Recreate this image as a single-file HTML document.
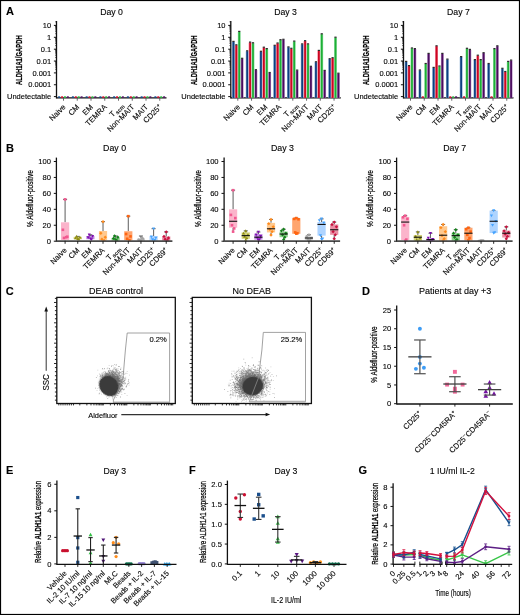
<!DOCTYPE html>
<html><head><meta charset="utf-8"><title>Figure</title>
<style>html,body{margin:0;padding:0;background:#fff;}svg{display:block;filter:blur(0.3px);}text{font-family:"Liberation Sans",sans-serif;}</style>
</head><body>
<svg width="520" height="615" viewBox="0 0 520 615" font-family='"Liberation Sans", sans-serif'>
<defs><filter id="bl1" x="-50%" y="-50%" width="200%" height="200%"><feGaussianBlur stdDeviation="0.7"/></filter><filter id="bl2" x="-50%" y="-50%" width="200%" height="200%"><feGaussianBlur stdDeviation="1.3"/></filter></defs>
<rect x="0" y="0" width="520" height="615" fill="#fff"/>
<text x="6.1" y="14.7" font-size="11" font-weight="bold" fill="#000" stroke="#000" stroke-width="0.12">A</text>
<text x="111.5" y="14.5" font-size="8.7" text-anchor="middle" stroke="#111" stroke-width="0.12">Day 0</text>
<line x1="56.5" y1="21" x2="56.5" y2="98.5" stroke="#111" stroke-width="1.3"/>
<line x1="53.9" y1="25.4" x2="56.5" y2="25.4" stroke="#111" stroke-width="1"/>
<text x="51.2" y="28" font-size="7.5" text-anchor="end" stroke="#111" stroke-width="0.12">10</text>
<line x1="53.9" y1="37.3" x2="56.5" y2="37.3" stroke="#111" stroke-width="1"/>
<text x="51.2" y="39.9" font-size="7.5" text-anchor="end" stroke="#111" stroke-width="0.12">1</text>
<line x1="53.9" y1="49.2" x2="56.5" y2="49.2" stroke="#111" stroke-width="1"/>
<text x="51.2" y="51.8" font-size="7.5" text-anchor="end" stroke="#111" stroke-width="0.12">0.1</text>
<line x1="53.9" y1="61.05" x2="56.5" y2="61.05" stroke="#111" stroke-width="1"/>
<text x="51.2" y="63.65" font-size="7.5" text-anchor="end" stroke="#111" stroke-width="0.12">0.01</text>
<line x1="53.9" y1="72.9" x2="56.5" y2="72.9" stroke="#111" stroke-width="1"/>
<text x="51.2" y="75.5" font-size="7.5" text-anchor="end" stroke="#111" stroke-width="0.12">0.001</text>
<line x1="53.9" y1="84.75" x2="56.5" y2="84.75" stroke="#111" stroke-width="1"/>
<text x="51.2" y="87.35" font-size="7.5" text-anchor="end" stroke="#111" stroke-width="0.12">0.0001</text>
<line x1="53.9" y1="96.6" x2="56.5" y2="96.6" stroke="#111" stroke-width="1"/>
<text x="51.2" y="99.2" font-size="7.5" text-anchor="end" textLength="44.2" lengthAdjust="spacingAndGlyphs" stroke="#111" stroke-width="0.12">Undetectable</text>
<line x1="55.1" y1="21.83" x2="56.5" y2="21.83" stroke="#111" stroke-width="0.6"/>
<line x1="55.1" y1="33.7" x2="56.5" y2="33.7" stroke="#111" stroke-width="0.6"/>
<line x1="55.1" y1="31.61" x2="56.5" y2="31.61" stroke="#111" stroke-width="0.6"/>
<line x1="55.1" y1="30.12" x2="56.5" y2="30.12" stroke="#111" stroke-width="0.6"/>
<line x1="55.1" y1="28.97" x2="56.5" y2="28.97" stroke="#111" stroke-width="0.6"/>
<line x1="55.1" y1="28.03" x2="56.5" y2="28.03" stroke="#111" stroke-width="0.6"/>
<line x1="55.1" y1="27.24" x2="56.5" y2="27.24" stroke="#111" stroke-width="0.6"/>
<line x1="55.1" y1="26.55" x2="56.5" y2="26.55" stroke="#111" stroke-width="0.6"/>
<line x1="55.1" y1="25.94" x2="56.5" y2="25.94" stroke="#111" stroke-width="0.6"/>
<line x1="55.1" y1="45.57" x2="56.5" y2="45.57" stroke="#111" stroke-width="0.6"/>
<line x1="55.1" y1="43.48" x2="56.5" y2="43.48" stroke="#111" stroke-width="0.6"/>
<line x1="55.1" y1="41.99" x2="56.5" y2="41.99" stroke="#111" stroke-width="0.6"/>
<line x1="55.1" y1="40.84" x2="56.5" y2="40.84" stroke="#111" stroke-width="0.6"/>
<line x1="55.1" y1="39.9" x2="56.5" y2="39.9" stroke="#111" stroke-width="0.6"/>
<line x1="55.1" y1="39.11" x2="56.5" y2="39.11" stroke="#111" stroke-width="0.6"/>
<line x1="55.1" y1="38.42" x2="56.5" y2="38.42" stroke="#111" stroke-width="0.6"/>
<line x1="55.1" y1="37.81" x2="56.5" y2="37.81" stroke="#111" stroke-width="0.6"/>
<line x1="55.1" y1="57.44" x2="56.5" y2="57.44" stroke="#111" stroke-width="0.6"/>
<line x1="55.1" y1="55.35" x2="56.5" y2="55.35" stroke="#111" stroke-width="0.6"/>
<line x1="55.1" y1="53.86" x2="56.5" y2="53.86" stroke="#111" stroke-width="0.6"/>
<line x1="55.1" y1="52.71" x2="56.5" y2="52.71" stroke="#111" stroke-width="0.6"/>
<line x1="55.1" y1="51.77" x2="56.5" y2="51.77" stroke="#111" stroke-width="0.6"/>
<line x1="55.1" y1="50.98" x2="56.5" y2="50.98" stroke="#111" stroke-width="0.6"/>
<line x1="55.1" y1="50.29" x2="56.5" y2="50.29" stroke="#111" stroke-width="0.6"/>
<line x1="55.1" y1="49.68" x2="56.5" y2="49.68" stroke="#111" stroke-width="0.6"/>
<line x1="55.1" y1="69.31" x2="56.5" y2="69.31" stroke="#111" stroke-width="0.6"/>
<line x1="55.1" y1="67.22" x2="56.5" y2="67.22" stroke="#111" stroke-width="0.6"/>
<line x1="55.1" y1="65.73" x2="56.5" y2="65.73" stroke="#111" stroke-width="0.6"/>
<line x1="55.1" y1="64.58" x2="56.5" y2="64.58" stroke="#111" stroke-width="0.6"/>
<line x1="55.1" y1="63.64" x2="56.5" y2="63.64" stroke="#111" stroke-width="0.6"/>
<line x1="55.1" y1="62.85" x2="56.5" y2="62.85" stroke="#111" stroke-width="0.6"/>
<line x1="55.1" y1="62.16" x2="56.5" y2="62.16" stroke="#111" stroke-width="0.6"/>
<line x1="55.1" y1="61.55" x2="56.5" y2="61.55" stroke="#111" stroke-width="0.6"/>
<text x="22.2" y="60.25" font-size="8.8" text-anchor="middle" font-weight="bold" textLength="49.7" lengthAdjust="spacingAndGlyphs" transform="rotate(-90 22.2 60.25)" stroke="#111" stroke-width="0.2">ALDH1A1/GAPDH</text>
<line x1="56.5" y1="97.9" x2="166.5" y2="97.9" stroke="#111" stroke-width="1.3"/>
<line x1="63.5" y1="97.9" x2="63.5" y2="100.7" stroke="#555" stroke-width="0.9"/>
<rect x="58.15" y="96.3" width="2" height="1.6" fill="#174a8b"/>
<rect x="61.05" y="96.3" width="2" height="1.6" fill="#d5112e"/>
<rect x="63.95" y="96.3" width="2" height="1.6" fill="#2db541"/>
<rect x="66.85" y="96.3" width="2" height="1.6" fill="#531565"/>
<text x="66.1" y="107.5" font-size="7.67" text-anchor="end" transform="rotate(-45 66.1 107.5)" stroke="#111" stroke-width="0.12">Naive</text>
<line x1="77.25" y1="97.9" x2="77.25" y2="100.7" stroke="#555" stroke-width="0.9"/>
<rect x="71.9" y="96.3" width="2" height="1.6" fill="#174a8b"/>
<rect x="74.8" y="96.3" width="2" height="1.6" fill="#d5112e"/>
<rect x="77.7" y="96.3" width="2" height="1.6" fill="#2db541"/>
<rect x="80.6" y="96.3" width="2" height="1.6" fill="#531565"/>
<text x="79.85" y="107.5" font-size="7.67" text-anchor="end" transform="rotate(-45 79.85 107.5)" stroke="#111" stroke-width="0.12">CM</text>
<line x1="91" y1="97.9" x2="91" y2="100.7" stroke="#555" stroke-width="0.9"/>
<rect x="85.65" y="96.3" width="2" height="1.6" fill="#174a8b"/>
<rect x="88.55" y="96.3" width="2" height="1.6" fill="#d5112e"/>
<rect x="91.45" y="96.3" width="2" height="1.6" fill="#2db541"/>
<rect x="94.35" y="96.3" width="2" height="1.6" fill="#531565"/>
<text x="93.6" y="107.5" font-size="7.67" text-anchor="end" transform="rotate(-45 93.6 107.5)" stroke="#111" stroke-width="0.12">EM</text>
<line x1="104.75" y1="97.9" x2="104.75" y2="100.7" stroke="#555" stroke-width="0.9"/>
<rect x="99.4" y="96.3" width="2" height="1.6" fill="#174a8b"/>
<rect x="102.3" y="96.3" width="2" height="1.6" fill="#d5112e"/>
<rect x="105.2" y="96.3" width="2" height="1.6" fill="#2db541"/>
<rect x="108.1" y="96.3" width="2" height="1.6" fill="#531565"/>
<text x="107.35" y="107.5" font-size="7.67" text-anchor="end" transform="rotate(-45 107.35 107.5)" stroke="#111" stroke-width="0.12">TEMRA</text>
<line x1="118.5" y1="97.9" x2="118.5" y2="100.7" stroke="#555" stroke-width="0.9"/>
<rect x="113.15" y="96.3" width="2" height="1.6" fill="#174a8b"/>
<rect x="116.05" y="96.3" width="2" height="1.6" fill="#d5112e"/>
<rect x="118.95" y="96.3" width="2" height="1.6" fill="#2db541"/>
<rect x="121.85" y="96.3" width="2" height="1.6" fill="#531565"/>
<text x="124.1" y="105.9" font-size="7.67" text-anchor="end" transform="rotate(-45 124.1 105.9)" stroke="#111" stroke-width="0.12">T<tspan font-size="5.8" dx="1.0" dy="1.7">scm</tspan></text>
<line x1="132.25" y1="97.9" x2="132.25" y2="100.7" stroke="#555" stroke-width="0.9"/>
<rect x="126.9" y="96.3" width="2" height="1.6" fill="#174a8b"/>
<rect x="129.8" y="96.3" width="2" height="1.6" fill="#d5112e"/>
<rect x="132.7" y="96.3" width="2" height="1.6" fill="#2db541"/>
<rect x="135.6" y="96.3" width="2" height="1.6" fill="#531565"/>
<text x="134.85" y="107.5" font-size="7.67" text-anchor="end" transform="rotate(-45 134.85 107.5)" stroke="#111" stroke-width="0.12">Non-MAIT</text>
<line x1="146" y1="97.9" x2="146" y2="100.7" stroke="#555" stroke-width="0.9"/>
<rect x="140.65" y="96.3" width="2" height="1.6" fill="#174a8b"/>
<rect x="143.55" y="96.3" width="2" height="1.6" fill="#d5112e"/>
<rect x="146.45" y="96.3" width="2" height="1.6" fill="#2db541"/>
<rect x="149.35" y="96.3" width="2" height="1.6" fill="#531565"/>
<text x="148.6" y="107.5" font-size="7.67" text-anchor="end" transform="rotate(-45 148.6 107.5)" stroke="#111" stroke-width="0.12">MAIT</text>
<line x1="159.75" y1="97.9" x2="159.75" y2="100.7" stroke="#555" stroke-width="0.9"/>
<rect x="154.4" y="96.3" width="2" height="1.6" fill="#174a8b"/>
<rect x="157.3" y="96.3" width="2" height="1.6" fill="#d5112e"/>
<rect x="160.2" y="96.3" width="2" height="1.6" fill="#2db541"/>
<rect x="163.1" y="96.3" width="2" height="1.6" fill="#531565"/>
<text x="162.35" y="107.5" font-size="7.67" text-anchor="end" transform="rotate(-45 162.35 107.5)" stroke="#111" stroke-width="0.12">CD25<tspan font-size="5.4" dy="-2.8">+</tspan></text>
<text x="285.6" y="14.5" font-size="8.7" text-anchor="middle" stroke="#111" stroke-width="0.12">Day 3</text>
<line x1="230.8" y1="21" x2="230.8" y2="98.5" stroke="#111" stroke-width="1.3"/>
<line x1="228.2" y1="25.4" x2="230.8" y2="25.4" stroke="#111" stroke-width="1"/>
<text x="225.5" y="28" font-size="7.5" text-anchor="end" stroke="#111" stroke-width="0.12">10</text>
<line x1="228.2" y1="37.3" x2="230.8" y2="37.3" stroke="#111" stroke-width="1"/>
<text x="225.5" y="39.9" font-size="7.5" text-anchor="end" stroke="#111" stroke-width="0.12">1</text>
<line x1="228.2" y1="49.2" x2="230.8" y2="49.2" stroke="#111" stroke-width="1"/>
<text x="225.5" y="51.8" font-size="7.5" text-anchor="end" stroke="#111" stroke-width="0.12">0.1</text>
<line x1="228.2" y1="61.05" x2="230.8" y2="61.05" stroke="#111" stroke-width="1"/>
<text x="225.5" y="63.65" font-size="7.5" text-anchor="end" stroke="#111" stroke-width="0.12">0.01</text>
<line x1="228.2" y1="72.9" x2="230.8" y2="72.9" stroke="#111" stroke-width="1"/>
<text x="225.5" y="75.5" font-size="7.5" text-anchor="end" stroke="#111" stroke-width="0.12">0.001</text>
<line x1="228.2" y1="84.75" x2="230.8" y2="84.75" stroke="#111" stroke-width="1"/>
<text x="225.5" y="87.35" font-size="7.5" text-anchor="end" stroke="#111" stroke-width="0.12">0.0001</text>
<line x1="228.2" y1="96.6" x2="230.8" y2="96.6" stroke="#111" stroke-width="1"/>
<text x="225.5" y="99.2" font-size="7.5" text-anchor="end" textLength="44.2" lengthAdjust="spacingAndGlyphs" stroke="#111" stroke-width="0.12">Undetectable</text>
<line x1="229.4" y1="21.83" x2="230.8" y2="21.83" stroke="#111" stroke-width="0.6"/>
<line x1="229.4" y1="33.7" x2="230.8" y2="33.7" stroke="#111" stroke-width="0.6"/>
<line x1="229.4" y1="31.61" x2="230.8" y2="31.61" stroke="#111" stroke-width="0.6"/>
<line x1="229.4" y1="30.12" x2="230.8" y2="30.12" stroke="#111" stroke-width="0.6"/>
<line x1="229.4" y1="28.97" x2="230.8" y2="28.97" stroke="#111" stroke-width="0.6"/>
<line x1="229.4" y1="28.03" x2="230.8" y2="28.03" stroke="#111" stroke-width="0.6"/>
<line x1="229.4" y1="27.24" x2="230.8" y2="27.24" stroke="#111" stroke-width="0.6"/>
<line x1="229.4" y1="26.55" x2="230.8" y2="26.55" stroke="#111" stroke-width="0.6"/>
<line x1="229.4" y1="25.94" x2="230.8" y2="25.94" stroke="#111" stroke-width="0.6"/>
<line x1="229.4" y1="45.57" x2="230.8" y2="45.57" stroke="#111" stroke-width="0.6"/>
<line x1="229.4" y1="43.48" x2="230.8" y2="43.48" stroke="#111" stroke-width="0.6"/>
<line x1="229.4" y1="41.99" x2="230.8" y2="41.99" stroke="#111" stroke-width="0.6"/>
<line x1="229.4" y1="40.84" x2="230.8" y2="40.84" stroke="#111" stroke-width="0.6"/>
<line x1="229.4" y1="39.9" x2="230.8" y2="39.9" stroke="#111" stroke-width="0.6"/>
<line x1="229.4" y1="39.11" x2="230.8" y2="39.11" stroke="#111" stroke-width="0.6"/>
<line x1="229.4" y1="38.42" x2="230.8" y2="38.42" stroke="#111" stroke-width="0.6"/>
<line x1="229.4" y1="37.81" x2="230.8" y2="37.81" stroke="#111" stroke-width="0.6"/>
<line x1="229.4" y1="57.44" x2="230.8" y2="57.44" stroke="#111" stroke-width="0.6"/>
<line x1="229.4" y1="55.35" x2="230.8" y2="55.35" stroke="#111" stroke-width="0.6"/>
<line x1="229.4" y1="53.86" x2="230.8" y2="53.86" stroke="#111" stroke-width="0.6"/>
<line x1="229.4" y1="52.71" x2="230.8" y2="52.71" stroke="#111" stroke-width="0.6"/>
<line x1="229.4" y1="51.77" x2="230.8" y2="51.77" stroke="#111" stroke-width="0.6"/>
<line x1="229.4" y1="50.98" x2="230.8" y2="50.98" stroke="#111" stroke-width="0.6"/>
<line x1="229.4" y1="50.29" x2="230.8" y2="50.29" stroke="#111" stroke-width="0.6"/>
<line x1="229.4" y1="49.68" x2="230.8" y2="49.68" stroke="#111" stroke-width="0.6"/>
<line x1="229.4" y1="69.31" x2="230.8" y2="69.31" stroke="#111" stroke-width="0.6"/>
<line x1="229.4" y1="67.22" x2="230.8" y2="67.22" stroke="#111" stroke-width="0.6"/>
<line x1="229.4" y1="65.73" x2="230.8" y2="65.73" stroke="#111" stroke-width="0.6"/>
<line x1="229.4" y1="64.58" x2="230.8" y2="64.58" stroke="#111" stroke-width="0.6"/>
<line x1="229.4" y1="63.64" x2="230.8" y2="63.64" stroke="#111" stroke-width="0.6"/>
<line x1="229.4" y1="62.85" x2="230.8" y2="62.85" stroke="#111" stroke-width="0.6"/>
<line x1="229.4" y1="62.16" x2="230.8" y2="62.16" stroke="#111" stroke-width="0.6"/>
<line x1="229.4" y1="61.55" x2="230.8" y2="61.55" stroke="#111" stroke-width="0.6"/>
<text x="196.5" y="60.25" font-size="8.8" text-anchor="middle" font-weight="bold" textLength="49.7" lengthAdjust="spacingAndGlyphs" transform="rotate(-90 196.5 60.25)" stroke="#111" stroke-width="0.2">ALDH1A1/GAPDH</text>
<line x1="230.8" y1="97.9" x2="340.8" y2="97.9" stroke="#111" stroke-width="1.3"/>
<line x1="237.8" y1="97.9" x2="237.8" y2="100.7" stroke="#555" stroke-width="0.9"/>
<rect x="232.03" y="41.8" width="2.84" height="56.1" fill="#88acd2"/>
<rect x="232.6" y="41.8" width="1.7" height="56.1" fill="#0d3f7f"/>
<rect x="232.35" y="40.8" width="2.2" height="1.2" fill="#2a2a2a"/>
<rect x="234.93" y="45.2" width="2.84" height="52.7" fill="#ee7890"/>
<rect x="235.5" y="45.2" width="1.7" height="52.7" fill="#cc0620"/>
<rect x="235.25" y="44.2" width="2.2" height="1.2" fill="#2a2a2a"/>
<rect x="237.83" y="31.8" width="2.84" height="66.1" fill="#92dea0"/>
<rect x="238.4" y="31.8" width="1.7" height="66.1" fill="#1daf36"/>
<rect x="238.15" y="30.8" width="2.2" height="1.2" fill="#2a2a2a"/>
<rect x="240.73" y="58.7" width="2.84" height="39.2" fill="#b088c0"/>
<rect x="241.3" y="58.7" width="1.7" height="39.2" fill="#4a0c5c"/>
<rect x="241.05" y="57.7" width="2.2" height="1.2" fill="#2a2a2a"/>
<text x="240.4" y="107.5" font-size="7.67" text-anchor="end" transform="rotate(-45 240.4 107.5)" stroke="#111" stroke-width="0.12">Naive</text>
<line x1="251.55" y1="97.9" x2="251.55" y2="100.7" stroke="#555" stroke-width="0.9"/>
<rect x="245.78" y="51.2" width="2.84" height="46.7" fill="#88acd2"/>
<rect x="246.35" y="51.2" width="1.7" height="46.7" fill="#0d3f7f"/>
<rect x="246.1" y="50.2" width="2.2" height="1.2" fill="#2a2a2a"/>
<rect x="248.68" y="42.5" width="2.84" height="55.4" fill="#ee7890"/>
<rect x="249.25" y="42.5" width="1.7" height="55.4" fill="#cc0620"/>
<rect x="249" y="41.5" width="2.2" height="1.2" fill="#2a2a2a"/>
<rect x="251.58" y="43.2" width="2.84" height="54.7" fill="#92dea0"/>
<rect x="252.15" y="43.2" width="1.7" height="54.7" fill="#1daf36"/>
<rect x="251.9" y="42.2" width="2.2" height="1.2" fill="#2a2a2a"/>
<rect x="254.48" y="70.1" width="2.84" height="27.8" fill="#b088c0"/>
<rect x="255.05" y="70.1" width="1.7" height="27.8" fill="#4a0c5c"/>
<rect x="254.8" y="69.1" width="2.2" height="1.2" fill="#2a2a2a"/>
<text x="254.15" y="107.5" font-size="7.67" text-anchor="end" transform="rotate(-45 254.15 107.5)" stroke="#111" stroke-width="0.12">CM</text>
<line x1="265.3" y1="97.9" x2="265.3" y2="100.7" stroke="#555" stroke-width="0.9"/>
<rect x="259.53" y="51.7" width="2.84" height="46.2" fill="#88acd2"/>
<rect x="260.1" y="51.7" width="1.7" height="46.2" fill="#0d3f7f"/>
<rect x="259.85" y="50.7" width="2.2" height="1.2" fill="#2a2a2a"/>
<rect x="262.43" y="47.6" width="2.84" height="50.3" fill="#ee7890"/>
<rect x="263" y="47.6" width="1.7" height="50.3" fill="#cc0620"/>
<rect x="262.75" y="46.6" width="2.2" height="1.2" fill="#2a2a2a"/>
<rect x="265.33" y="49" width="2.84" height="48.9" fill="#92dea0"/>
<rect x="265.9" y="49" width="1.7" height="48.9" fill="#1daf36"/>
<rect x="265.65" y="48" width="2.2" height="1.2" fill="#2a2a2a"/>
<rect x="268.23" y="72.9" width="2.84" height="25" fill="#b088c0"/>
<rect x="268.8" y="72.9" width="1.7" height="25" fill="#4a0c5c"/>
<rect x="268.55" y="71.9" width="2.2" height="1.2" fill="#2a2a2a"/>
<text x="267.9" y="107.5" font-size="7.67" text-anchor="end" transform="rotate(-45 267.9 107.5)" stroke="#111" stroke-width="0.12">EM</text>
<line x1="279.05" y1="97.9" x2="279.05" y2="100.7" stroke="#555" stroke-width="0.9"/>
<rect x="273.28" y="45.7" width="2.84" height="52.2" fill="#88acd2"/>
<rect x="273.85" y="45.7" width="1.7" height="52.2" fill="#0d3f7f"/>
<rect x="273.6" y="44.7" width="2.2" height="1.2" fill="#2a2a2a"/>
<rect x="276.18" y="43.4" width="2.84" height="54.5" fill="#ee7890"/>
<rect x="276.75" y="43.4" width="1.7" height="54.5" fill="#cc0620"/>
<rect x="276.5" y="42.4" width="2.2" height="1.2" fill="#2a2a2a"/>
<rect x="279.08" y="40.1" width="2.84" height="57.8" fill="#92dea0"/>
<rect x="279.65" y="40.1" width="1.7" height="57.8" fill="#1daf36"/>
<rect x="279.4" y="39.1" width="2.2" height="1.2" fill="#2a2a2a"/>
<rect x="281.98" y="39.7" width="2.84" height="58.2" fill="#b088c0"/>
<rect x="282.55" y="39.7" width="1.7" height="58.2" fill="#4a0c5c"/>
<rect x="282.3" y="38.7" width="2.2" height="1.2" fill="#2a2a2a"/>
<text x="281.65" y="107.5" font-size="7.67" text-anchor="end" transform="rotate(-45 281.65 107.5)" stroke="#111" stroke-width="0.12">TEMRA</text>
<line x1="292.8" y1="97.9" x2="292.8" y2="100.7" stroke="#555" stroke-width="0.9"/>
<rect x="287.03" y="47.3" width="2.84" height="50.6" fill="#88acd2"/>
<rect x="287.6" y="47.3" width="1.7" height="50.6" fill="#0d3f7f"/>
<rect x="287.35" y="46.3" width="2.2" height="1.2" fill="#2a2a2a"/>
<rect x="289.93" y="48.7" width="2.84" height="49.2" fill="#ee7890"/>
<rect x="290.5" y="48.7" width="1.7" height="49.2" fill="#cc0620"/>
<rect x="290.25" y="47.7" width="2.2" height="1.2" fill="#2a2a2a"/>
<rect x="292.83" y="41.5" width="2.84" height="56.4" fill="#92dea0"/>
<rect x="293.4" y="41.5" width="1.7" height="56.4" fill="#1daf36"/>
<rect x="293.15" y="40.5" width="2.2" height="1.2" fill="#2a2a2a"/>
<rect x="295.73" y="70.5" width="2.84" height="27.4" fill="#b088c0"/>
<rect x="296.3" y="70.5" width="1.7" height="27.4" fill="#4a0c5c"/>
<rect x="296.05" y="69.5" width="2.2" height="1.2" fill="#2a2a2a"/>
<text x="298.4" y="105.9" font-size="7.67" text-anchor="end" transform="rotate(-45 298.4 105.9)" stroke="#111" stroke-width="0.12">T<tspan font-size="5.8" dx="1.0" dy="1.7">scm</tspan></text>
<line x1="306.55" y1="97.9" x2="306.55" y2="100.7" stroke="#555" stroke-width="0.9"/>
<rect x="300.78" y="44.3" width="2.84" height="53.6" fill="#88acd2"/>
<rect x="301.35" y="44.3" width="1.7" height="53.6" fill="#0d3f7f"/>
<rect x="301.1" y="43.3" width="2.2" height="1.2" fill="#2a2a2a"/>
<rect x="303.68" y="41.1" width="2.84" height="56.8" fill="#ee7890"/>
<rect x="304.25" y="41.1" width="1.7" height="56.8" fill="#cc0620"/>
<rect x="304" y="40.1" width="2.2" height="1.2" fill="#2a2a2a"/>
<rect x="306.58" y="44.3" width="2.84" height="53.6" fill="#92dea0"/>
<rect x="307.15" y="44.3" width="1.7" height="53.6" fill="#1daf36"/>
<rect x="306.9" y="43.3" width="2.2" height="1.2" fill="#2a2a2a"/>
<rect x="309.48" y="66.7" width="2.84" height="31.2" fill="#b088c0"/>
<rect x="310.05" y="66.7" width="1.7" height="31.2" fill="#4a0c5c"/>
<rect x="309.8" y="65.7" width="2.2" height="1.2" fill="#2a2a2a"/>
<text x="309.15" y="107.5" font-size="7.67" text-anchor="end" transform="rotate(-45 309.15 107.5)" stroke="#111" stroke-width="0.12">Non-MAIT</text>
<line x1="320.3" y1="97.9" x2="320.3" y2="100.7" stroke="#555" stroke-width="0.9"/>
<rect x="314.53" y="62.2" width="2.84" height="35.7" fill="#88acd2"/>
<rect x="315.1" y="62.2" width="1.7" height="35.7" fill="#0d3f7f"/>
<rect x="314.85" y="61.2" width="2.2" height="1.2" fill="#2a2a2a"/>
<rect x="317.43" y="50.8" width="2.84" height="47.1" fill="#ee7890"/>
<rect x="318" y="50.8" width="1.7" height="47.1" fill="#cc0620"/>
<rect x="317.75" y="49.8" width="2.2" height="1.2" fill="#2a2a2a"/>
<rect x="320.33" y="34.2" width="2.84" height="63.7" fill="#92dea0"/>
<rect x="320.9" y="34.2" width="1.7" height="63.7" fill="#1daf36"/>
<rect x="320.65" y="33.2" width="2.2" height="1.2" fill="#2a2a2a"/>
<rect x="323.23" y="70.8" width="2.84" height="27.1" fill="#b088c0"/>
<rect x="323.8" y="70.8" width="1.7" height="27.1" fill="#4a0c5c"/>
<rect x="323.55" y="69.8" width="2.2" height="1.2" fill="#2a2a2a"/>
<text x="322.9" y="107.5" font-size="7.67" text-anchor="end" transform="rotate(-45 322.9 107.5)" stroke="#111" stroke-width="0.12">MAIT</text>
<line x1="334.05" y1="97.9" x2="334.05" y2="100.7" stroke="#555" stroke-width="0.9"/>
<rect x="328.28" y="59.1" width="2.84" height="38.8" fill="#88acd2"/>
<rect x="328.85" y="59.1" width="1.7" height="38.8" fill="#0d3f7f"/>
<rect x="328.6" y="58.1" width="2.2" height="1.2" fill="#2a2a2a"/>
<rect x="331.18" y="58.1" width="2.84" height="39.8" fill="#ee7890"/>
<rect x="331.75" y="58.1" width="1.7" height="39.8" fill="#cc0620"/>
<rect x="331.5" y="57.1" width="2.2" height="1.2" fill="#2a2a2a"/>
<rect x="334.08" y="37.6" width="2.84" height="60.3" fill="#92dea0"/>
<rect x="334.65" y="37.6" width="1.7" height="60.3" fill="#1daf36"/>
<rect x="334.4" y="36.6" width="2.2" height="1.2" fill="#2a2a2a"/>
<rect x="336.98" y="73.6" width="2.84" height="24.3" fill="#b088c0"/>
<rect x="337.55" y="73.6" width="1.7" height="24.3" fill="#4a0c5c"/>
<rect x="337.3" y="72.6" width="2.2" height="1.2" fill="#2a2a2a"/>
<text x="336.65" y="107.5" font-size="7.67" text-anchor="end" transform="rotate(-45 336.65 107.5)" stroke="#111" stroke-width="0.12">CD25<tspan font-size="5.4" dy="-2.8">+</tspan></text>
<text x="458.4" y="14.5" font-size="8.7" text-anchor="middle" stroke="#111" stroke-width="0.12">Day 7</text>
<line x1="403.5" y1="21" x2="403.5" y2="98.5" stroke="#111" stroke-width="1.3"/>
<line x1="400.9" y1="25.4" x2="403.5" y2="25.4" stroke="#111" stroke-width="1"/>
<text x="398.2" y="28" font-size="7.5" text-anchor="end" stroke="#111" stroke-width="0.12">10</text>
<line x1="400.9" y1="37.3" x2="403.5" y2="37.3" stroke="#111" stroke-width="1"/>
<text x="398.2" y="39.9" font-size="7.5" text-anchor="end" stroke="#111" stroke-width="0.12">1</text>
<line x1="400.9" y1="49.2" x2="403.5" y2="49.2" stroke="#111" stroke-width="1"/>
<text x="398.2" y="51.8" font-size="7.5" text-anchor="end" stroke="#111" stroke-width="0.12">0.1</text>
<line x1="400.9" y1="61.05" x2="403.5" y2="61.05" stroke="#111" stroke-width="1"/>
<text x="398.2" y="63.65" font-size="7.5" text-anchor="end" stroke="#111" stroke-width="0.12">0.01</text>
<line x1="400.9" y1="72.9" x2="403.5" y2="72.9" stroke="#111" stroke-width="1"/>
<text x="398.2" y="75.5" font-size="7.5" text-anchor="end" stroke="#111" stroke-width="0.12">0.001</text>
<line x1="400.9" y1="84.75" x2="403.5" y2="84.75" stroke="#111" stroke-width="1"/>
<text x="398.2" y="87.35" font-size="7.5" text-anchor="end" stroke="#111" stroke-width="0.12">0.0001</text>
<line x1="400.9" y1="96.6" x2="403.5" y2="96.6" stroke="#111" stroke-width="1"/>
<text x="398.2" y="99.2" font-size="7.5" text-anchor="end" textLength="44.2" lengthAdjust="spacingAndGlyphs" stroke="#111" stroke-width="0.12">Undetectable</text>
<line x1="402.1" y1="21.83" x2="403.5" y2="21.83" stroke="#111" stroke-width="0.6"/>
<line x1="402.1" y1="33.7" x2="403.5" y2="33.7" stroke="#111" stroke-width="0.6"/>
<line x1="402.1" y1="31.61" x2="403.5" y2="31.61" stroke="#111" stroke-width="0.6"/>
<line x1="402.1" y1="30.12" x2="403.5" y2="30.12" stroke="#111" stroke-width="0.6"/>
<line x1="402.1" y1="28.97" x2="403.5" y2="28.97" stroke="#111" stroke-width="0.6"/>
<line x1="402.1" y1="28.03" x2="403.5" y2="28.03" stroke="#111" stroke-width="0.6"/>
<line x1="402.1" y1="27.24" x2="403.5" y2="27.24" stroke="#111" stroke-width="0.6"/>
<line x1="402.1" y1="26.55" x2="403.5" y2="26.55" stroke="#111" stroke-width="0.6"/>
<line x1="402.1" y1="25.94" x2="403.5" y2="25.94" stroke="#111" stroke-width="0.6"/>
<line x1="402.1" y1="45.57" x2="403.5" y2="45.57" stroke="#111" stroke-width="0.6"/>
<line x1="402.1" y1="43.48" x2="403.5" y2="43.48" stroke="#111" stroke-width="0.6"/>
<line x1="402.1" y1="41.99" x2="403.5" y2="41.99" stroke="#111" stroke-width="0.6"/>
<line x1="402.1" y1="40.84" x2="403.5" y2="40.84" stroke="#111" stroke-width="0.6"/>
<line x1="402.1" y1="39.9" x2="403.5" y2="39.9" stroke="#111" stroke-width="0.6"/>
<line x1="402.1" y1="39.11" x2="403.5" y2="39.11" stroke="#111" stroke-width="0.6"/>
<line x1="402.1" y1="38.42" x2="403.5" y2="38.42" stroke="#111" stroke-width="0.6"/>
<line x1="402.1" y1="37.81" x2="403.5" y2="37.81" stroke="#111" stroke-width="0.6"/>
<line x1="402.1" y1="57.44" x2="403.5" y2="57.44" stroke="#111" stroke-width="0.6"/>
<line x1="402.1" y1="55.35" x2="403.5" y2="55.35" stroke="#111" stroke-width="0.6"/>
<line x1="402.1" y1="53.86" x2="403.5" y2="53.86" stroke="#111" stroke-width="0.6"/>
<line x1="402.1" y1="52.71" x2="403.5" y2="52.71" stroke="#111" stroke-width="0.6"/>
<line x1="402.1" y1="51.77" x2="403.5" y2="51.77" stroke="#111" stroke-width="0.6"/>
<line x1="402.1" y1="50.98" x2="403.5" y2="50.98" stroke="#111" stroke-width="0.6"/>
<line x1="402.1" y1="50.29" x2="403.5" y2="50.29" stroke="#111" stroke-width="0.6"/>
<line x1="402.1" y1="49.68" x2="403.5" y2="49.68" stroke="#111" stroke-width="0.6"/>
<line x1="402.1" y1="69.31" x2="403.5" y2="69.31" stroke="#111" stroke-width="0.6"/>
<line x1="402.1" y1="67.22" x2="403.5" y2="67.22" stroke="#111" stroke-width="0.6"/>
<line x1="402.1" y1="65.73" x2="403.5" y2="65.73" stroke="#111" stroke-width="0.6"/>
<line x1="402.1" y1="64.58" x2="403.5" y2="64.58" stroke="#111" stroke-width="0.6"/>
<line x1="402.1" y1="63.64" x2="403.5" y2="63.64" stroke="#111" stroke-width="0.6"/>
<line x1="402.1" y1="62.85" x2="403.5" y2="62.85" stroke="#111" stroke-width="0.6"/>
<line x1="402.1" y1="62.16" x2="403.5" y2="62.16" stroke="#111" stroke-width="0.6"/>
<line x1="402.1" y1="61.55" x2="403.5" y2="61.55" stroke="#111" stroke-width="0.6"/>
<text x="369.2" y="60.25" font-size="8.8" text-anchor="middle" font-weight="bold" textLength="49.7" lengthAdjust="spacingAndGlyphs" transform="rotate(-90 369.2 60.25)" stroke="#111" stroke-width="0.2">ALDH1A1/GAPDH</text>
<line x1="403.5" y1="97.9" x2="513.5" y2="97.9" stroke="#111" stroke-width="1.3"/>
<line x1="410.5" y1="97.9" x2="410.5" y2="100.7" stroke="#555" stroke-width="0.9"/>
<rect x="404.73" y="61.8" width="2.84" height="36.1" fill="#88acd2"/>
<rect x="405.3" y="61.8" width="1.7" height="36.1" fill="#0d3f7f"/>
<rect x="405.05" y="60.8" width="2.2" height="1.2" fill="#2a2a2a"/>
<rect x="407.63" y="66" width="2.84" height="31.9" fill="#ee7890"/>
<rect x="408.2" y="66" width="1.7" height="31.9" fill="#cc0620"/>
<rect x="407.95" y="65" width="2.2" height="1.2" fill="#2a2a2a"/>
<rect x="410.53" y="48.4" width="2.84" height="49.5" fill="#92dea0"/>
<rect x="411.1" y="48.4" width="1.7" height="49.5" fill="#1daf36"/>
<rect x="410.85" y="47.4" width="2.2" height="1.2" fill="#2a2a2a"/>
<rect x="413.43" y="49" width="2.84" height="48.9" fill="#b088c0"/>
<rect x="414" y="49" width="1.7" height="48.9" fill="#4a0c5c"/>
<rect x="413.75" y="48" width="2.2" height="1.2" fill="#2a2a2a"/>
<text x="413.1" y="107.5" font-size="7.67" text-anchor="end" transform="rotate(-45 413.1 107.5)" stroke="#111" stroke-width="0.12">Naive</text>
<line x1="424.25" y1="97.9" x2="424.25" y2="100.7" stroke="#555" stroke-width="0.9"/>
<rect x="418.48" y="70.4" width="2.84" height="27.5" fill="#88acd2"/>
<rect x="419.05" y="70.4" width="1.7" height="27.5" fill="#0d3f7f"/>
<rect x="418.8" y="69.4" width="2.2" height="1.2" fill="#2a2a2a"/>
<rect x="421.8" y="96.3" width="2" height="1.6" fill="#d5112e"/>
<rect x="424.28" y="63.9" width="2.84" height="34" fill="#92dea0"/>
<rect x="424.85" y="63.9" width="1.7" height="34" fill="#1daf36"/>
<rect x="424.6" y="62.9" width="2.2" height="1.2" fill="#2a2a2a"/>
<rect x="427.18" y="53.8" width="2.84" height="44.1" fill="#b088c0"/>
<rect x="427.75" y="53.8" width="1.7" height="44.1" fill="#4a0c5c"/>
<rect x="427.5" y="52.8" width="2.2" height="1.2" fill="#2a2a2a"/>
<text x="426.85" y="107.5" font-size="7.67" text-anchor="end" transform="rotate(-45 426.85 107.5)" stroke="#111" stroke-width="0.12">CM</text>
<line x1="438" y1="97.9" x2="438" y2="100.7" stroke="#555" stroke-width="0.9"/>
<rect x="432.23" y="67.8" width="2.84" height="30.1" fill="#88acd2"/>
<rect x="432.8" y="67.8" width="1.7" height="30.1" fill="#0d3f7f"/>
<rect x="432.55" y="66.8" width="2.2" height="1.2" fill="#2a2a2a"/>
<rect x="435.13" y="46.2" width="2.84" height="51.7" fill="#ee7890"/>
<rect x="435.7" y="46.2" width="1.7" height="51.7" fill="#cc0620"/>
<rect x="435.45" y="45.2" width="2.2" height="1.2" fill="#2a2a2a"/>
<rect x="438.03" y="66.4" width="2.84" height="31.5" fill="#92dea0"/>
<rect x="438.6" y="66.4" width="1.7" height="31.5" fill="#1daf36"/>
<rect x="438.35" y="65.4" width="2.2" height="1.2" fill="#2a2a2a"/>
<rect x="440.93" y="53.8" width="2.84" height="44.1" fill="#b088c0"/>
<rect x="441.5" y="53.8" width="1.7" height="44.1" fill="#4a0c5c"/>
<rect x="441.25" y="52.8" width="2.2" height="1.2" fill="#2a2a2a"/>
<text x="440.6" y="107.5" font-size="7.67" text-anchor="end" transform="rotate(-45 440.6 107.5)" stroke="#111" stroke-width="0.12">EM</text>
<line x1="451.75" y1="97.9" x2="451.75" y2="100.7" stroke="#555" stroke-width="0.9"/>
<rect x="445.98" y="59.5" width="2.84" height="38.4" fill="#88acd2"/>
<rect x="446.55" y="59.5" width="1.7" height="38.4" fill="#0d3f7f"/>
<rect x="446.3" y="58.5" width="2.2" height="1.2" fill="#2a2a2a"/>
<rect x="449.3" y="96.3" width="2" height="1.6" fill="#d5112e"/>
<rect x="452.2" y="96.3" width="2" height="1.6" fill="#2db541"/>
<rect x="455.1" y="96.3" width="2" height="1.6" fill="#531565"/>
<text x="454.35" y="107.5" font-size="7.67" text-anchor="end" transform="rotate(-45 454.35 107.5)" stroke="#111" stroke-width="0.12">TEMRA</text>
<line x1="465.5" y1="97.9" x2="465.5" y2="100.7" stroke="#555" stroke-width="0.9"/>
<rect x="459.73" y="57" width="2.84" height="40.9" fill="#88acd2"/>
<rect x="460.3" y="57" width="1.7" height="40.9" fill="#0d3f7f"/>
<rect x="460.05" y="56" width="2.2" height="1.2" fill="#2a2a2a"/>
<rect x="463.05" y="96.3" width="2" height="1.6" fill="#d5112e"/>
<rect x="465.53" y="48.7" width="2.84" height="49.2" fill="#92dea0"/>
<rect x="466.1" y="48.7" width="1.7" height="49.2" fill="#1daf36"/>
<rect x="465.85" y="47.7" width="2.2" height="1.2" fill="#2a2a2a"/>
<rect x="468.43" y="49.8" width="2.84" height="48.1" fill="#b088c0"/>
<rect x="469" y="49.8" width="1.7" height="48.1" fill="#4a0c5c"/>
<rect x="468.75" y="48.8" width="2.2" height="1.2" fill="#2a2a2a"/>
<text x="471.1" y="105.9" font-size="7.67" text-anchor="end" transform="rotate(-45 471.1 105.9)" stroke="#111" stroke-width="0.12">T<tspan font-size="5.8" dx="1.0" dy="1.7">scm</tspan></text>
<line x1="479.25" y1="97.9" x2="479.25" y2="100.7" stroke="#555" stroke-width="0.9"/>
<rect x="473.48" y="60" width="2.84" height="37.9" fill="#88acd2"/>
<rect x="474.05" y="60" width="1.7" height="37.9" fill="#0d3f7f"/>
<rect x="473.8" y="59" width="2.2" height="1.2" fill="#2a2a2a"/>
<rect x="476.38" y="55.6" width="2.84" height="42.3" fill="#ee7890"/>
<rect x="476.95" y="55.6" width="1.7" height="42.3" fill="#cc0620"/>
<rect x="476.7" y="54.6" width="2.2" height="1.2" fill="#2a2a2a"/>
<rect x="479.28" y="60" width="2.84" height="37.9" fill="#92dea0"/>
<rect x="479.85" y="60" width="1.7" height="37.9" fill="#1daf36"/>
<rect x="479.6" y="59" width="2.2" height="1.2" fill="#2a2a2a"/>
<rect x="482.18" y="53.1" width="2.84" height="44.8" fill="#b088c0"/>
<rect x="482.75" y="53.1" width="1.7" height="44.8" fill="#4a0c5c"/>
<rect x="482.5" y="52.1" width="2.2" height="1.2" fill="#2a2a2a"/>
<text x="481.85" y="107.5" font-size="7.67" text-anchor="end" transform="rotate(-45 481.85 107.5)" stroke="#111" stroke-width="0.12">Non-MAIT</text>
<line x1="493" y1="97.9" x2="493" y2="100.7" stroke="#555" stroke-width="0.9"/>
<rect x="487.23" y="63.9" width="2.84" height="34" fill="#88acd2"/>
<rect x="487.8" y="63.9" width="1.7" height="34" fill="#0d3f7f"/>
<rect x="487.55" y="62.9" width="2.2" height="1.2" fill="#2a2a2a"/>
<rect x="490.55" y="96.3" width="2" height="1.6" fill="#d5112e"/>
<rect x="493.03" y="49" width="2.84" height="48.9" fill="#92dea0"/>
<rect x="493.6" y="49" width="1.7" height="48.9" fill="#1daf36"/>
<rect x="493.35" y="48" width="2.2" height="1.2" fill="#2a2a2a"/>
<rect x="495.93" y="46.2" width="2.84" height="51.7" fill="#b088c0"/>
<rect x="496.5" y="46.2" width="1.7" height="51.7" fill="#4a0c5c"/>
<rect x="496.25" y="45.2" width="2.2" height="1.2" fill="#2a2a2a"/>
<text x="495.6" y="107.5" font-size="7.67" text-anchor="end" transform="rotate(-45 495.6 107.5)" stroke="#111" stroke-width="0.12">MAIT</text>
<line x1="506.75" y1="97.9" x2="506.75" y2="100.7" stroke="#555" stroke-width="0.9"/>
<rect x="500.98" y="68.7" width="2.84" height="29.2" fill="#88acd2"/>
<rect x="501.55" y="68.7" width="1.7" height="29.2" fill="#0d3f7f"/>
<rect x="501.3" y="67.7" width="2.2" height="1.2" fill="#2a2a2a"/>
<rect x="503.88" y="71.9" width="2.84" height="26" fill="#ee7890"/>
<rect x="504.45" y="71.9" width="1.7" height="26" fill="#cc0620"/>
<rect x="504.2" y="70.9" width="2.2" height="1.2" fill="#2a2a2a"/>
<rect x="506.78" y="61.8" width="2.84" height="36.1" fill="#92dea0"/>
<rect x="507.35" y="61.8" width="1.7" height="36.1" fill="#1daf36"/>
<rect x="507.1" y="60.8" width="2.2" height="1.2" fill="#2a2a2a"/>
<rect x="509.68" y="60.5" width="2.84" height="37.4" fill="#b088c0"/>
<rect x="510.25" y="60.5" width="1.7" height="37.4" fill="#4a0c5c"/>
<rect x="510" y="59.5" width="2.2" height="1.2" fill="#2a2a2a"/>
<text x="509.35" y="107.5" font-size="7.67" text-anchor="end" transform="rotate(-45 509.35 107.5)" stroke="#111" stroke-width="0.12">CD25<tspan font-size="5.4" dy="-2.8">+</tspan></text>
<text x="5.9" y="151.5" font-size="11" font-weight="bold" fill="#000" stroke="#000" stroke-width="0.12">B</text>
<text x="114.6" y="150.8" font-size="8.8" text-anchor="middle" stroke="#111" stroke-width="0.12">Day 0</text>
<line x1="56.4" y1="157.6" x2="56.4" y2="241.8" stroke="#111" stroke-width="1.3"/>
<line x1="53.8" y1="241.2" x2="56.4" y2="241.2" stroke="#111" stroke-width="1"/>
<text x="50.9" y="243.8" font-size="7.6" text-anchor="end" stroke="#111" stroke-width="0.12">0</text>
<line x1="53.8" y1="225.26" x2="56.4" y2="225.26" stroke="#111" stroke-width="1"/>
<text x="50.9" y="227.86" font-size="7.6" text-anchor="end" stroke="#111" stroke-width="0.12">20</text>
<line x1="53.8" y1="209.32" x2="56.4" y2="209.32" stroke="#111" stroke-width="1"/>
<text x="50.9" y="211.92" font-size="7.6" text-anchor="end" stroke="#111" stroke-width="0.12">40</text>
<line x1="53.8" y1="193.38" x2="56.4" y2="193.38" stroke="#111" stroke-width="1"/>
<text x="50.9" y="195.98" font-size="7.6" text-anchor="end" stroke="#111" stroke-width="0.12">60</text>
<line x1="53.8" y1="177.44" x2="56.4" y2="177.44" stroke="#111" stroke-width="1"/>
<text x="50.9" y="180.04" font-size="7.6" text-anchor="end" stroke="#111" stroke-width="0.12">80</text>
<line x1="53.8" y1="161.5" x2="56.4" y2="161.5" stroke="#111" stroke-width="1"/>
<text x="50.9" y="164.1" font-size="7.6" text-anchor="end" stroke="#111" stroke-width="0.12">100</text>
<text x="32.8" y="198.5" font-size="9" text-anchor="middle" textLength="56.8" lengthAdjust="spacingAndGlyphs" transform="rotate(-90 32.8 198.5)" stroke="#111" stroke-width="0.25">% Aldefluor-positive</text>
<line x1="65.1" y1="199.36" x2="65.1" y2="222.31" stroke="#6b6b6b" stroke-width="1.1"/>
<line x1="65.1" y1="240" x2="65.1" y2="240.4" stroke="#6b6b6b" stroke-width="1.1"/>
<line x1="63.1" y1="199.36" x2="67.1" y2="199.36" stroke="#555" stroke-width="1"/>
<rect x="61" y="222.31" width="8.2" height="17.69" fill="#fbb4cb"/>
<rect x="63.8" y="198.06" width="2.6" height="2.6" fill="#f2588f"/>
<rect x="61.6" y="228.5" width="2.6" height="2.6" fill="#f2588f"/>
<rect x="66" y="235.44" width="2.6" height="2.6" fill="#f2588f"/>
<rect x="62.7" y="236.63" width="2.6" height="2.6" fill="#f2588f"/>
<rect x="64.9" y="235.91" width="2.6" height="2.6" fill="#f2588f"/>
<line x1="77.74" y1="236.42" x2="77.74" y2="236.82" stroke="#6b6b6b" stroke-width="1.1"/>
<line x1="77.74" y1="239.21" x2="77.74" y2="240" stroke="#6b6b6b" stroke-width="1.1"/>
<line x1="75.74" y1="236.42" x2="79.74" y2="236.42" stroke="#555" stroke-width="1"/>
<rect x="73.64" y="236.82" width="8.2" height="2.39" fill="#d3d27a"/>
<path d="M77.74 237.25L79.3 240.11L76.18 240.11Z" fill="#8f8d12"/>
<path d="M75.54 236.45L77.1 239.31L73.98 239.31Z" fill="#8f8d12"/>
<path d="M79.94 235.65L81.5 238.51L78.38 238.51Z" fill="#8f8d12"/>
<path d="M76.64 234.86L78.2 237.72L75.08 237.72Z" fill="#8f8d12"/>
<path d="M78.84 237.65L80.4 240.51L77.28 240.51Z" fill="#8f8d12"/>
<line x1="90.38" y1="234.82" x2="90.38" y2="236.02" stroke="#6b6b6b" stroke-width="1.1"/>
<line x1="90.38" y1="239.21" x2="90.38" y2="239.61" stroke="#6b6b6b" stroke-width="1.1"/>
<line x1="88.38" y1="234.82" x2="92.38" y2="234.82" stroke="#555" stroke-width="1"/>
<rect x="86.28" y="236.02" width="8.2" height="3.19" fill="#c08ae0"/>
<path d="M90.38 240.37L91.94 237.51L88.82 237.51Z" fill="#7d0eb0"/>
<path d="M88.18 239.17L89.74 236.31L86.62 236.31Z" fill="#7d0eb0"/>
<path d="M92.58 237.98L94.14 235.12L91.02 235.12Z" fill="#7d0eb0"/>
<path d="M89.28 236.38L90.84 233.52L87.72 233.52Z" fill="#7d0eb0"/>
<path d="M91.48 241.17L93.04 238.31L89.92 238.31Z" fill="#7d0eb0"/>
<line x1="103.02" y1="221.67" x2="103.02" y2="231" stroke="#6b6b6b" stroke-width="1.1"/>
<line x1="103.02" y1="240.4" x2="103.02" y2="240.8" stroke="#6b6b6b" stroke-width="1.1"/>
<line x1="101.02" y1="221.67" x2="105.02" y2="221.67" stroke="#555" stroke-width="1"/>
<rect x="98.92" y="231" width="8.2" height="9.4" fill="#ffc98f"/>
<path d="M103.02 219.98L104.71 221.67L103.02 223.36L101.33 221.67Z" fill="#ff8a1c"/>
<path d="M100.82 231.54L102.51 233.23L100.82 234.92L99.13 233.23Z" fill="#ff8a1c"/>
<path d="M105.22 235.52L106.91 237.21L105.22 238.9L103.53 237.21Z" fill="#ff8a1c"/>
<path d="M101.92 237.52L103.61 239.21L101.92 240.9L100.23 239.21Z" fill="#ff8a1c"/>
<path d="M104.12 238.71L105.81 240.4L104.12 242.09L102.43 240.4Z" fill="#ff8a1c"/>
<line x1="115.66" y1="236.02" x2="115.66" y2="238.01" stroke="#6b6b6b" stroke-width="1.1"/>
<line x1="115.66" y1="240.8" x2="115.66" y2="241.04" stroke="#6b6b6b" stroke-width="1.1"/>
<line x1="113.66" y1="236.02" x2="117.66" y2="236.02" stroke="#555" stroke-width="1"/>
<rect x="111.56" y="238.01" width="8.2" height="2.79" fill="#8fd08f"/>
<path d="M115.66 237.92L117.35 239.61L115.66 241.3L113.97 239.61Z" fill="#14821b"/>
<path d="M113.46 236.72L115.15 238.41L113.46 240.1L111.77 238.41Z" fill="#14821b"/>
<path d="M117.86 235.52L119.55 237.21L117.86 238.9L116.17 237.21Z" fill="#14821b"/>
<path d="M114.56 234.33L116.25 236.02L114.56 237.71L112.87 236.02Z" fill="#14821b"/>
<path d="M116.76 238.71L118.45 240.4L116.76 242.09L115.07 240.4Z" fill="#14821b"/>
<line x1="128.3" y1="216.17" x2="128.3" y2="231.24" stroke="#6b6b6b" stroke-width="1.1"/>
<line x1="128.3" y1="240.4" x2="128.3" y2="240.8" stroke="#6b6b6b" stroke-width="1.1"/>
<line x1="126.3" y1="216.17" x2="130.3" y2="216.17" stroke="#555" stroke-width="1"/>
<rect x="124.2" y="231.24" width="8.2" height="9.17" fill="#ffa56f"/>
<rect x="127" y="214.87" width="2.6" height="2.6" fill="#ff6512"/>
<rect x="124.8" y="232.73" width="2.6" height="2.6" fill="#ff6512"/>
<rect x="129.2" y="235.12" width="2.6" height="2.6" fill="#ff6512"/>
<rect x="125.9" y="237.51" width="2.6" height="2.6" fill="#ff6512"/>
<rect x="128.1" y="239.1" width="2.6" height="2.6" fill="#ff6512"/>
<line x1="140.94" y1="236.02" x2="140.94" y2="238.81" stroke="#6b6b6b" stroke-width="1.1"/>
<line x1="140.94" y1="240.96" x2="140.94" y2="241.04" stroke="#6b6b6b" stroke-width="1.1"/>
<line x1="138.94" y1="236.02" x2="142.94" y2="236.02" stroke="#555" stroke-width="1"/>
<rect x="136.84" y="238.81" width="8.2" height="2.15" fill="#d6d6d6"/>
<circle cx="140.94" cy="240.4" r="1.3" fill="#a4a4a4"/>
<circle cx="138.74" cy="239.61" r="1.3" fill="#a4a4a4"/>
<circle cx="143.14" cy="238.81" r="1.3" fill="#a4a4a4"/>
<circle cx="139.84" cy="240.8" r="1.3" fill="#a4a4a4"/>
<circle cx="142.04" cy="238.01" r="1.3" fill="#a4a4a4"/>
<line x1="153.58" y1="228.69" x2="153.58" y2="236.02" stroke="#6b6b6b" stroke-width="1.1"/>
<line x1="153.58" y1="240.8" x2="153.58" y2="240.96" stroke="#6b6b6b" stroke-width="1.1"/>
<line x1="151.58" y1="228.69" x2="155.58" y2="228.69" stroke="#555" stroke-width="1"/>
<rect x="149.48" y="236.02" width="8.2" height="4.78" fill="#aed4ff"/>
<path d="M153.58 230.25L155.14 227.39L152.02 227.39Z" fill="#44a3ff"/>
<path d="M151.38 238.38L152.94 235.52L149.82 235.52Z" fill="#44a3ff"/>
<path d="M155.78 239.57L157.34 236.71L154.22 236.71Z" fill="#44a3ff"/>
<path d="M152.48 241.17L154.04 238.31L150.92 238.31Z" fill="#44a3ff"/>
<path d="M154.68 241.96L156.24 239.1L153.12 239.1Z" fill="#44a3ff"/>
<line x1="166.22" y1="231.88" x2="166.22" y2="236.42" stroke="#6b6b6b" stroke-width="1.1"/>
<line x1="166.22" y1="240.8" x2="166.22" y2="240.96" stroke="#6b6b6b" stroke-width="1.1"/>
<line x1="164.22" y1="231.88" x2="168.22" y2="231.88" stroke="#555" stroke-width="1"/>
<rect x="162.12" y="236.42" width="8.2" height="4.38" fill="#e88ea4"/>
<path d="M166.22 230.19L167.91 231.88L166.22 233.57L164.53 231.88Z" fill="#c9123e"/>
<path d="M164.02 234.73L165.71 236.42L164.02 238.11L162.33 236.42Z" fill="#c9123e"/>
<path d="M168.42 236.32L170.11 238.01L168.42 239.7L166.73 238.01Z" fill="#c9123e"/>
<path d="M165.12 237.52L166.81 239.21L165.12 240.9L163.43 239.21Z" fill="#c9123e"/>
<path d="M167.32 238.71L169.01 240.4L167.32 242.09L165.63 240.4Z" fill="#c9123e"/>
<line x1="56.4" y1="241.2" x2="172.4" y2="241.2" stroke="#4a4a4a" stroke-width="1.7"/>
<line x1="65.1" y1="241.2" x2="65.1" y2="243.8" stroke="#111" stroke-width="0.9"/>
<text x="67.3" y="250.8" font-size="7.67" text-anchor="end" transform="rotate(-45 67.3 250.8)" stroke="#111" stroke-width="0.12">Naive</text>
<line x1="77.74" y1="241.2" x2="77.74" y2="243.8" stroke="#111" stroke-width="0.9"/>
<text x="79.94" y="250.8" font-size="7.67" text-anchor="end" transform="rotate(-45 79.94 250.8)" stroke="#111" stroke-width="0.12">CM</text>
<line x1="90.38" y1="241.2" x2="90.38" y2="243.8" stroke="#111" stroke-width="0.9"/>
<text x="92.58" y="250.8" font-size="7.67" text-anchor="end" transform="rotate(-45 92.58 250.8)" stroke="#111" stroke-width="0.12">EM</text>
<line x1="103.02" y1="241.2" x2="103.02" y2="243.8" stroke="#111" stroke-width="0.9"/>
<text x="105.22" y="250.8" font-size="7.67" text-anchor="end" transform="rotate(-45 105.22 250.8)" stroke="#111" stroke-width="0.12">TEMRA</text>
<line x1="115.66" y1="241.2" x2="115.66" y2="243.8" stroke="#111" stroke-width="0.9"/>
<text x="120.86" y="249.2" font-size="7.67" text-anchor="end" transform="rotate(-45 120.86 249.2)" stroke="#111" stroke-width="0.12">T<tspan font-size="5.8" dx="1.0" dy="1.7">scm</tspan></text>
<line x1="128.3" y1="241.2" x2="128.3" y2="243.8" stroke="#111" stroke-width="0.9"/>
<text x="130.5" y="250.8" font-size="7.67" text-anchor="end" transform="rotate(-45 130.5 250.8)" stroke="#111" stroke-width="0.12">Non-MAIT</text>
<line x1="140.94" y1="241.2" x2="140.94" y2="243.8" stroke="#111" stroke-width="0.9"/>
<text x="143.14" y="250.8" font-size="7.67" text-anchor="end" transform="rotate(-45 143.14 250.8)" stroke="#111" stroke-width="0.12">MAIT</text>
<line x1="153.58" y1="241.2" x2="153.58" y2="243.8" stroke="#111" stroke-width="0.9"/>
<text x="155.78" y="250.8" font-size="7.67" text-anchor="end" transform="rotate(-45 155.78 250.8)" stroke="#111" stroke-width="0.12">CD25<tspan font-size="5.4" dy="-2.8">+</tspan></text>
<line x1="166.22" y1="241.2" x2="166.22" y2="243.8" stroke="#111" stroke-width="0.9"/>
<text x="168.42" y="250.8" font-size="7.67" text-anchor="end" transform="rotate(-45 168.42 250.8)" stroke="#111" stroke-width="0.12">CD69<tspan font-size="5.4" dy="-2.8">+</tspan></text>
<text x="282.4" y="150.8" font-size="8.8" text-anchor="middle" stroke="#111" stroke-width="0.12">Day 3</text>
<line x1="224.1" y1="157.6" x2="224.1" y2="241.8" stroke="#111" stroke-width="1.3"/>
<line x1="221.5" y1="241.2" x2="224.1" y2="241.2" stroke="#111" stroke-width="1"/>
<text x="218.6" y="243.8" font-size="7.6" text-anchor="end" stroke="#111" stroke-width="0.12">0</text>
<line x1="221.5" y1="225.26" x2="224.1" y2="225.26" stroke="#111" stroke-width="1"/>
<text x="218.6" y="227.86" font-size="7.6" text-anchor="end" stroke="#111" stroke-width="0.12">20</text>
<line x1="221.5" y1="209.32" x2="224.1" y2="209.32" stroke="#111" stroke-width="1"/>
<text x="218.6" y="211.92" font-size="7.6" text-anchor="end" stroke="#111" stroke-width="0.12">40</text>
<line x1="221.5" y1="193.38" x2="224.1" y2="193.38" stroke="#111" stroke-width="1"/>
<text x="218.6" y="195.98" font-size="7.6" text-anchor="end" stroke="#111" stroke-width="0.12">60</text>
<line x1="221.5" y1="177.44" x2="224.1" y2="177.44" stroke="#111" stroke-width="1"/>
<text x="218.6" y="180.04" font-size="7.6" text-anchor="end" stroke="#111" stroke-width="0.12">80</text>
<line x1="221.5" y1="161.5" x2="224.1" y2="161.5" stroke="#111" stroke-width="1"/>
<text x="218.6" y="164.1" font-size="7.6" text-anchor="end" stroke="#111" stroke-width="0.12">100</text>
<text x="200.5" y="198.5" font-size="9" text-anchor="middle" textLength="56.8" lengthAdjust="spacingAndGlyphs" transform="rotate(-90 200.5 198.5)" stroke="#111" stroke-width="0.25">% Aldefluor-positive</text>
<line x1="233.1" y1="190.19" x2="233.1" y2="209.32" stroke="#6b6b6b" stroke-width="1.1"/>
<line x1="233.1" y1="227.65" x2="233.1" y2="231.64" stroke="#6b6b6b" stroke-width="1.1"/>
<line x1="231.1" y1="190.19" x2="235.1" y2="190.19" stroke="#555" stroke-width="1"/>
<rect x="229" y="209.32" width="8.2" height="18.33" fill="#fbb4cb"/>
<rect x="231.8" y="188.89" width="2.6" height="2.6" fill="#f2588f"/>
<rect x="229.6" y="213.6" width="2.6" height="2.6" fill="#f2588f"/>
<rect x="234" y="216.79" width="2.6" height="2.6" fill="#f2588f"/>
<rect x="230.7" y="223.96" width="2.6" height="2.6" fill="#f2588f"/>
<rect x="232.9" y="227.15" width="2.6" height="2.6" fill="#f2588f"/>
<rect x="231.8" y="230.34" width="2.6" height="2.6" fill="#f2588f"/>
<line x1="229" y1="221.27" x2="237.2" y2="221.27" stroke="#111" stroke-width="1.1"/>
<line x1="245.74" y1="230.84" x2="245.74" y2="232.43" stroke="#6b6b6b" stroke-width="1.1"/>
<line x1="245.74" y1="238.81" x2="245.74" y2="239.61" stroke="#6b6b6b" stroke-width="1.1"/>
<line x1="243.74" y1="230.84" x2="247.74" y2="230.84" stroke="#555" stroke-width="1"/>
<rect x="241.64" y="232.43" width="8.2" height="6.38" fill="#d3d27a"/>
<path d="M245.74 229.28L247.3 232.14L244.18 232.14Z" fill="#8f8d12"/>
<path d="M243.54 231.67L245.1 234.53L241.98 234.53Z" fill="#8f8d12"/>
<path d="M247.94 233.26L249.5 236.12L246.38 236.12Z" fill="#8f8d12"/>
<path d="M244.64 234.86L246.2 237.72L243.08 237.72Z" fill="#8f8d12"/>
<path d="M246.84 236.45L248.4 239.31L245.28 239.31Z" fill="#8f8d12"/>
<path d="M245.74 238.05L247.3 240.91L244.18 240.91Z" fill="#8f8d12"/>
<line x1="241.64" y1="235.62" x2="249.84" y2="235.62" stroke="#111" stroke-width="1.1"/>
<line x1="258.38" y1="232.03" x2="258.38" y2="234.03" stroke="#6b6b6b" stroke-width="1.1"/>
<line x1="258.38" y1="239.61" x2="258.38" y2="240.4" stroke="#6b6b6b" stroke-width="1.1"/>
<line x1="256.38" y1="232.03" x2="260.38" y2="232.03" stroke="#555" stroke-width="1"/>
<rect x="254.28" y="234.03" width="8.2" height="5.58" fill="#c08ae0"/>
<path d="M258.38 233.59L259.94 230.73L256.82 230.73Z" fill="#7d0eb0"/>
<path d="M256.18 236.38L257.74 233.52L254.62 233.52Z" fill="#7d0eb0"/>
<path d="M260.58 237.98L262.14 235.12L259.02 235.12Z" fill="#7d0eb0"/>
<path d="M257.28 239.57L258.84 236.71L255.72 236.71Z" fill="#7d0eb0"/>
<path d="M259.48 241.17L261.04 238.31L257.92 238.31Z" fill="#7d0eb0"/>
<path d="M258.38 241.96L259.94 239.1L256.82 239.1Z" fill="#7d0eb0"/>
<line x1="254.28" y1="237.21" x2="262.48" y2="237.21" stroke="#111" stroke-width="1.1"/>
<line x1="271.02" y1="219.44" x2="271.02" y2="222.87" stroke="#6b6b6b" stroke-width="1.1"/>
<line x1="271.02" y1="232.43" x2="271.02" y2="234.98" stroke="#6b6b6b" stroke-width="1.1"/>
<line x1="269.02" y1="219.44" x2="273.02" y2="219.44" stroke="#555" stroke-width="1"/>
<rect x="266.92" y="222.87" width="8.2" height="9.56" fill="#ffc98f"/>
<path d="M271.02 217.75L272.71 219.44L271.02 221.13L269.33 219.44Z" fill="#ff8a1c"/>
<path d="M268.82 221.98L270.51 223.67L268.82 225.36L267.13 223.67Z" fill="#ff8a1c"/>
<path d="M273.22 225.16L274.91 226.85L273.22 228.54L271.53 226.85Z" fill="#ff8a1c"/>
<path d="M269.92 227.55L271.61 229.24L269.92 230.93L268.23 229.24Z" fill="#ff8a1c"/>
<path d="M272.12 229.95L273.81 231.64L272.12 233.33L270.43 231.64Z" fill="#ff8a1c"/>
<path d="M271.02 233.29L272.71 234.98L271.02 236.67L269.33 234.98Z" fill="#ff8a1c"/>
<line x1="266.92" y1="228.77" x2="275.12" y2="228.77" stroke="#111" stroke-width="1.1"/>
<line x1="283.66" y1="229.24" x2="283.66" y2="231.64" stroke="#6b6b6b" stroke-width="1.1"/>
<line x1="283.66" y1="237.21" x2="283.66" y2="239.61" stroke="#6b6b6b" stroke-width="1.1"/>
<line x1="281.66" y1="229.24" x2="285.66" y2="229.24" stroke="#555" stroke-width="1"/>
<rect x="279.56" y="231.64" width="8.2" height="5.58" fill="#8fd08f"/>
<path d="M283.66 227.55L285.35 229.24L283.66 230.93L281.97 229.24Z" fill="#14821b"/>
<path d="M281.46 229.15L283.15 230.84L281.46 232.53L279.77 230.84Z" fill="#14821b"/>
<path d="M285.86 231.54L287.55 233.23L285.86 234.92L284.17 233.23Z" fill="#14821b"/>
<path d="M282.56 233.13L284.25 234.82L282.56 236.51L280.87 234.82Z" fill="#14821b"/>
<path d="M284.76 235.52L286.45 237.21L284.76 238.9L283.07 237.21Z" fill="#14821b"/>
<path d="M283.66 237.92L285.35 239.61L283.66 241.3L281.97 239.61Z" fill="#14821b"/>
<line x1="279.56" y1="234.03" x2="287.76" y2="234.03" stroke="#111" stroke-width="1.1"/>
<line x1="296.3" y1="218.09" x2="296.3" y2="218.09" stroke="#6b6b6b" stroke-width="1.1"/>
<line x1="296.3" y1="233.79" x2="296.3" y2="233.79" stroke="#6b6b6b" stroke-width="1.1"/>
<line x1="294.3" y1="218.09" x2="298.3" y2="218.09" stroke="#555" stroke-width="1"/>
<rect x="292.2" y="218.09" width="8.2" height="15.7" fill="#ffa56f"/>
<rect x="295" y="216.79" width="2.6" height="2.6" fill="#ff6512"/>
<rect x="292.8" y="217.58" width="2.6" height="2.6" fill="#ff6512"/>
<rect x="297.2" y="217.98" width="2.6" height="2.6" fill="#ff6512"/>
<rect x="293.9" y="231.13" width="2.6" height="2.6" fill="#ff6512"/>
<rect x="296.1" y="231.93" width="2.6" height="2.6" fill="#ff6512"/>
<rect x="295" y="232.33" width="2.6" height="2.6" fill="#ff6512"/>
<line x1="308.94" y1="234.82" x2="308.94" y2="236.42" stroke="#6b6b6b" stroke-width="1.1"/>
<line x1="308.94" y1="240" x2="308.94" y2="240.6" stroke="#6b6b6b" stroke-width="1.1"/>
<line x1="306.94" y1="234.82" x2="310.94" y2="234.82" stroke="#555" stroke-width="1"/>
<rect x="304.84" y="236.42" width="8.2" height="3.59" fill="#d6d6d6"/>
<circle cx="308.94" cy="234.82" r="1.3" fill="#a4a4a4"/>
<circle cx="306.74" cy="236.42" r="1.3" fill="#a4a4a4"/>
<circle cx="311.14" cy="238.01" r="1.3" fill="#a4a4a4"/>
<circle cx="307.84" cy="239.61" r="1.3" fill="#a4a4a4"/>
<circle cx="310.04" cy="240.4" r="1.3" fill="#a4a4a4"/>
<line x1="304.84" y1="238.01" x2="313.04" y2="238.01" stroke="#111" stroke-width="1.1"/>
<line x1="321.58" y1="218.88" x2="321.58" y2="222.07" stroke="#6b6b6b" stroke-width="1.1"/>
<line x1="321.58" y1="235.62" x2="321.58" y2="239.37" stroke="#6b6b6b" stroke-width="1.1"/>
<line x1="319.58" y1="218.88" x2="323.58" y2="218.88" stroke="#555" stroke-width="1"/>
<rect x="317.48" y="222.07" width="8.2" height="13.55" fill="#aed4ff"/>
<path d="M321.58 220.44L323.14 217.58L320.02 217.58Z" fill="#44a3ff"/>
<path d="M319.38 222.04L320.94 219.18L317.82 219.18Z" fill="#44a3ff"/>
<path d="M323.78 224.43L325.34 221.57L322.22 221.57Z" fill="#44a3ff"/>
<path d="M320.48 237.18L322.04 234.32L318.92 234.32Z" fill="#44a3ff"/>
<path d="M322.68 240.37L324.24 237.51L321.12 237.51Z" fill="#44a3ff"/>
<path d="M321.58 240.93L323.14 238.07L320.02 238.07Z" fill="#44a3ff"/>
<line x1="317.48" y1="224.46" x2="325.68" y2="224.46" stroke="#111" stroke-width="1.1"/>
<line x1="334.22" y1="222.07" x2="334.22" y2="224.46" stroke="#6b6b6b" stroke-width="1.1"/>
<line x1="334.22" y1="234.82" x2="334.22" y2="238.81" stroke="#6b6b6b" stroke-width="1.1"/>
<line x1="332.22" y1="222.07" x2="336.22" y2="222.07" stroke="#555" stroke-width="1"/>
<rect x="330.12" y="224.46" width="8.2" height="10.36" fill="#e88ea4"/>
<path d="M334.22 220.38L335.91 222.07L334.22 223.76L332.53 222.07Z" fill="#c9123e"/>
<path d="M332.02 222.77L333.71 224.46L332.02 226.15L330.33 224.46Z" fill="#c9123e"/>
<path d="M336.42 225.16L338.11 226.85L336.42 228.54L334.73 226.85Z" fill="#c9123e"/>
<path d="M333.12 229.95L334.81 231.64L333.12 233.33L331.43 231.64Z" fill="#c9123e"/>
<path d="M335.32 233.13L337.01 234.82L335.32 236.51L333.63 234.82Z" fill="#c9123e"/>
<path d="M334.22 237.12L335.91 238.81L334.22 240.5L332.53 238.81Z" fill="#c9123e"/>
<line x1="330.12" y1="229.72" x2="338.32" y2="229.72" stroke="#111" stroke-width="1.1"/>
<line x1="224.1" y1="241.2" x2="340.1" y2="241.2" stroke="#4a4a4a" stroke-width="1.7"/>
<line x1="233.1" y1="241.2" x2="233.1" y2="243.8" stroke="#111" stroke-width="0.9"/>
<text x="235.3" y="250.8" font-size="7.67" text-anchor="end" transform="rotate(-45 235.3 250.8)" stroke="#111" stroke-width="0.12">Naive</text>
<line x1="245.74" y1="241.2" x2="245.74" y2="243.8" stroke="#111" stroke-width="0.9"/>
<text x="247.94" y="250.8" font-size="7.67" text-anchor="end" transform="rotate(-45 247.94 250.8)" stroke="#111" stroke-width="0.12">CM</text>
<line x1="258.38" y1="241.2" x2="258.38" y2="243.8" stroke="#111" stroke-width="0.9"/>
<text x="260.58" y="250.8" font-size="7.67" text-anchor="end" transform="rotate(-45 260.58 250.8)" stroke="#111" stroke-width="0.12">EM</text>
<line x1="271.02" y1="241.2" x2="271.02" y2="243.8" stroke="#111" stroke-width="0.9"/>
<text x="273.22" y="250.8" font-size="7.67" text-anchor="end" transform="rotate(-45 273.22 250.8)" stroke="#111" stroke-width="0.12">TEMRA</text>
<line x1="283.66" y1="241.2" x2="283.66" y2="243.8" stroke="#111" stroke-width="0.9"/>
<text x="288.86" y="249.2" font-size="7.67" text-anchor="end" transform="rotate(-45 288.86 249.2)" stroke="#111" stroke-width="0.12">T<tspan font-size="5.8" dx="1.0" dy="1.7">scm</tspan></text>
<line x1="296.3" y1="241.2" x2="296.3" y2="243.8" stroke="#111" stroke-width="0.9"/>
<text x="298.5" y="250.8" font-size="7.67" text-anchor="end" transform="rotate(-45 298.5 250.8)" stroke="#111" stroke-width="0.12">Non-MAIT</text>
<line x1="308.94" y1="241.2" x2="308.94" y2="243.8" stroke="#111" stroke-width="0.9"/>
<text x="311.14" y="250.8" font-size="7.67" text-anchor="end" transform="rotate(-45 311.14 250.8)" stroke="#111" stroke-width="0.12">MAIT</text>
<line x1="321.58" y1="241.2" x2="321.58" y2="243.8" stroke="#111" stroke-width="0.9"/>
<text x="323.78" y="250.8" font-size="7.67" text-anchor="end" transform="rotate(-45 323.78 250.8)" stroke="#111" stroke-width="0.12">CD25<tspan font-size="5.4" dy="-2.8">+</tspan></text>
<line x1="334.22" y1="241.2" x2="334.22" y2="243.8" stroke="#111" stroke-width="0.9"/>
<text x="336.42" y="250.8" font-size="7.67" text-anchor="end" transform="rotate(-45 336.42 250.8)" stroke="#111" stroke-width="0.12">CD69<tspan font-size="5.4" dy="-2.8">+</tspan></text>
<text x="454.7" y="150.8" font-size="8.8" text-anchor="middle" stroke="#111" stroke-width="0.12">Day 7</text>
<line x1="396.6" y1="157.6" x2="396.6" y2="241.8" stroke="#111" stroke-width="1.3"/>
<line x1="394" y1="241.2" x2="396.6" y2="241.2" stroke="#111" stroke-width="1"/>
<text x="391.1" y="243.8" font-size="7.6" text-anchor="end" stroke="#111" stroke-width="0.12">0</text>
<line x1="394" y1="225.26" x2="396.6" y2="225.26" stroke="#111" stroke-width="1"/>
<text x="391.1" y="227.86" font-size="7.6" text-anchor="end" stroke="#111" stroke-width="0.12">20</text>
<line x1="394" y1="209.32" x2="396.6" y2="209.32" stroke="#111" stroke-width="1"/>
<text x="391.1" y="211.92" font-size="7.6" text-anchor="end" stroke="#111" stroke-width="0.12">40</text>
<line x1="394" y1="193.38" x2="396.6" y2="193.38" stroke="#111" stroke-width="1"/>
<text x="391.1" y="195.98" font-size="7.6" text-anchor="end" stroke="#111" stroke-width="0.12">60</text>
<line x1="394" y1="177.44" x2="396.6" y2="177.44" stroke="#111" stroke-width="1"/>
<text x="391.1" y="180.04" font-size="7.6" text-anchor="end" stroke="#111" stroke-width="0.12">80</text>
<line x1="394" y1="161.5" x2="396.6" y2="161.5" stroke="#111" stroke-width="1"/>
<text x="391.1" y="164.1" font-size="7.6" text-anchor="end" stroke="#111" stroke-width="0.12">100</text>
<text x="373" y="198.5" font-size="9" text-anchor="middle" textLength="56.8" lengthAdjust="spacingAndGlyphs" transform="rotate(-90 373 198.5)" stroke="#111" stroke-width="0.25">% Aldefluor-positive</text>
<line x1="405.2" y1="215.7" x2="405.2" y2="216.89" stroke="#6b6b6b" stroke-width="1.1"/>
<line x1="405.2" y1="240" x2="405.2" y2="240.8" stroke="#6b6b6b" stroke-width="1.1"/>
<line x1="403.2" y1="215.7" x2="407.2" y2="215.7" stroke="#555" stroke-width="1"/>
<rect x="401.1" y="216.89" width="8.2" height="23.11" fill="#fbb4cb"/>
<rect x="403.9" y="214.4" width="2.6" height="2.6" fill="#f2588f"/>
<rect x="401.7" y="215.99" width="2.6" height="2.6" fill="#f2588f"/>
<rect x="406.1" y="217.58" width="2.6" height="2.6" fill="#f2588f"/>
<rect x="402.8" y="223.96" width="2.6" height="2.6" fill="#f2588f"/>
<rect x="405" y="238.31" width="2.6" height="2.6" fill="#f2588f"/>
<rect x="403.9" y="239.5" width="2.6" height="2.6" fill="#f2588f"/>
<line x1="401.1" y1="222.07" x2="409.3" y2="222.07" stroke="#111" stroke-width="1.1"/>
<line x1="417.84" y1="231.88" x2="417.84" y2="234.98" stroke="#6b6b6b" stroke-width="1.1"/>
<line x1="417.84" y1="241.2" x2="417.84" y2="241.2" stroke="#6b6b6b" stroke-width="1.1"/>
<line x1="415.84" y1="231.88" x2="419.84" y2="231.88" stroke="#555" stroke-width="1"/>
<rect x="413.74" y="234.98" width="8.2" height="6.22" fill="#d3d27a"/>
<path d="M417.84 230.32L419.4 233.18L416.28 233.18Z" fill="#8f8d12"/>
<path d="M415.64 234.86L417.2 237.72L414.08 237.72Z" fill="#8f8d12"/>
<path d="M420.04 236.45L421.6 239.31L418.48 239.31Z" fill="#8f8d12"/>
<path d="M416.74 238.05L418.3 240.91L415.18 240.91Z" fill="#8f8d12"/>
<path d="M418.94 239.24L420.5 242.1L417.38 242.1Z" fill="#8f8d12"/>
<line x1="413.74" y1="237.21" x2="421.94" y2="237.21" stroke="#111" stroke-width="1.1"/>
<line x1="430.48" y1="233.23" x2="430.48" y2="238.41" stroke="#6b6b6b" stroke-width="1.1"/>
<line x1="430.48" y1="241.2" x2="430.48" y2="241.2" stroke="#6b6b6b" stroke-width="1.1"/>
<line x1="428.48" y1="233.23" x2="432.48" y2="233.23" stroke="#555" stroke-width="1"/>
<rect x="426.38" y="238.41" width="8.2" height="2.79" fill="#c08ae0"/>
<path d="M430.48 234.79L432.04 231.93L428.92 231.93Z" fill="#7d0eb0"/>
<path d="M428.28 239.57L429.84 236.71L426.72 236.71Z" fill="#7d0eb0"/>
<path d="M432.68 240.77L434.24 237.91L431.12 237.91Z" fill="#7d0eb0"/>
<path d="M429.38 241.96L430.94 239.1L427.82 239.1Z" fill="#7d0eb0"/>
<path d="M431.58 242.52L433.14 239.66L430.02 239.66Z" fill="#7d0eb0"/>
<line x1="426.38" y1="239.61" x2="434.58" y2="239.61" stroke="#111" stroke-width="1.1"/>
<line x1="443.12" y1="224.46" x2="443.12" y2="226.22" stroke="#6b6b6b" stroke-width="1.1"/>
<line x1="443.12" y1="241.2" x2="443.12" y2="241.2" stroke="#6b6b6b" stroke-width="1.1"/>
<line x1="441.12" y1="224.46" x2="445.12" y2="224.46" stroke="#555" stroke-width="1"/>
<rect x="439.02" y="226.22" width="8.2" height="14.98" fill="#ffc98f"/>
<path d="M443.12 222.77L444.81 224.46L443.12 226.15L441.43 224.46Z" fill="#ff8a1c"/>
<path d="M440.92 225.96L442.61 227.65L440.92 229.34L439.23 227.65Z" fill="#ff8a1c"/>
<path d="M445.32 229.95L447.01 231.64L445.32 233.33L443.63 231.64Z" fill="#ff8a1c"/>
<path d="M442.02 233.93L443.71 235.62L442.02 237.31L440.33 235.62Z" fill="#ff8a1c"/>
<path d="M444.22 237.12L445.91 238.81L444.22 240.5L442.53 238.81Z" fill="#ff8a1c"/>
<path d="M443.12 239.11L444.81 240.8L443.12 242.49L441.43 240.8Z" fill="#ff8a1c"/>
<line x1="439.02" y1="235.22" x2="447.22" y2="235.22" stroke="#111" stroke-width="1.1"/>
<line x1="455.76" y1="229.72" x2="455.76" y2="233.23" stroke="#6b6b6b" stroke-width="1.1"/>
<line x1="455.76" y1="241.2" x2="455.76" y2="241.2" stroke="#6b6b6b" stroke-width="1.1"/>
<line x1="453.76" y1="229.72" x2="457.76" y2="229.72" stroke="#555" stroke-width="1"/>
<rect x="451.66" y="233.23" width="8.2" height="7.97" fill="#8fd08f"/>
<path d="M455.76 228.03L457.45 229.72L455.76 231.41L454.07 229.72Z" fill="#14821b"/>
<path d="M453.56 231.54L455.25 233.23L453.56 234.92L451.87 233.23Z" fill="#14821b"/>
<path d="M457.96 233.13L459.65 234.82L457.96 236.51L456.27 234.82Z" fill="#14821b"/>
<path d="M454.66 235.52L456.35 237.21L454.66 238.9L452.97 237.21Z" fill="#14821b"/>
<path d="M456.86 237.92L458.55 239.61L456.86 241.3L455.17 239.61Z" fill="#14821b"/>
<path d="M455.76 239.11L457.45 240.8L455.76 242.49L454.07 240.8Z" fill="#14821b"/>
<line x1="451.66" y1="235.62" x2="459.86" y2="235.62" stroke="#111" stroke-width="1.1"/>
<line x1="468.4" y1="227.73" x2="468.4" y2="227.73" stroke="#6b6b6b" stroke-width="1.1"/>
<line x1="468.4" y1="240.6" x2="468.4" y2="240.6" stroke="#6b6b6b" stroke-width="1.1"/>
<line x1="466.4" y1="227.73" x2="470.4" y2="227.73" stroke="#555" stroke-width="1"/>
<rect x="464.3" y="227.73" width="8.2" height="12.87" fill="#ffa56f"/>
<rect x="467.1" y="226.43" width="2.6" height="2.6" fill="#ff6512"/>
<rect x="464.9" y="227.94" width="2.6" height="2.6" fill="#ff6512"/>
<rect x="469.3" y="230.34" width="2.6" height="2.6" fill="#ff6512"/>
<rect x="466" y="233.52" width="2.6" height="2.6" fill="#ff6512"/>
<rect x="468.2" y="236.71" width="2.6" height="2.6" fill="#ff6512"/>
<rect x="467.1" y="239.1" width="2.6" height="2.6" fill="#ff6512"/>
<line x1="464.3" y1="233.23" x2="472.5" y2="233.23" stroke="#111" stroke-width="1.1"/>
<line x1="481.04" y1="240.4" x2="481.04" y2="240.8" stroke="#6b6b6b" stroke-width="1.1"/>
<line x1="481.04" y1="241.2" x2="481.04" y2="241.2" stroke="#6b6b6b" stroke-width="1.1"/>
<line x1="479.04" y1="240.4" x2="483.04" y2="240.4" stroke="#555" stroke-width="1"/>
<rect x="476.94" y="240.8" width="8.2" height="0.4" fill="#d6d6d6"/>
<circle cx="481.04" cy="240.8" r="1.3" fill="#a4a4a4"/>
<circle cx="478.84" cy="240.96" r="1.3" fill="#a4a4a4"/>
<circle cx="483.24" cy="240.64" r="1.3" fill="#a4a4a4"/>
<circle cx="479.94" cy="241.04" r="1.3" fill="#a4a4a4"/>
<circle cx="482.14" cy="240.88" r="1.3" fill="#a4a4a4"/>
<circle cx="481.04" cy="240.72" r="1.3" fill="#a4a4a4"/>
<line x1="493.68" y1="210.6" x2="493.68" y2="210.6" stroke="#6b6b6b" stroke-width="1.1"/>
<line x1="493.68" y1="233.07" x2="493.68" y2="233.07" stroke="#6b6b6b" stroke-width="1.1"/>
<line x1="491.68" y1="210.6" x2="495.68" y2="210.6" stroke="#555" stroke-width="1"/>
<rect x="489.58" y="210.6" width="8.2" height="22.48" fill="#aed4ff"/>
<path d="M493.68 212.16L495.24 209.3L492.12 209.3Z" fill="#44a3ff"/>
<path d="M491.48 217.26L493.04 214.4L489.92 214.4Z" fill="#44a3ff"/>
<path d="M495.88 222.83L497.44 219.97L494.32 219.97Z" fill="#44a3ff"/>
<path d="M492.58 226.82L494.14 223.96L491.02 223.96Z" fill="#44a3ff"/>
<path d="M494.78 233.99L496.34 231.13L493.22 231.13Z" fill="#44a3ff"/>
<path d="M493.68 234.63L495.24 231.77L492.12 231.77Z" fill="#44a3ff"/>
<line x1="489.58" y1="221.27" x2="497.78" y2="221.27" stroke="#111" stroke-width="1.1"/>
<line x1="506.32" y1="226.85" x2="506.32" y2="230.6" stroke="#6b6b6b" stroke-width="1.1"/>
<line x1="506.32" y1="237.53" x2="506.32" y2="238.81" stroke="#6b6b6b" stroke-width="1.1"/>
<line x1="504.32" y1="226.85" x2="508.32" y2="226.85" stroke="#555" stroke-width="1"/>
<rect x="502.22" y="230.6" width="8.2" height="6.93" fill="#e88ea4"/>
<path d="M506.32 225.16L508.01 226.85L506.32 228.54L504.63 226.85Z" fill="#c9123e"/>
<path d="M504.12 229.15L505.81 230.84L504.12 232.53L502.43 230.84Z" fill="#c9123e"/>
<path d="M508.52 230.74L510.21 232.43L508.52 234.12L506.83 232.43Z" fill="#c9123e"/>
<path d="M505.22 232.34L506.91 234.03L505.22 235.72L503.53 234.03Z" fill="#c9123e"/>
<path d="M507.42 234.73L509.11 236.42L507.42 238.11L505.73 236.42Z" fill="#c9123e"/>
<path d="M506.32 237.12L508.01 238.81L506.32 240.5L504.63 238.81Z" fill="#c9123e"/>
<line x1="502.22" y1="233.23" x2="510.42" y2="233.23" stroke="#111" stroke-width="1.1"/>
<line x1="396.6" y1="241.2" x2="512.6" y2="241.2" stroke="#4a4a4a" stroke-width="1.7"/>
<line x1="405.2" y1="241.2" x2="405.2" y2="243.8" stroke="#111" stroke-width="0.9"/>
<text x="407.4" y="250.8" font-size="7.67" text-anchor="end" transform="rotate(-45 407.4 250.8)" stroke="#111" stroke-width="0.12">Naive</text>
<line x1="417.84" y1="241.2" x2="417.84" y2="243.8" stroke="#111" stroke-width="0.9"/>
<text x="420.04" y="250.8" font-size="7.67" text-anchor="end" transform="rotate(-45 420.04 250.8)" stroke="#111" stroke-width="0.12">CM</text>
<line x1="430.48" y1="241.2" x2="430.48" y2="243.8" stroke="#111" stroke-width="0.9"/>
<text x="432.68" y="250.8" font-size="7.67" text-anchor="end" transform="rotate(-45 432.68 250.8)" stroke="#111" stroke-width="0.12">EM</text>
<line x1="443.12" y1="241.2" x2="443.12" y2="243.8" stroke="#111" stroke-width="0.9"/>
<text x="445.32" y="250.8" font-size="7.67" text-anchor="end" transform="rotate(-45 445.32 250.8)" stroke="#111" stroke-width="0.12">TEMRA</text>
<line x1="455.76" y1="241.2" x2="455.76" y2="243.8" stroke="#111" stroke-width="0.9"/>
<text x="460.96" y="249.2" font-size="7.67" text-anchor="end" transform="rotate(-45 460.96 249.2)" stroke="#111" stroke-width="0.12">T<tspan font-size="5.8" dx="1.0" dy="1.7">scm</tspan></text>
<line x1="468.4" y1="241.2" x2="468.4" y2="243.8" stroke="#111" stroke-width="0.9"/>
<text x="470.6" y="250.8" font-size="7.67" text-anchor="end" transform="rotate(-45 470.6 250.8)" stroke="#111" stroke-width="0.12">Non-MAIT</text>
<line x1="481.04" y1="241.2" x2="481.04" y2="243.8" stroke="#111" stroke-width="0.9"/>
<text x="483.24" y="250.8" font-size="7.67" text-anchor="end" transform="rotate(-45 483.24 250.8)" stroke="#111" stroke-width="0.12">MAIT</text>
<line x1="493.68" y1="241.2" x2="493.68" y2="243.8" stroke="#111" stroke-width="0.9"/>
<text x="495.88" y="250.8" font-size="7.67" text-anchor="end" transform="rotate(-45 495.88 250.8)" stroke="#111" stroke-width="0.12">CD25<tspan font-size="5.4" dy="-2.8">+</tspan></text>
<line x1="506.32" y1="241.2" x2="506.32" y2="243.8" stroke="#111" stroke-width="0.9"/>
<text x="508.52" y="250.8" font-size="7.67" text-anchor="end" transform="rotate(-45 508.52 250.8)" stroke="#111" stroke-width="0.12">CD69<tspan font-size="5.4" dy="-2.8">+</tspan></text>
<text x="5.7" y="294.5" font-size="11" font-weight="bold" fill="#000" stroke="#000" stroke-width="0.12">C</text>
<text x="116.05" y="293.8" font-size="9" text-anchor="middle" stroke="#111" stroke-width="0.12">DEAB control</text>
<path d="M115.23 376.14h.8v.8h-.8zM118.06 385h.8v.8h-.8zM117.08 381.48h.8v.8h-.8zM117.96 379.09h.8v.8h-.8zM112 372.95h.8v.8h-.8zM112.4 376.11h.8v.8h-.8zM115.51 379.41h.8v.8h-.8zM116.47 377.88h.8v.8h-.8zM110.65 377.54h.8v.8h-.8zM118.48 374.77h.8v.8h-.8zM120.1 383.27h.8v.8h-.8zM115.66 392.47h.8v.8h-.8zM112.73 373.7h.8v.8h-.8zM116.44 376.78h.8v.8h-.8zM123.34 389.47h.8v.8h-.8zM117.92 388.18h.8v.8h-.8zM116.31 380.86h.8v.8h-.8zM116.2 379.46h.8v.8h-.8zM117.09 384.06h.8v.8h-.8zM106.5 377.38h.8v.8h-.8zM122.82 375.93h.8v.8h-.8zM119.26 378.04h.8v.8h-.8zM116.47 402.14h.8v.8h-.8zM104.97 372.37h.8v.8h-.8zM108.34 370.02h.8v.8h-.8zM115.95 371.14h.8v.8h-.8zM113.11 374.43h.8v.8h-.8zM121.22 374.82h.8v.8h-.8zM107.81 375.95h.8v.8h-.8zM121.44 380.87h.8v.8h-.8zM100.41 379.99h.8v.8h-.8zM115.23 374.07h.8v.8h-.8zM109.26 369.77h.8v.8h-.8zM111.67 370.91h.8v.8h-.8zM107.07 376.85h.8v.8h-.8zM115.05 380.15h.8v.8h-.8zM112 377.5h.8v.8h-.8zM108.93 368.12h.8v.8h-.8zM116.8 374.06h.8v.8h-.8zM100.82 379.2h.8v.8h-.8zM114.28 371.99h.8v.8h-.8zM123.38 371.62h.8v.8h-.8zM114.66 393.33h.8v.8h-.8zM118.28 381.06h.8v.8h-.8zM112 373.16h.8v.8h-.8zM113.84 379.67h.8v.8h-.8zM112.24 374.51h.8v.8h-.8zM112.18 369.78h.8v.8h-.8zM116.96 376.76h.8v.8h-.8zM116.94 376.84h.8v.8h-.8zM110.05 369.98h.8v.8h-.8zM118.77 385.82h.8v.8h-.8zM121.24 382.06h.8v.8h-.8zM118.53 386.39h.8v.8h-.8zM112.57 374h.8v.8h-.8zM106.28 373.6h.8v.8h-.8zM115.14 393.63h.8v.8h-.8zM113.18 378.68h.8v.8h-.8zM115.65 379.8h.8v.8h-.8zM114.31 379.57h.8v.8h-.8zM111.53 364.9h.8v.8h-.8zM125.4 378.75h.8v.8h-.8zM117.67 384.6h.8v.8h-.8zM115.12 372.14h.8v.8h-.8zM119.73 375.11h.8v.8h-.8zM106.75 373.86h.8v.8h-.8zM115.72 370.86h.8v.8h-.8zM109.72 376.62h.8v.8h-.8zM105.16 375.77h.8v.8h-.8zM115.89 380.51h.8v.8h-.8zM119.32 391.35h.8v.8h-.8zM117.2 376.42h.8v.8h-.8zM124.22 377.63h.8v.8h-.8zM118.22 384.37h.8v.8h-.8zM115.69 376.9h.8v.8h-.8zM122.45 373.39h.8v.8h-.8zM119.71 374.81h.8v.8h-.8zM109.61 375.37h.8v.8h-.8zM109.48 374.41h.8v.8h-.8zM116.97 371.39h.8v.8h-.8zM115.19 381.15h.8v.8h-.8zM111.22 376.39h.8v.8h-.8zM118.51 386.94h.8v.8h-.8zM106.64 375.37h.8v.8h-.8zM107.09 376.84h.8v.8h-.8zM114.76 376.18h.8v.8h-.8zM110.32 375h.8v.8h-.8zM120.56 386.02h.8v.8h-.8zM118.24 378.61h.8v.8h-.8zM117.74 375.78h.8v.8h-.8zM104.99 372.39h.8v.8h-.8zM121.09 384.24h.8v.8h-.8zM119.16 388.09h.8v.8h-.8zM114.71 376.43h.8v.8h-.8zM112.74 371.64h.8v.8h-.8zM117.35 375.58h.8v.8h-.8zM110.84 375.99h.8v.8h-.8zM102.07 368.18h.8v.8h-.8zM116.98 380.46h.8v.8h-.8zM100.74 382.31h.8v.8h-.8zM120.65 385.81h.8v.8h-.8zM111.25 375.36h.8v.8h-.8zM114.45 376.98h.8v.8h-.8zM110.91 376.32h.8v.8h-.8zM119.96 396.51h.8v.8h-.8zM117.68 378.39h.8v.8h-.8zM106.93 376.46h.8v.8h-.8zM95.94 376.99h.8v.8h-.8zM121.28 384.72h.8v.8h-.8zM112.28 371.36h.8v.8h-.8zM116.92 375.93h.8v.8h-.8zM110.43 376.17h.8v.8h-.8zM111.96 377.8h.8v.8h-.8zM122.02 385.46h.8v.8h-.8zM117.06 380.95h.8v.8h-.8zM103.38 392.07h.8v.8h-.8zM116.98 378.87h.8v.8h-.8zM111.36 377.94h.8v.8h-.8zM117.29 384.32h.8v.8h-.8zM116.36 381.38h.8v.8h-.8zM121.08 385.12h.8v.8h-.8zM117.43 377.37h.8v.8h-.8zM123.12 389.38h.8v.8h-.8zM116.52 381.2h.8v.8h-.8zM114.09 393.99h.8v.8h-.8zM126.87 384.18h.8v.8h-.8zM118.65 365.9h.8v.8h-.8zM122.46 383.27h.8v.8h-.8zM122.21 373.4h.8v.8h-.8zM104.55 377.38h.8v.8h-.8zM117.64 383.11h.8v.8h-.8zM117.14 375.95h.8v.8h-.8zM99.34 392.66h.8v.8h-.8zM107.6 375.91h.8v.8h-.8zM102.59 376.78h.8v.8h-.8zM118.93 387.97h.8v.8h-.8zM122.06 381.73h.8v.8h-.8zM122.99 376.96h.8v.8h-.8zM120 368.79h.8v.8h-.8zM116.58 393.25h.8v.8h-.8zM112.13 376.4h.8v.8h-.8zM115.82 364.03h.8v.8h-.8zM121.81 387.91h.8v.8h-.8zM103.75 377.41h.8v.8h-.8zM114.06 374.44h.8v.8h-.8zM116.23 374.46h.8v.8h-.8zM127.87 381.03h.8v.8h-.8zM118.16 389.67h.8v.8h-.8zM122.34 387.83h.8v.8h-.8zM114.49 378.86h.8v.8h-.8zM108.81 372.49h.8v.8h-.8zM117.63 386.63h.8v.8h-.8zM124.1 379.84h.8v.8h-.8zM111.08 377.7h.8v.8h-.8zM116.89 379.97h.8v.8h-.8zM111.39 371.95h.8v.8h-.8zM113.25 378.61h.8v.8h-.8zM107.97 373.76h.8v.8h-.8zM117.6 379.62h.8v.8h-.8zM113.87 375.63h.8v.8h-.8zM118.39 385.15h.8v.8h-.8zM118.89 376.6h.8v.8h-.8zM108.15 373.81h.8v.8h-.8zM106.88 375.59h.8v.8h-.8zM112.9 377.63h.8v.8h-.8zM101.58 375.9h.8v.8h-.8zM100.23 375.58h.8v.8h-.8zM117.64 380.34h.8v.8h-.8zM119.78 385.02h.8v.8h-.8zM107 377.2h.8v.8h-.8zM118.56 379.91h.8v.8h-.8zM114.32 374.76h.8v.8h-.8zM117.7 384.83h.8v.8h-.8zM117.02 390.82h.8v.8h-.8zM118 377.7h.8v.8h-.8zM105.72 376.59h.8v.8h-.8zM119.5 384.51h.8v.8h-.8zM120.93 381.9h.8v.8h-.8zM109.61 375.9h.8v.8h-.8zM110.73 376.31h.8v.8h-.8zM112.06 371.26h.8v.8h-.8zM106.61 376.57h.8v.8h-.8zM117.68 382.51h.8v.8h-.8zM114.49 379.44h.8v.8h-.8zM120.59 379.04h.8v.8h-.8zM116.44 377.95h.8v.8h-.8zM114.56 377.98h.8v.8h-.8zM113.74 377.02h.8v.8h-.8zM98.74 393.53h.8v.8h-.8zM119.09 379.9h.8v.8h-.8zM118.12 393.25h.8v.8h-.8zM115.44 380.12h.8v.8h-.8zM115.64 379.61h.8v.8h-.8zM114.38 379.91h.8v.8h-.8zM103.29 377.71h.8v.8h-.8zM117.37 381.48h.8v.8h-.8zM108.29 375.99h.8v.8h-.8zM117.88 378.21h.8v.8h-.8zM100.21 386.27h.8v.8h-.8zM115.25 377.66h.8v.8h-.8zM114.85 379.6h.8v.8h-.8zM112.82 373.84h.8v.8h-.8zM122.74 382.76h.8v.8h-.8zM114.03 378.82h.8v.8h-.8zM117.83 372.94h.8v.8h-.8zM118.2 389.72h.8v.8h-.8zM112.86 377.93h.8v.8h-.8zM119.27 380.58h.8v.8h-.8zM118.57 389.31h.8v.8h-.8zM113.47 371.25h.8v.8h-.8zM128.28 379.17h.8v.8h-.8zM113.96 372.88h.8v.8h-.8zM119.8 383.95h.8v.8h-.8zM116.84 391.8h.8v.8h-.8zM107.97 375.56h.8v.8h-.8zM117.62 381.29h.8v.8h-.8zM119.27 378.14h.8v.8h-.8zM122.66 370.98h.8v.8h-.8zM111.47 373.64h.8v.8h-.8zM118.38 380.43h.8v.8h-.8zM124.51 393.05h.8v.8h-.8zM117.71 383.13h.8v.8h-.8zM119.62 384.95h.8v.8h-.8zM118.1 389.86h.8v.8h-.8zM118.52 382.46h.8v.8h-.8zM118.94 372.1h.8v.8h-.8zM110.72 377.76h.8v.8h-.8zM117.03 376.81h.8v.8h-.8zM113.74 367.55h.8v.8h-.8zM121.9 385.15h.8v.8h-.8zM118.72 384.04h.8v.8h-.8zM116.75 395.16h.8v.8h-.8zM117.78 379.79h.8v.8h-.8zM124.55 382.8h.8v.8h-.8zM101.89 377.36h.8v.8h-.8zM122.25 378.59h.8v.8h-.8zM108.83 376.29h.8v.8h-.8zM112.86 375.99h.8v.8h-.8zM127.96 380.58h.8v.8h-.8zM121.33 379.31h.8v.8h-.8zM117.07 373.79h.8v.8h-.8zM108.85 377.08h.8v.8h-.8zM109.46 377.07h.8v.8h-.8zM117.21 382.19h.8v.8h-.8zM122.67 382.86h.8v.8h-.8zM101.46 375.5h.8v.8h-.8zM119.04 384.65h.8v.8h-.8zM117.1 383.63h.8v.8h-.8zM98.25 384.77h.8v.8h-.8zM117.95 374.2h.8v.8h-.8zM116.26 369.84h.8v.8h-.8zM117.61 374.68h.8v.8h-.8zM118.59 382.94h.8v.8h-.8zM113.16 370.83h.8v.8h-.8zM108.06 376.33h.8v.8h-.8zM110.61 377.67h.8v.8h-.8zM125.29 382.76h.8v.8h-.8zM113.3 379.13h.8v.8h-.8zM116.06 378.6h.8v.8h-.8zM118.59 376.13h.8v.8h-.8zM116.95 382.65h.8v.8h-.8zM120.34 369.13h.8v.8h-.8zM113.21 368.8h.8v.8h-.8zM113.65 379.53h.8v.8h-.8zM114.89 380.48h.8v.8h-.8zM111.94 375.93h.8v.8h-.8zM120.47 377h.8v.8h-.8zM119.89 390.17h.8v.8h-.8zM117.57 387.73h.8v.8h-.8zM118.69 390.93h.8v.8h-.8zM110.05 375.1h.8v.8h-.8zM117.94 378.38h.8v.8h-.8zM113.69 378.75h.8v.8h-.8zM120.51 372.06h.8v.8h-.8zM120.74 384.01h.8v.8h-.8zM120.42 383.59h.8v.8h-.8zM115.97 376.75h.8v.8h-.8zM118.41 393.11h.8v.8h-.8zM119.03 382.67h.8v.8h-.8zM109.06 375.71h.8v.8h-.8zM115.38 375.83h.8v.8h-.8zM123.39 388.93h.8v.8h-.8zM109.66 376.7h.8v.8h-.8zM120.39 385.7h.8v.8h-.8zM119.54 388.41h.8v.8h-.8zM116.42 380.11h.8v.8h-.8zM114.02 374.52h.8v.8h-.8zM117.95 372.52h.8v.8h-.8zM99.39 389.6h.8v.8h-.8zM115.04 377.94h.8v.8h-.8zM118.82 381.3h.8v.8h-.8zM115.5 378.38h.8v.8h-.8zM111.29 377.67h.8v.8h-.8zM119.05 391.44h.8v.8h-.8zM99.98 384.75h.8v.8h-.8zM116.25 391.36h.8v.8h-.8zM121.22 373.39h.8v.8h-.8zM105.01 374.84h.8v.8h-.8zM111.5 376.95h.8v.8h-.8zM118.22 378.65h.8v.8h-.8zM100.66 380.32h.8v.8h-.8zM120.31 379.97h.8v.8h-.8zM113.13 376.86h.8v.8h-.8zM103.99 367.98h.8v.8h-.8zM108.19 371.17h.8v.8h-.8zM115.33 380.09h.8v.8h-.8zM103.71 378.1h.8v.8h-.8zM101.48 374.42h.8v.8h-.8zM114.19 377.37h.8v.8h-.8zM118.56 374.55h.8v.8h-.8zM118.27 385.89h.8v.8h-.8zM117 375.32h.8v.8h-.8zM100.2 377.8h.8v.8h-.8zM95.17 387.71h.8v.8h-.8zM108.63 374.54h.8v.8h-.8zM117.8 380.75h.8v.8h-.8zM118.92 373.24h.8v.8h-.8zM115.79 396.88h.8v.8h-.8zM120.32 389.28h.8v.8h-.8zM113.61 375.64h.8v.8h-.8zM119.27 375.02h.8v.8h-.8zM118.99 388.37h.8v.8h-.8zM107.33 397.88h.8v.8h-.8zM119.41 379.92h.8v.8h-.8zM108.22 375.65h.8v.8h-.8zM110.49 377.05h.8v.8h-.8zM119.39 384.85h.8v.8h-.8zM99.38 383.64h.8v.8h-.8zM117.01 380.94h.8v.8h-.8zM111.8 376.19h.8v.8h-.8zM116.94 383.06h.8v.8h-.8zM109.47 373.01h.8v.8h-.8zM118.93 387.18h.8v.8h-.8zM113.18 377.76h.8v.8h-.8zM115.41 379.07h.8v.8h-.8zM125.73 386.3h.8v.8h-.8zM117.05 383.87h.8v.8h-.8zM114.76 370.75h.8v.8h-.8zM118.42 387.98h.8v.8h-.8zM122.57 379.4h.8v.8h-.8zM119.84 377.73h.8v.8h-.8zM104.92 377.81h.8v.8h-.8zM112.36 375.36h.8v.8h-.8zM114.61 372.68h.8v.8h-.8zM108.23 370.69h.8v.8h-.8zM105.35 377.07h.8v.8h-.8zM116.71 372.19h.8v.8h-.8zM117.17 376.71h.8v.8h-.8zM113 374.96h.8v.8h-.8zM117.89 384.38h.8v.8h-.8zM113.84 395.19h.8v.8h-.8zM112.03 378.04h.8v.8h-.8zM111.83 377.38h.8v.8h-.8zM101.27 389.9h.8v.8h-.8zM115.84 374.17h.8v.8h-.8zM118.36 376.13h.8v.8h-.8zM107.85 377.07h.8v.8h-.8zM116.36 378.1h.8v.8h-.8zM100.54 381.68h.8v.8h-.8zM119.81 386.42h.8v.8h-.8zM115.7 380.17h.8v.8h-.8zM122.12 378.77h.8v.8h-.8zM119.15 383.89h.8v.8h-.8zM106.97 373.58h.8v.8h-.8zM117.12 384.45h.8v.8h-.8zM127.52 383.21h.8v.8h-.8zM99.64 376.31h.8v.8h-.8zM117.43 384.89h.8v.8h-.8zM112.49 377.87h.8v.8h-.8zM120 396.73h.8v.8h-.8zM113.06 368.77h.8v.8h-.8zM118.45 386.25h.8v.8h-.8zM99.88 374.63h.8v.8h-.8zM118.01 379.31h.8v.8h-.8zM104.65 377.43h.8v.8h-.8zM117.7 378.37h.8v.8h-.8zM117.89 383.42h.8v.8h-.8zM120.39 379.95h.8v.8h-.8zM121.53 384.38h.8v.8h-.8zM116.11 393.21h.8v.8h-.8zM124.57 379.85h.8v.8h-.8zM118.46 379.35h.8v.8h-.8zM118.87 372.89h.8v.8h-.8zM111.58 375.15h.8v.8h-.8zM120.76 383.29h.8v.8h-.8zM108.95 374.84h.8v.8h-.8zM112.33 371.72h.8v.8h-.8zM122.16 381.86h.8v.8h-.8zM120.26 389.7h.8v.8h-.8zM109.91 374.49h.8v.8h-.8zM112.14 396.08h.8v.8h-.8zM113.31 374.45h.8v.8h-.8zM119.37 381.3h.8v.8h-.8zM116.47 368.57h.8v.8h-.8zM115.52 381.45h.8v.8h-.8zM115.44 377.96h.8v.8h-.8zM112.25 371.66h.8v.8h-.8zM123.69 381.38h.8v.8h-.8zM108.99 375.02h.8v.8h-.8zM112.03 376.18h.8v.8h-.8zM114.92 379.19h.8v.8h-.8zM114.43 378.38h.8v.8h-.8zM120.34 390.35h.8v.8h-.8zM117.45 382.54h.8v.8h-.8zM105.71 374.82h.8v.8h-.8zM117.53 379.85h.8v.8h-.8zM118.14 380.95h.8v.8h-.8zM116.77 379.62h.8v.8h-.8zM119.51 383.41h.8v.8h-.8zM118.38 388.1h.8v.8h-.8zM111.05 377.47h.8v.8h-.8zM98.86 380.96h.8v.8h-.8zM115.31 379.29h.8v.8h-.8zM121.64 388.87h.8v.8h-.8zM116.72 380.27h.8v.8h-.8zM116.5 375.51h.8v.8h-.8zM117.82 388.68h.8v.8h-.8zM113.43 376.46h.8v.8h-.8zM114.72 380.42h.8v.8h-.8zM108.89 371.69h.8v.8h-.8zM108.2 375.2h.8v.8h-.8zM118.32 379.76h.8v.8h-.8zM118.87 384.48h.8v.8h-.8zM115.71 379.46h.8v.8h-.8zM110.6 377.51h.8v.8h-.8zM118.14 379.16h.8v.8h-.8zM115.3 369.17h.8v.8h-.8zM119.23 371.07h.8v.8h-.8zM114.56 380.41h.8v.8h-.8zM108.05 370.63h.8v.8h-.8zM122.16 371.02h.8v.8h-.8zM106.95 373.9h.8v.8h-.8zM126.22 386.15h.8v.8h-.8zM120.96 371.51h.8v.8h-.8zM112.43 371.38h.8v.8h-.8zM105.58 373.64h.8v.8h-.8zM120.98 379.65h.8v.8h-.8zM117.05 377.89h.8v.8h-.8zM115.19 373.27h.8v.8h-.8zM117.16 385.32h.8v.8h-.8zM115.64 374.04h.8v.8h-.8zM102.15 375.31h.8v.8h-.8zM108.97 368.04h.8v.8h-.8zM113.12 374.04h.8v.8h-.8zM111.6 373.89h.8v.8h-.8zM112.68 372.13h.8v.8h-.8zM114.1 376.31h.8v.8h-.8zM112.33 398.51h.8v.8h-.8zM119.7 382.86h.8v.8h-.8zM113.45 396.5h.8v.8h-.8zM110.53 372.31h.8v.8h-.8zM113.44 372.62h.8v.8h-.8zM106.34 372.94h.8v.8h-.8zM119.02 384.22h.8v.8h-.8zM126.35 385.03h.8v.8h-.8zM116.41 377.97h.8v.8h-.8zM115.47 369.67h.8v.8h-.8zM119.61 381.27h.8v.8h-.8zM114.14 379.24h.8v.8h-.8zM120.3 376.13h.8v.8h-.8zM111.27 375.2h.8v.8h-.8zM123.82 373.73h.8v.8h-.8zM119.19 378.52h.8v.8h-.8zM117.43 370.34h.8v.8h-.8zM122.9 377.86h.8v.8h-.8zM112.46 370.25h.8v.8h-.8zM120.35 385.5h.8v.8h-.8zM114.82 379.97h.8v.8h-.8zM109.45 371.67h.8v.8h-.8zM118.53 383.43h.8v.8h-.8zM103.97 376.35h.8v.8h-.8zM111.56 371.27h.8v.8h-.8zM115.88 378.66h.8v.8h-.8zM118.68 374.97h.8v.8h-.8zM116.36 376.45h.8v.8h-.8zM118.36 380.39h.8v.8h-.8zM110.74 372.68h.8v.8h-.8zM111.46 374.06h.8v.8h-.8zM116.53 383.24h.8v.8h-.8zM114.29 378.32h.8v.8h-.8zM121.33 377.5h.8v.8h-.8zM118.6 378.08h.8v.8h-.8zM115.9 373.24h.8v.8h-.8zM102.48 375.74h.8v.8h-.8zM121.84 381.81h.8v.8h-.8zM111.07 366.24h.8v.8h-.8zM115.5 368.74h.8v.8h-.8zM116.36 381.27h.8v.8h-.8zM119.05 387.59h.8v.8h-.8zM124 388.78h.8v.8h-.8zM118.46 377.06h.8v.8h-.8zM118.77 378.09h.8v.8h-.8zM110.14 376.1h.8v.8h-.8zM120.57 381.28h.8v.8h-.8zM116.74 377.09h.8v.8h-.8zM123.15 381.09h.8v.8h-.8zM114.63 376.02h.8v.8h-.8z" fill="#333" fill-opacity="0.5"/>
<path d="M122.31 381.24h.8v.8h-.8zM122.82 372.33h.8v.8h-.8zM126.77 371.18h.8v.8h-.8zM109.77 376.64h.8v.8h-.8zM119.08 373.49h.8v.8h-.8zM114.76 375.87h.8v.8h-.8zM120 380.45h.8v.8h-.8zM117.34 381.26h.8v.8h-.8zM116.53 382.1h.8v.8h-.8zM119.86 386.52h.8v.8h-.8zM118.11 382.27h.8v.8h-.8zM119.22 374.59h.8v.8h-.8zM128.75 382.07h.8v.8h-.8zM110.26 377.12h.8v.8h-.8zM119.62 381.29h.8v.8h-.8zM116.09 372.23h.8v.8h-.8zM104.32 371.28h.8v.8h-.8zM113.99 374.28h.8v.8h-.8zM125.33 376.67h.8v.8h-.8zM118.03 390.15h.8v.8h-.8zM120.15 385.72h.8v.8h-.8zM114 378.19h.8v.8h-.8zM118.28 376.25h.8v.8h-.8zM101.37 372.84h.8v.8h-.8zM119.2 380.66h.8v.8h-.8zM107.03 374.87h.8v.8h-.8zM120.15 380.79h.8v.8h-.8zM119.12 378.56h.8v.8h-.8zM117.16 385.01h.8v.8h-.8zM113.52 376.26h.8v.8h-.8zM118.65 383.14h.8v.8h-.8zM102.41 372.58h.8v.8h-.8zM116.88 377.6h.8v.8h-.8zM117.67 378.39h.8v.8h-.8zM118.32 382.81h.8v.8h-.8zM115.87 376.56h.8v.8h-.8zM105.34 374.28h.8v.8h-.8zM121.25 389.43h.8v.8h-.8zM112.69 376.46h.8v.8h-.8zM116.07 376.38h.8v.8h-.8zM117.26 386.26h.8v.8h-.8zM120.67 388.46h.8v.8h-.8zM120.13 372.07h.8v.8h-.8zM118.17 382.67h.8v.8h-.8zM113.8 378.99h.8v.8h-.8zM118.88 382.64h.8v.8h-.8zM112.68 377.54h.8v.8h-.8zM114.04 377.06h.8v.8h-.8zM126.7 395.16h.8v.8h-.8zM118.05 388.43h.8v.8h-.8zM111.88 375.81h.8v.8h-.8zM102.19 375.22h.8v.8h-.8zM113.63 379.38h.8v.8h-.8zM104.14 374.99h.8v.8h-.8zM108.99 377.12h.8v.8h-.8zM104.04 374.6h.8v.8h-.8zM118.95 391.77h.8v.8h-.8zM111.3 376.04h.8v.8h-.8zM104.89 376.03h.8v.8h-.8zM116.79 378.92h.8v.8h-.8zM121.24 391.47h.8v.8h-.8zM118.76 377.11h.8v.8h-.8zM118.59 376.94h.8v.8h-.8zM118.16 383.95h.8v.8h-.8zM120.97 384.96h.8v.8h-.8zM124.06 379.92h.8v.8h-.8zM115.32 378.68h.8v.8h-.8zM108.16 377.09h.8v.8h-.8zM123.18 373.78h.8v.8h-.8zM123.85 382.88h.8v.8h-.8zM121.41 394.05h.8v.8h-.8zM120.57 381.07h.8v.8h-.8zM106.19 373.07h.8v.8h-.8zM110.6 374.06h.8v.8h-.8zM97.19 375.57h.8v.8h-.8zM105.14 371.5h.8v.8h-.8zM123.5 381.65h.8v.8h-.8zM117.06 381.12h.8v.8h-.8zM117.87 369.93h.8v.8h-.8zM111.17 377.01h.8v.8h-.8zM118.33 371.72h.8v.8h-.8zM118.24 385.64h.8v.8h-.8zM111.92 374.49h.8v.8h-.8zM113.36 377.18h.8v.8h-.8zM120.12 381.01h.8v.8h-.8zM117.97 375.68h.8v.8h-.8zM106.38 375.4h.8v.8h-.8zM111.33 373.47h.8v.8h-.8zM111.38 370.1h.8v.8h-.8zM117.56 395.14h.8v.8h-.8zM120.26 382.49h.8v.8h-.8zM118.31 380.28h.8v.8h-.8zM114.89 380.56h.8v.8h-.8zM118.14 388.2h.8v.8h-.8zM118.49 391.34h.8v.8h-.8zM99.69 385.52h.8v.8h-.8zM124.96 377.8h.8v.8h-.8zM113.3 375h.8v.8h-.8zM120.66 375.89h.8v.8h-.8zM116.75 381.16h.8v.8h-.8zM112.72 376.87h.8v.8h-.8zM113.46 379.36h.8v.8h-.8zM117.9 381.88h.8v.8h-.8zM111.52 373.59h.8v.8h-.8zM126.63 372.97h.8v.8h-.8zM116.41 375.83h.8v.8h-.8zM105.03 377.24h.8v.8h-.8zM111.92 374.2h.8v.8h-.8zM114.95 376.38h.8v.8h-.8zM107.52 372.57h.8v.8h-.8zM119.54 375.23h.8v.8h-.8zM116.72 379.24h.8v.8h-.8zM117.75 381.88h.8v.8h-.8zM111.36 374.06h.8v.8h-.8zM114.74 375.08h.8v.8h-.8zM120.73 384.01h.8v.8h-.8zM104.84 374.38h.8v.8h-.8zM123.88 384.49h.8v.8h-.8zM111.03 374.21h.8v.8h-.8zM116.81 392.41h.8v.8h-.8zM112.09 378.02h.8v.8h-.8zM115.6 380.18h.8v.8h-.8zM117.41 385.25h.8v.8h-.8zM107.6 373.71h.8v.8h-.8zM111.74 370.79h.8v.8h-.8zM104.36 372.93h.8v.8h-.8zM118.3 382.6h.8v.8h-.8zM120.44 379.26h.8v.8h-.8zM117.81 368.51h.8v.8h-.8zM119.12 382.73h.8v.8h-.8zM115.29 371.97h.8v.8h-.8zM113.54 378.09h.8v.8h-.8zM118.61 386.31h.8v.8h-.8zM114.93 380.78h.8v.8h-.8zM115.91 371.15h.8v.8h-.8zM102.04 373.87h.8v.8h-.8zM116.91 381.29h.8v.8h-.8zM109.85 375.41h.8v.8h-.8zM118 378.53h.8v.8h-.8zM117.5 390h.8v.8h-.8zM116.96 382.99h.8v.8h-.8zM122.47 381.1h.8v.8h-.8zM120.18 384.82h.8v.8h-.8zM117.89 380.32h.8v.8h-.8zM114.78 379.58h.8v.8h-.8zM116.22 380.12h.8v.8h-.8zM128.98 374.75h.8v.8h-.8zM117.95 376.59h.8v.8h-.8zM113.17 374.26h.8v.8h-.8zM112.8 377.83h.8v.8h-.8zM115.15 377.18h.8v.8h-.8zM123.6 380.68h.8v.8h-.8zM115.38 380.46h.8v.8h-.8zM119.28 378.21h.8v.8h-.8zM115.73 378.37h.8v.8h-.8zM118.63 387.26h.8v.8h-.8zM112.96 377.55h.8v.8h-.8zM119.27 383.98h.8v.8h-.8zM117.85 380.4h.8v.8h-.8zM116.92 379.32h.8v.8h-.8zM99.15 379.76h.8v.8h-.8zM117.6 373.83h.8v.8h-.8zM113.49 376.28h.8v.8h-.8zM118.75 383.15h.8v.8h-.8zM114.71 379.4h.8v.8h-.8zM115.81 378h.8v.8h-.8zM119.12 374.04h.8v.8h-.8zM108.56 375.95h.8v.8h-.8zM118.39 382.17h.8v.8h-.8zM122.49 386.02h.8v.8h-.8zM111.37 371.73h.8v.8h-.8zM99.72 382.26h.8v.8h-.8zM120.62 367.62h.8v.8h-.8zM114.65 379.86h.8v.8h-.8zM109.37 371.48h.8v.8h-.8zM115.89 381.14h.8v.8h-.8zM121.17 388.35h.8v.8h-.8zM111.07 376.18h.8v.8h-.8zM114.12 364.1h.8v.8h-.8zM109.4 373.09h.8v.8h-.8zM111.23 372.23h.8v.8h-.8zM115.74 377.14h.8v.8h-.8zM114.12 377.04h.8v.8h-.8zM121.28 388.66h.8v.8h-.8zM128.45 382.87h.8v.8h-.8zM116.88 384.21h.8v.8h-.8zM101.28 379.97h.8v.8h-.8zM100.96 393.71h.8v.8h-.8zM101.9 368.7h.8v.8h-.8zM128.65 384.8h.8v.8h-.8zM112.04 373.61h.8v.8h-.8zM110.43 375.25h.8v.8h-.8zM113.59 373.01h.8v.8h-.8zM110.1 375.57h.8v.8h-.8zM112.81 372.16h.8v.8h-.8zM117.09 379.71h.8v.8h-.8zM115.9 381.99h.8v.8h-.8zM100.95 379.86h.8v.8h-.8zM118.44 386.47h.8v.8h-.8zM119.06 386.36h.8v.8h-.8zM116.52 375.34h.8v.8h-.8zM119.04 376.58h.8v.8h-.8zM116.59 391.5h.8v.8h-.8zM115.19 376.92h.8v.8h-.8zM113.66 377.55h.8v.8h-.8zM110.59 370.99h.8v.8h-.8zM123.99 381.84h.8v.8h-.8zM116.44 368.9h.8v.8h-.8zM116.73 378.22h.8v.8h-.8zM97.42 369.76h.8v.8h-.8zM106.16 374.38h.8v.8h-.8zM121.74 376.35h.8v.8h-.8zM116.96 379.32h.8v.8h-.8zM121.99 382.49h.8v.8h-.8zM119.4 382.81h.8v.8h-.8zM112.51 378.34h.8v.8h-.8zM106.86 374.88h.8v.8h-.8zM114.85 380.43h.8v.8h-.8zM102.42 378.34h.8v.8h-.8zM116.66 381.06h.8v.8h-.8zM116.49 375.83h.8v.8h-.8zM118.92 380.12h.8v.8h-.8zM117.14 378.64h.8v.8h-.8zM98.78 381.63h.8v.8h-.8zM110.61 376.03h.8v.8h-.8zM111.95 376.65h.8v.8h-.8zM109.59 374.17h.8v.8h-.8zM119.66 379.28h.8v.8h-.8zM98.94 373.55h.8v.8h-.8zM110.08 376.08h.8v.8h-.8zM115.8 394.71h.8v.8h-.8zM123.35 383.48h.8v.8h-.8zM121.38 382.09h.8v.8h-.8zM112.27 376.36h.8v.8h-.8zM116.03 378.3h.8v.8h-.8zM117.11 389.14h.8v.8h-.8zM122.32 379.55h.8v.8h-.8zM114.69 375.98h.8v.8h-.8zM120.17 378.4h.8v.8h-.8zM117.91 385.62h.8v.8h-.8zM108.88 375.18h.8v.8h-.8zM116.34 391.66h.8v.8h-.8zM112.98 378.33h.8v.8h-.8zM101.26 376.63h.8v.8h-.8zM124.66 378.28h.8v.8h-.8zM116.06 376.23h.8v.8h-.8zM121.38 391.64h.8v.8h-.8zM118.85 378.68h.8v.8h-.8zM112.84 371.96h.8v.8h-.8zM117.33 376.63h.8v.8h-.8zM119.74 371.69h.8v.8h-.8zM117.99 378.64h.8v.8h-.8zM100.55 387.81h.8v.8h-.8zM114.15 367.97h.8v.8h-.8zM111.47 373.21h.8v.8h-.8zM107.13 373.05h.8v.8h-.8zM107.48 367.4h.8v.8h-.8zM110.54 376.95h.8v.8h-.8zM106.85 375.49h.8v.8h-.8zM121.58 380.56h.8v.8h-.8zM106.04 396.47h.8v.8h-.8zM118.69 366.28h.8v.8h-.8zM109.03 372.54h.8v.8h-.8zM121.21 388.68h.8v.8h-.8zM114.5 378.62h.8v.8h-.8zM114.28 372.96h.8v.8h-.8zM115.9 380.99h.8v.8h-.8zM116.98 383.46h.8v.8h-.8zM107.44 367.65h.8v.8h-.8zM112.36 375.4h.8v.8h-.8zM115.57 380.63h.8v.8h-.8zM116.46 379.27h.8v.8h-.8zM114.04 377.89h.8v.8h-.8zM113.15 378.34h.8v.8h-.8zM120.72 381.61h.8v.8h-.8zM117.66 377.97h.8v.8h-.8zM111.25 371.79h.8v.8h-.8zM111.55 371.68h.8v.8h-.8zM104.22 376.26h.8v.8h-.8zM119.96 391.37h.8v.8h-.8zM116.36 374.82h.8v.8h-.8zM127.78 382.92h.8v.8h-.8zM119.61 386.05h.8v.8h-.8zM113.55 372.26h.8v.8h-.8zM99.81 383.6h.8v.8h-.8zM111.21 377.75h.8v.8h-.8zM119.14 385.83h.8v.8h-.8zM113.98 393.93h.8v.8h-.8zM117 375.58h.8v.8h-.8zM122.38 377.54h.8v.8h-.8zM114.25 379.4h.8v.8h-.8zM108.92 375.47h.8v.8h-.8zM113.84 377.62h.8v.8h-.8zM118.99 383.86h.8v.8h-.8zM116.71 380.86h.8v.8h-.8zM118.09 382.68h.8v.8h-.8zM120.52 378.93h.8v.8h-.8zM117.06 382.23h.8v.8h-.8zM117.73 389.74h.8v.8h-.8zM103.13 371.82h.8v.8h-.8zM98.49 386.73h.8v.8h-.8zM117.35 378.83h.8v.8h-.8zM122.27 388.69h.8v.8h-.8zM110.68 371.22h.8v.8h-.8zM105.55 375.29h.8v.8h-.8zM117.37 388.6h.8v.8h-.8zM114.72 379.65h.8v.8h-.8zM103.27 371.65h.8v.8h-.8zM114.66 373.83h.8v.8h-.8zM97.48 388.16h.8v.8h-.8zM105.59 376.71h.8v.8h-.8zM114.31 368.99h.8v.8h-.8zM110.45 370.84h.8v.8h-.8zM117.87 386.96h.8v.8h-.8zM115.75 374.09h.8v.8h-.8zM120.37 379.02h.8v.8h-.8zM112.16 397.25h.8v.8h-.8zM110.03 374.26h.8v.8h-.8zM113.72 371.24h.8v.8h-.8zM108.86 376.65h.8v.8h-.8zM115.7 365.1h.8v.8h-.8zM116.51 380.97h.8v.8h-.8zM117.61 383.29h.8v.8h-.8zM100.08 384.11h.8v.8h-.8zM115.03 373.82h.8v.8h-.8zM115.81 379.71h.8v.8h-.8zM121.51 380.22h.8v.8h-.8zM110.6 372.9h.8v.8h-.8zM121.34 377.88h.8v.8h-.8zM115.42 380.21h.8v.8h-.8zM115.89 380.87h.8v.8h-.8zM112.23 373.03h.8v.8h-.8zM118.57 380.08h.8v.8h-.8zM118.05 384.79h.8v.8h-.8zM123.19 380.36h.8v.8h-.8zM107.94 373.95h.8v.8h-.8zM113.4 376.27h.8v.8h-.8zM112.35 374.1h.8v.8h-.8zM116.92 382h.8v.8h-.8zM118.72 386.31h.8v.8h-.8zM114.2 374.5h.8v.8h-.8zM114.04 379.1h.8v.8h-.8zM102.56 373.92h.8v.8h-.8zM112.69 372.22h.8v.8h-.8zM105.65 372.83h.8v.8h-.8zM119.79 372.71h.8v.8h-.8zM120.82 375.59h.8v.8h-.8zM117.78 383.18h.8v.8h-.8zM113.25 365.49h.8v.8h-.8zM116.43 378.82h.8v.8h-.8zM108.72 376.65h.8v.8h-.8zM106.76 368.33h.8v.8h-.8zM107.72 376.14h.8v.8h-.8zM111.21 373.29h.8v.8h-.8zM113.97 374.78h.8v.8h-.8zM99.56 374.17h.8v.8h-.8zM115.27 380.85h.8v.8h-.8zM119.91 375.6h.8v.8h-.8zM113.89 375.44h.8v.8h-.8zM114.77 372.8h.8v.8h-.8zM115 377.35h.8v.8h-.8zM115.5 372.44h.8v.8h-.8zM118.5 386.63h.8v.8h-.8zM116.86 375.49h.8v.8h-.8zM115.69 372.44h.8v.8h-.8zM119.07 383.42h.8v.8h-.8zM106.88 374.09h.8v.8h-.8zM105.36 376.26h.8v.8h-.8zM115.79 381.52h.8v.8h-.8zM117.7 376.4h.8v.8h-.8zM114.89 367.36h.8v.8h-.8zM103.29 376.36h.8v.8h-.8zM114.49 377.39h.8v.8h-.8zM119.92 383.78h.8v.8h-.8zM117.62 389.26h.8v.8h-.8zM103.07 378.82h.8v.8h-.8zM117.61 378.62h.8v.8h-.8zM117.68 379.4h.8v.8h-.8zM122.16 383.43h.8v.8h-.8zM118.02 377.19h.8v.8h-.8zM108.26 374.78h.8v.8h-.8zM108.74 371.94h.8v.8h-.8zM115.52 380.55h.8v.8h-.8zM110.41 377.02h.8v.8h-.8zM118.03 377.69h.8v.8h-.8zM116.68 380.82h.8v.8h-.8zM125.57 372.72h.8v.8h-.8zM121.9 385.49h.8v.8h-.8zM106.97 372.96h.8v.8h-.8zM114.76 375.83h.8v.8h-.8zM117.42 387.77h.8v.8h-.8zM118.15 372.99h.8v.8h-.8zM112.15 376.15h.8v.8h-.8zM120.42 377.04h.8v.8h-.8zM108.22 373.58h.8v.8h-.8zM109.55 369.52h.8v.8h-.8zM114.24 378.71h.8v.8h-.8zM111.96 373.26h.8v.8h-.8zM113.14 375.04h.8v.8h-.8zM109.8 375.02h.8v.8h-.8zM108.8 376.13h.8v.8h-.8zM114.88 373.14h.8v.8h-.8zM100.71 381.23h.8v.8h-.8zM121.18 384.3h.8v.8h-.8zM115.46 392.49h.8v.8h-.8zM105.1 372.93h.8v.8h-.8zM120.92 380.75h.8v.8h-.8zM115.87 375.86h.8v.8h-.8zM118.29 382.58h.8v.8h-.8zM117.35 381.96h.8v.8h-.8zM116.1 372.03h.8v.8h-.8zM116.14 378.65h.8v.8h-.8zM119.24 387.33h.8v.8h-.8zM107.97 377.23h.8v.8h-.8zM117.23 372.34h.8v.8h-.8zM105.41 377.58h.8v.8h-.8zM110.75 375.64h.8v.8h-.8zM122.04 376.58h.8v.8h-.8zM108.72 365.28h.8v.8h-.8zM117.95 376.85h.8v.8h-.8zM117.16 377.81h.8v.8h-.8zM116.57 379.07h.8v.8h-.8zM117.97 385.47h.8v.8h-.8zM115.91 392.67h.8v.8h-.8zM106.66 376.97h.8v.8h-.8zM115.24 380.79h.8v.8h-.8zM119.67 375.7h.8v.8h-.8zM120.38 380.24h.8v.8h-.8zM118.16 365.98h.8v.8h-.8zM118.23 390.03h.8v.8h-.8zM107.62 376.86h.8v.8h-.8zM123.42 379.08h.8v.8h-.8zM106.43 375.46h.8v.8h-.8zM116.83 392.19h.8v.8h-.8zM103.67 368.63h.8v.8h-.8zM115.29 377.99h.8v.8h-.8zM103.8 375.84h.8v.8h-.8zM125.72 386.85h.8v.8h-.8zM116.92 380.71h.8v.8h-.8zM117.72 390.32h.8v.8h-.8zM102.67 372.42h.8v.8h-.8zM117.52 385.31h.8v.8h-.8zM120.78 381.23h.8v.8h-.8zM125.01 383.56h.8v.8h-.8zM108.62 396.61h.8v.8h-.8zM114.52 378.44h.8v.8h-.8zM122.18 380.8h.8v.8h-.8zM120.2 382.47h.8v.8h-.8zM116.97 382.72h.8v.8h-.8zM122.28 377.05h.8v.8h-.8zM111.48 377.81h.8v.8h-.8zM109.38 376.09h.8v.8h-.8zM115.01 369.47h.8v.8h-.8zM120.4 379.9h.8v.8h-.8zM119.21 383.73h.8v.8h-.8zM118.07 380.98h.8v.8h-.8zM112.64 375.48h.8v.8h-.8zM109.9 374.85h.8v.8h-.8zM113.24 374.64h.8v.8h-.8zM112.05 374.27h.8v.8h-.8zM115.91 380.45h.8v.8h-.8zM116.51 375.56h.8v.8h-.8zM112.92 378.39h.8v.8h-.8zM118.42 390.91h.8v.8h-.8zM112.83 395.04h.8v.8h-.8zM121.23 384.17h.8v.8h-.8zM117.54 372.77h.8v.8h-.8zM99.88 380.79h.8v.8h-.8zM102.1 378.32h.8v.8h-.8zM117.14 379.37h.8v.8h-.8zM118.24 382.55h.8v.8h-.8zM120.88 386.32h.8v.8h-.8zM97.93 382.37h.8v.8h-.8zM110.32 377.51h.8v.8h-.8zM106.81 374.81h.8v.8h-.8zM117.17 377.35h.8v.8h-.8zM107.02 376.21h.8v.8h-.8zM107.91 375.57h.8v.8h-.8zM118.4 384.34h.8v.8h-.8zM113.31 378.22h.8v.8h-.8zM96.63 390.17h.8v.8h-.8zM124.86 373.54h.8v.8h-.8z" fill="#333" fill-opacity="0.3"/>
<ellipse cx="110.52" cy="384.03" rx="10.3" ry="11.87" transform="rotate(-35 110.52 384.03)" fill="#555" fill-opacity="0.5" filter="url(#bl2)"/>
<ellipse cx="108.9" cy="386.1" rx="9.2" ry="10.6" transform="rotate(-35 108.9 386.1)" fill="#3a3a3a" filter="url(#bl1)"/>
<polygon points="127.2,333 169.6,333 169.6,402.7 113.4,402.7 113.4,400 117.7,391.3 123,378 125.4,350" fill="none" stroke="#8a8a8a" stroke-width="0.8"/>
<line x1="113.9" y1="402.4" x2="169.6" y2="402.4" stroke="#b5b5b5" stroke-width="1.6"/>
<text x="166.8" y="341.6" font-size="7.6" text-anchor="end" stroke="#111" stroke-width="0.12">0.2%</text>
<rect x="56.8" y="297.4" width="118.5" height="106.1" fill="none" stroke="#111" stroke-width="1.3"/>
<line x1="54.9" y1="298.4" x2="56.8" y2="298.4" stroke="#111" stroke-width="0.9"/>
<line x1="54" y1="302.47" x2="56.8" y2="302.47" stroke="#111" stroke-width="0.9"/>
<line x1="54.9" y1="306.54" x2="56.8" y2="306.54" stroke="#111" stroke-width="0.9"/>
<line x1="54.9" y1="310.61" x2="56.8" y2="310.61" stroke="#111" stroke-width="0.9"/>
<line x1="54.9" y1="314.68" x2="56.8" y2="314.68" stroke="#111" stroke-width="0.9"/>
<line x1="54.9" y1="318.75" x2="56.8" y2="318.75" stroke="#111" stroke-width="0.9"/>
<line x1="54" y1="322.82" x2="56.8" y2="322.82" stroke="#111" stroke-width="0.9"/>
<line x1="54.9" y1="326.89" x2="56.8" y2="326.89" stroke="#111" stroke-width="0.9"/>
<line x1="54.9" y1="330.96" x2="56.8" y2="330.96" stroke="#111" stroke-width="0.9"/>
<line x1="54.9" y1="335.03" x2="56.8" y2="335.03" stroke="#111" stroke-width="0.9"/>
<line x1="54.9" y1="339.1" x2="56.8" y2="339.1" stroke="#111" stroke-width="0.9"/>
<line x1="54" y1="343.17" x2="56.8" y2="343.17" stroke="#111" stroke-width="0.9"/>
<line x1="54.9" y1="347.24" x2="56.8" y2="347.24" stroke="#111" stroke-width="0.9"/>
<line x1="54.9" y1="351.31" x2="56.8" y2="351.31" stroke="#111" stroke-width="0.9"/>
<line x1="54.9" y1="355.38" x2="56.8" y2="355.38" stroke="#111" stroke-width="0.9"/>
<line x1="54.9" y1="359.45" x2="56.8" y2="359.45" stroke="#111" stroke-width="0.9"/>
<line x1="54" y1="363.52" x2="56.8" y2="363.52" stroke="#111" stroke-width="0.9"/>
<line x1="54.9" y1="367.59" x2="56.8" y2="367.59" stroke="#111" stroke-width="0.9"/>
<line x1="54.9" y1="371.66" x2="56.8" y2="371.66" stroke="#111" stroke-width="0.9"/>
<line x1="54.9" y1="375.73" x2="56.8" y2="375.73" stroke="#111" stroke-width="0.9"/>
<line x1="54.9" y1="379.8" x2="56.8" y2="379.8" stroke="#111" stroke-width="0.9"/>
<line x1="54" y1="383.87" x2="56.8" y2="383.87" stroke="#111" stroke-width="0.9"/>
<line x1="54.9" y1="387.94" x2="56.8" y2="387.94" stroke="#111" stroke-width="0.9"/>
<line x1="54.9" y1="392.01" x2="56.8" y2="392.01" stroke="#111" stroke-width="0.9"/>
<line x1="54.9" y1="396.08" x2="56.8" y2="396.08" stroke="#111" stroke-width="0.9"/>
<line x1="54.9" y1="400.15" x2="56.8" y2="400.15" stroke="#111" stroke-width="0.9"/>
<line x1="58.8" y1="403.5" x2="58.8" y2="405.4" stroke="#111" stroke-width="0.85"/>
<line x1="60.9" y1="403.5" x2="60.9" y2="405.4" stroke="#111" stroke-width="0.85"/>
<line x1="63" y1="403.5" x2="63" y2="405.4" stroke="#111" stroke-width="0.85"/>
<line x1="65.1" y1="403.5" x2="65.1" y2="405.4" stroke="#111" stroke-width="0.85"/>
<line x1="67.2" y1="403.5" x2="67.2" y2="405.4" stroke="#111" stroke-width="0.85"/>
<line x1="69.3" y1="403.5" x2="69.3" y2="405.4" stroke="#111" stroke-width="0.85"/>
<line x1="71.4" y1="403.5" x2="71.4" y2="405.4" stroke="#111" stroke-width="0.85"/>
<line x1="73.5" y1="403.5" x2="73.5" y2="405.4" stroke="#111" stroke-width="0.85"/>
<line x1="79.8" y1="403.5" x2="79.8" y2="405.4" stroke="#111" stroke-width="0.85"/>
<line x1="86.87" y1="403.5" x2="86.87" y2="405.4" stroke="#111" stroke-width="0.85"/>
<line x1="91.01" y1="403.5" x2="91.01" y2="405.4" stroke="#111" stroke-width="0.85"/>
<line x1="93.95" y1="403.5" x2="93.95" y2="405.4" stroke="#111" stroke-width="0.85"/>
<line x1="96.23" y1="403.5" x2="96.23" y2="405.4" stroke="#111" stroke-width="0.85"/>
<line x1="98.09" y1="403.5" x2="98.09" y2="405.4" stroke="#111" stroke-width="0.85"/>
<line x1="99.66" y1="403.5" x2="99.66" y2="405.4" stroke="#111" stroke-width="0.85"/>
<line x1="101.02" y1="403.5" x2="101.02" y2="405.4" stroke="#111" stroke-width="0.85"/>
<line x1="102.22" y1="403.5" x2="102.22" y2="405.4" stroke="#111" stroke-width="0.85"/>
<line x1="103.3" y1="403.5" x2="103.3" y2="405.4" stroke="#111" stroke-width="0.85"/>
<line x1="110.37" y1="403.5" x2="110.37" y2="405.4" stroke="#111" stroke-width="0.85"/>
<line x1="114.51" y1="403.5" x2="114.51" y2="405.4" stroke="#111" stroke-width="0.85"/>
<line x1="117.45" y1="403.5" x2="117.45" y2="405.4" stroke="#111" stroke-width="0.85"/>
<line x1="119.73" y1="403.5" x2="119.73" y2="405.4" stroke="#111" stroke-width="0.85"/>
<line x1="121.59" y1="403.5" x2="121.59" y2="405.4" stroke="#111" stroke-width="0.85"/>
<line x1="123.16" y1="403.5" x2="123.16" y2="405.4" stroke="#111" stroke-width="0.85"/>
<line x1="124.52" y1="403.5" x2="124.52" y2="405.4" stroke="#111" stroke-width="0.85"/>
<line x1="125.72" y1="403.5" x2="125.72" y2="405.4" stroke="#111" stroke-width="0.85"/>
<line x1="126.8" y1="403.5" x2="126.8" y2="405.4" stroke="#111" stroke-width="0.85"/>
<line x1="133.87" y1="403.5" x2="133.87" y2="405.4" stroke="#111" stroke-width="0.85"/>
<line x1="138.01" y1="403.5" x2="138.01" y2="405.4" stroke="#111" stroke-width="0.85"/>
<line x1="140.95" y1="403.5" x2="140.95" y2="405.4" stroke="#111" stroke-width="0.85"/>
<line x1="143.23" y1="403.5" x2="143.23" y2="405.4" stroke="#111" stroke-width="0.85"/>
<line x1="145.09" y1="403.5" x2="145.09" y2="405.4" stroke="#111" stroke-width="0.85"/>
<line x1="146.66" y1="403.5" x2="146.66" y2="405.4" stroke="#111" stroke-width="0.85"/>
<line x1="148.02" y1="403.5" x2="148.02" y2="405.4" stroke="#111" stroke-width="0.85"/>
<line x1="149.22" y1="403.5" x2="149.22" y2="405.4" stroke="#111" stroke-width="0.85"/>
<line x1="150.3" y1="403.5" x2="150.3" y2="405.4" stroke="#111" stroke-width="0.85"/>
<line x1="157.37" y1="403.5" x2="157.37" y2="405.4" stroke="#111" stroke-width="0.85"/>
<line x1="161.51" y1="403.5" x2="161.51" y2="405.4" stroke="#111" stroke-width="0.85"/>
<line x1="164.45" y1="403.5" x2="164.45" y2="405.4" stroke="#111" stroke-width="0.85"/>
<line x1="166.73" y1="403.5" x2="166.73" y2="405.4" stroke="#111" stroke-width="0.85"/>
<line x1="168.59" y1="403.5" x2="168.59" y2="405.4" stroke="#111" stroke-width="0.85"/>
<line x1="170.16" y1="403.5" x2="170.16" y2="405.4" stroke="#111" stroke-width="0.85"/>
<line x1="171.52" y1="403.5" x2="171.52" y2="405.4" stroke="#111" stroke-width="0.85"/>
<line x1="172.72" y1="403.5" x2="172.72" y2="405.4" stroke="#111" stroke-width="0.85"/>
<text x="251.85" y="293.8" font-size="9" text-anchor="middle" stroke="#111" stroke-width="0.12">No DEAB</text>
<path d="M250.55 395.51h.8v.8h-.8zM239.21 382.15h.8v.8h-.8zM261.07 393.61h.8v.8h-.8zM258.79 392.51h.8v.8h-.8zM242.28 380.69h.8v.8h-.8zM243.67 367.24h.8v.8h-.8zM251.8 375.63h.8v.8h-.8zM242.71 388.45h.8v.8h-.8zM241.92 392.66h.8v.8h-.8zM245.86 392.3h.8v.8h-.8zM232.16 389.22h.8v.8h-.8zM276.12 375.39h.8v.8h-.8zM246.55 394.86h.8v.8h-.8zM252 399.34h.8v.8h-.8zM248.95 396.95h.8v.8h-.8zM238.54 384.86h.8v.8h-.8zM262.65 391.13h.8v.8h-.8zM232.68 394.57h.8v.8h-.8zM264.97 371.89h.8v.8h-.8zM235.03 378.92h.8v.8h-.8zM261.9 382.03h.8v.8h-.8zM261.27 372.09h.8v.8h-.8zM259.6 377.21h.8v.8h-.8zM248.74 373.77h.8v.8h-.8zM245.66 378.97h.8v.8h-.8zM238.64 385.77h.8v.8h-.8zM237.3 378.04h.8v.8h-.8zM256.59 371.91h.8v.8h-.8zM249.25 376.81h.8v.8h-.8zM248.17 377.87h.8v.8h-.8zM258.57 378.02h.8v.8h-.8zM254.09 374.81h.8v.8h-.8zM245.11 380.89h.8v.8h-.8zM264.23 384.6h.8v.8h-.8zM244.23 393.2h.8v.8h-.8zM257.42 372.25h.8v.8h-.8zM239.18 384.03h.8v.8h-.8zM243.47 379.09h.8v.8h-.8zM243.28 389.01h.8v.8h-.8zM257.03 378.34h.8v.8h-.8zM260.32 378.45h.8v.8h-.8zM239 378.66h.8v.8h-.8zM233.38 375.26h.8v.8h-.8zM243.57 383.21h.8v.8h-.8zM233.68 376.48h.8v.8h-.8zM240 379.62h.8v.8h-.8zM238.44 387.09h.8v.8h-.8zM243.09 381.81h.8v.8h-.8zM246.5 392.78h.8v.8h-.8zM252.59 395.21h.8v.8h-.8zM242.12 380.96h.8v.8h-.8zM245.17 373.42h.8v.8h-.8zM247.21 376.11h.8v.8h-.8zM247.3 377.81h.8v.8h-.8zM258.64 373.98h.8v.8h-.8zM261.97 389.74h.8v.8h-.8zM234.37 377.39h.8v.8h-.8zM258.14 370.27h.8v.8h-.8zM236.91 382.38h.8v.8h-.8zM255.27 371.27h.8v.8h-.8zM266.24 387.11h.8v.8h-.8zM256.28 370.03h.8v.8h-.8zM253.1 377.4h.8v.8h-.8zM251.07 375.24h.8v.8h-.8zM237.07 384.39h.8v.8h-.8zM244.92 379.29h.8v.8h-.8zM258.54 392.98h.8v.8h-.8zM238.78 381.37h.8v.8h-.8zM249.01 378.08h.8v.8h-.8zM240.99 381.93h.8v.8h-.8zM242.15 376.09h.8v.8h-.8zM252.91 373.54h.8v.8h-.8zM236.23 392.08h.8v.8h-.8zM264.15 376.89h.8v.8h-.8zM234.88 388.52h.8v.8h-.8zM244.89 377.76h.8v.8h-.8zM264.08 379.19h.8v.8h-.8zM258.25 376.6h.8v.8h-.8zM239.95 378.98h.8v.8h-.8zM263.56 376.06h.8v.8h-.8zM264.26 383.68h.8v.8h-.8zM237.67 391.39h.8v.8h-.8zM253.57 375.58h.8v.8h-.8zM248.75 395.24h.8v.8h-.8zM243.64 399.61h.8v.8h-.8zM251.43 397.25h.8v.8h-.8zM246.56 370.26h.8v.8h-.8zM236.94 395.39h.8v.8h-.8zM251.92 394.58h.8v.8h-.8zM241.29 373.07h.8v.8h-.8zM244.63 375.25h.8v.8h-.8zM247.06 371.38h.8v.8h-.8zM242.06 366.16h.8v.8h-.8zM246.51 372.65h.8v.8h-.8zM250.03 374.63h.8v.8h-.8zM254.53 375.37h.8v.8h-.8zM241.97 378.64h.8v.8h-.8zM246.35 393.67h.8v.8h-.8zM237.98 384.2h.8v.8h-.8zM254.86 377.55h.8v.8h-.8zM241.35 401.51h.8v.8h-.8zM267.2 370.88h.8v.8h-.8zM266.49 389.91h.8v.8h-.8zM246.31 375.7h.8v.8h-.8zM240.22 388.17h.8v.8h-.8zM241.04 377.21h.8v.8h-.8zM265.92 385.58h.8v.8h-.8zM238.83 382.13h.8v.8h-.8zM249.96 370.27h.8v.8h-.8zM249.03 377.05h.8v.8h-.8zM252.92 375.88h.8v.8h-.8zM239.85 385.48h.8v.8h-.8zM263.9 378.02h.8v.8h-.8zM255.35 377.6h.8v.8h-.8zM240.38 380.35h.8v.8h-.8zM258.3 392.86h.8v.8h-.8zM252.83 365.1h.8v.8h-.8zM246.92 396.14h.8v.8h-.8zM250.8 376.45h.8v.8h-.8zM247.43 372.39h.8v.8h-.8zM239.65 385.33h.8v.8h-.8zM250.29 376.96h.8v.8h-.8zM252.31 372.56h.8v.8h-.8zM251.96 376.48h.8v.8h-.8zM243.72 382h.8v.8h-.8zM256.96 376.2h.8v.8h-.8zM250.26 377.03h.8v.8h-.8zM244.55 380.53h.8v.8h-.8zM256.03 396.35h.8v.8h-.8zM254.9 377.58h.8v.8h-.8zM262.96 388.5h.8v.8h-.8zM241.19 388.49h.8v.8h-.8zM240.08 379.84h.8v.8h-.8zM254 377.06h.8v.8h-.8zM247.83 398.62h.8v.8h-.8zM240.03 392.54h.8v.8h-.8zM240.78 371.96h.8v.8h-.8zM262.47 374.93h.8v.8h-.8zM254.05 373.73h.8v.8h-.8zM243.3 384.44h.8v.8h-.8zM237.93 384.45h.8v.8h-.8zM236.38 384.37h.8v.8h-.8zM238.83 395.52h.8v.8h-.8zM252.99 374.74h.8v.8h-.8zM241.25 390.86h.8v.8h-.8zM242.49 380.59h.8v.8h-.8zM242.33 384.97h.8v.8h-.8zM258.73 361.37h.8v.8h-.8zM239.52 390.67h.8v.8h-.8zM239.17 381.84h.8v.8h-.8zM246.41 370.1h.8v.8h-.8zM243.37 382.51h.8v.8h-.8zM241.44 382.48h.8v.8h-.8zM244.53 395.31h.8v.8h-.8zM229.54 394.82h.8v.8h-.8zM248.62 377.65h.8v.8h-.8zM269.4 394.25h.8v.8h-.8zM234.82 388.79h.8v.8h-.8zM245.75 380.77h.8v.8h-.8zM248.45 375.61h.8v.8h-.8zM265.04 383.35h.8v.8h-.8zM250.24 378.29h.8v.8h-.8zM235.43 386.81h.8v.8h-.8zM247.51 392.83h.8v.8h-.8zM252.26 373.04h.8v.8h-.8zM243.89 395.13h.8v.8h-.8zM248.21 377.72h.8v.8h-.8zM237.73 377.35h.8v.8h-.8zM248.79 373.72h.8v.8h-.8zM250.74 370.92h.8v.8h-.8zM263.85 377.51h.8v.8h-.8zM258.52 374.67h.8v.8h-.8zM257.81 378.6h.8v.8h-.8zM243.07 383.52h.8v.8h-.8zM247.01 379.72h.8v.8h-.8zM245.61 380h.8v.8h-.8zM233.19 381.98h.8v.8h-.8zM245.82 373.38h.8v.8h-.8zM240.81 379.09h.8v.8h-.8zM250.59 395.92h.8v.8h-.8zM242.95 386.61h.8v.8h-.8zM258.56 375.56h.8v.8h-.8zM246.53 379.17h.8v.8h-.8zM239.6 381.84h.8v.8h-.8zM246.37 392.36h.8v.8h-.8zM253.45 372.02h.8v.8h-.8zM253.86 378h.8v.8h-.8zM264.92 395.8h.8v.8h-.8zM240.19 389.46h.8v.8h-.8zM242.25 375.69h.8v.8h-.8zM244.45 382.58h.8v.8h-.8zM256.22 394.26h.8v.8h-.8zM259.21 378.04h.8v.8h-.8zM238.91 393.73h.8v.8h-.8zM247.74 370.78h.8v.8h-.8zM245.14 369.9h.8v.8h-.8zM246.98 379.24h.8v.8h-.8zM264.03 374.59h.8v.8h-.8zM243.46 379.58h.8v.8h-.8zM237.53 391.44h.8v.8h-.8zM262.29 387.9h.8v.8h-.8zM249.71 369.58h.8v.8h-.8zM252.57 376.89h.8v.8h-.8zM247.33 369.72h.8v.8h-.8zM236.49 377.54h.8v.8h-.8zM245.46 378.07h.8v.8h-.8zM231.9 387.07h.8v.8h-.8zM256.03 376.18h.8v.8h-.8zM244.41 396.5h.8v.8h-.8zM243.39 358.71h.8v.8h-.8zM246.44 394.74h.8v.8h-.8zM243.67 369.59h.8v.8h-.8zM258.86 391.6h.8v.8h-.8zM235.53 377.76h.8v.8h-.8zM255.24 374.37h.8v.8h-.8zM241.73 383h.8v.8h-.8zM267.84 370.11h.8v.8h-.8zM244.64 378.1h.8v.8h-.8zM243.79 388.14h.8v.8h-.8zM257.44 373.97h.8v.8h-.8zM254.49 375.81h.8v.8h-.8zM238.3 382.58h.8v.8h-.8zM264.71 385.62h.8v.8h-.8zM262.02 388.28h.8v.8h-.8zM246.18 374.63h.8v.8h-.8zM274.13 396.92h.8v.8h-.8zM260.7 394.53h.8v.8h-.8zM241.76 392.77h.8v.8h-.8zM248.14 378.63h.8v.8h-.8zM241.18 381.33h.8v.8h-.8zM263.27 380.18h.8v.8h-.8zM262.59 374.29h.8v.8h-.8zM262.24 382.97h.8v.8h-.8zM253.1 395.13h.8v.8h-.8zM235.07 386.15h.8v.8h-.8zM244.78 373.96h.8v.8h-.8zM255.2 370.1h.8v.8h-.8zM237.54 377.93h.8v.8h-.8zM242.88 381.33h.8v.8h-.8zM256.99 376.67h.8v.8h-.8zM246.08 399.47h.8v.8h-.8zM239.75 379.26h.8v.8h-.8zM239.04 379.49h.8v.8h-.8zM249.8 378.34h.8v.8h-.8zM242.55 379.08h.8v.8h-.8zM254.89 375.02h.8v.8h-.8zM259.81 378.14h.8v.8h-.8zM237.09 388.45h.8v.8h-.8zM257.2 392.77h.8v.8h-.8zM261.89 383.64h.8v.8h-.8zM237.82 381.15h.8v.8h-.8zM243.78 391.75h.8v.8h-.8zM240.51 370.77h.8v.8h-.8zM261.18 392.66h.8v.8h-.8zM234.89 387.36h.8v.8h-.8zM266.5 374.61h.8v.8h-.8zM254.19 369.75h.8v.8h-.8zM240.02 381.54h.8v.8h-.8zM237.25 390.28h.8v.8h-.8zM245 379.93h.8v.8h-.8zM240.09 376.68h.8v.8h-.8zM242.31 378.62h.8v.8h-.8zM243.37 390.08h.8v.8h-.8zM249.48 377.91h.8v.8h-.8zM253.15 374.97h.8v.8h-.8zM258.8 372.06h.8v.8h-.8zM246.04 395.09h.8v.8h-.8zM256.96 378.62h.8v.8h-.8zM244.63 379.34h.8v.8h-.8zM249.35 373.22h.8v.8h-.8zM260.87 381.58h.8v.8h-.8zM251.9 376.45h.8v.8h-.8zM256.24 373.46h.8v.8h-.8zM244.1 377.51h.8v.8h-.8zM262.61 374.08h.8v.8h-.8zM233.75 383.34h.8v.8h-.8zM238.57 369.34h.8v.8h-.8zM236.65 383.97h.8v.8h-.8zM258.23 379.07h.8v.8h-.8zM243.33 367.82h.8v.8h-.8zM243.11 379.04h.8v.8h-.8zM240.33 387.37h.8v.8h-.8zM263.5 380.35h.8v.8h-.8zM248.54 378.11h.8v.8h-.8zM236.43 379.76h.8v.8h-.8zM254.38 375.58h.8v.8h-.8zM265.67 372.28h.8v.8h-.8zM261.31 379.83h.8v.8h-.8zM263.44 374.69h.8v.8h-.8zM243.41 382.32h.8v.8h-.8zM245.4 375.81h.8v.8h-.8zM249.5 373.01h.8v.8h-.8zM259.83 378.17h.8v.8h-.8zM243.04 385.42h.8v.8h-.8zM240.57 378.34h.8v.8h-.8zM247.94 376.44h.8v.8h-.8zM256.47 374.02h.8v.8h-.8zM252.35 394.03h.8v.8h-.8zM247.97 373.87h.8v.8h-.8zM258.31 392.66h.8v.8h-.8zM248.22 378.23h.8v.8h-.8zM260.35 381.31h.8v.8h-.8zM245.93 378.26h.8v.8h-.8zM246.35 371.73h.8v.8h-.8zM241.7 382.32h.8v.8h-.8zM258.43 378.55h.8v.8h-.8zM255.22 366.69h.8v.8h-.8zM257.93 364.76h.8v.8h-.8zM269.73 386.84h.8v.8h-.8zM261.49 376.61h.8v.8h-.8zM245.14 376.43h.8v.8h-.8zM244.72 379.92h.8v.8h-.8zM263.21 389.43h.8v.8h-.8zM248.73 393.59h.8v.8h-.8zM251.27 377.13h.8v.8h-.8zM258.62 377.65h.8v.8h-.8zM244.31 383.11h.8v.8h-.8zM250.51 370.03h.8v.8h-.8zM243.03 373.66h.8v.8h-.8zM253.81 377.99h.8v.8h-.8zM253.91 371.43h.8v.8h-.8zM235.26 381.39h.8v.8h-.8zM264.3 380.22h.8v.8h-.8zM262.29 380.4h.8v.8h-.8zM264.63 373.01h.8v.8h-.8zM230.7 394.14h.8v.8h-.8zM241.17 383.43h.8v.8h-.8zM253.11 375.78h.8v.8h-.8zM251.6 372h.8v.8h-.8zM244.26 372.98h.8v.8h-.8zM243.02 383.18h.8v.8h-.8zM239.37 391.59h.8v.8h-.8zM237.55 376.52h.8v.8h-.8zM255.95 372.41h.8v.8h-.8zM252.97 376.38h.8v.8h-.8zM267.94 391.05h.8v.8h-.8zM253.52 376.77h.8v.8h-.8zM260.43 397.44h.8v.8h-.8zM253.04 368.93h.8v.8h-.8zM244.21 378.33h.8v.8h-.8zM251.8 395.58h.8v.8h-.8zM237.43 395.9h.8v.8h-.8zM245.89 373.13h.8v.8h-.8zM242.86 375.66h.8v.8h-.8zM262.55 384.59h.8v.8h-.8zM244.23 383.22h.8v.8h-.8zM264.08 375.91h.8v.8h-.8zM256.85 377.09h.8v.8h-.8zM252.79 371.83h.8v.8h-.8zM243.28 380.51h.8v.8h-.8zM265.09 377.25h.8v.8h-.8zM241.25 382.23h.8v.8h-.8zM258.61 377.3h.8v.8h-.8zM244.18 372.8h.8v.8h-.8zM244.65 394.09h.8v.8h-.8zM236.27 383.35h.8v.8h-.8zM247.17 372.65h.8v.8h-.8zM242.07 386.79h.8v.8h-.8zM246.97 371.96h.8v.8h-.8zM262.81 384h.8v.8h-.8zM243.39 374.92h.8v.8h-.8zM265.24 381.92h.8v.8h-.8zM242.25 390.08h.8v.8h-.8zM266.31 369.68h.8v.8h-.8zM254.37 369.65h.8v.8h-.8zM264.97 382.82h.8v.8h-.8zM246.01 396.3h.8v.8h-.8zM245.5 379.87h.8v.8h-.8zM267.47 376.83h.8v.8h-.8zM254.35 376.37h.8v.8h-.8zM236.66 382.51h.8v.8h-.8zM259.84 374.96h.8v.8h-.8zM252.01 373.75h.8v.8h-.8zM251.21 375.06h.8v.8h-.8zM241.71 373.87h.8v.8h-.8zM242.92 376.72h.8v.8h-.8zM248.89 375.74h.8v.8h-.8zM246.19 370.94h.8v.8h-.8zM260.07 373.88h.8v.8h-.8zM255.36 395.1h.8v.8h-.8zM243.05 385.6h.8v.8h-.8zM250.63 399.01h.8v.8h-.8zM241.45 371.07h.8v.8h-.8zM260.36 376.97h.8v.8h-.8zM268.42 373.06h.8v.8h-.8zM233.87 387.07h.8v.8h-.8zM242.65 381.35h.8v.8h-.8zM240.47 377.84h.8v.8h-.8zM247.16 379.62h.8v.8h-.8zM245.14 393.91h.8v.8h-.8zM241.78 376.73h.8v.8h-.8zM242.79 391.64h.8v.8h-.8zM239.03 379.92h.8v.8h-.8zM247.41 375.15h.8v.8h-.8zM247.3 377.97h.8v.8h-.8zM238.69 382.6h.8v.8h-.8zM260.86 381.98h.8v.8h-.8zM247.86 379.06h.8v.8h-.8zM243.12 377.96h.8v.8h-.8zM236.41 391.66h.8v.8h-.8zM261.98 385.81h.8v.8h-.8zM253.1 374.96h.8v.8h-.8zM254.33 374.04h.8v.8h-.8zM251.79 374.57h.8v.8h-.8zM250.32 370.9h.8v.8h-.8zM255.44 371.64h.8v.8h-.8zM239.48 384.2h.8v.8h-.8zM245.37 396.26h.8v.8h-.8zM259.1 378.86h.8v.8h-.8zM256.02 376.95h.8v.8h-.8zM261.21 368.7h.8v.8h-.8zM250.28 376.44h.8v.8h-.8zM242.17 383.54h.8v.8h-.8zM242.61 392.02h.8v.8h-.8zM248.11 377.96h.8v.8h-.8zM256.9 396.5h.8v.8h-.8zM240.64 380.5h.8v.8h-.8zM244.61 378.96h.8v.8h-.8zM245.42 392.19h.8v.8h-.8zM245.78 375.51h.8v.8h-.8zM256.66 377.94h.8v.8h-.8zM240.11 375.49h.8v.8h-.8zM242.28 380.36h.8v.8h-.8zM247.95 378.32h.8v.8h-.8zM239.48 388.63h.8v.8h-.8zM250.89 376.9h.8v.8h-.8zM248.07 371.66h.8v.8h-.8zM260.03 379.04h.8v.8h-.8zM241.32 376.5h.8v.8h-.8zM238.38 393.21h.8v.8h-.8zM264.59 378.66h.8v.8h-.8zM239.78 386.96h.8v.8h-.8zM240.98 383.11h.8v.8h-.8zM258.22 377h.8v.8h-.8zM235.9 376.8h.8v.8h-.8zM248.37 374.95h.8v.8h-.8zM242.6 388.2h.8v.8h-.8zM264.91 375.76h.8v.8h-.8zM264.98 381.32h.8v.8h-.8zM242.16 379.46h.8v.8h-.8zM243.04 387.14h.8v.8h-.8zM263.53 400.59h.8v.8h-.8zM258.38 378h.8v.8h-.8zM233.57 390.29h.8v.8h-.8zM262.73 379.31h.8v.8h-.8zM245.81 394.74h.8v.8h-.8zM262.81 380.08h.8v.8h-.8zM247.98 378.35h.8v.8h-.8zM239.83 394.28h.8v.8h-.8zM249.52 377.68h.8v.8h-.8zM227.47 390.9h.8v.8h-.8zM253.81 375.63h.8v.8h-.8zM253.16 376.74h.8v.8h-.8zM242.57 384.3h.8v.8h-.8zM241.93 387.82h.8v.8h-.8zM258.48 395.85h.8v.8h-.8zM248.05 370.15h.8v.8h-.8zM240.06 375.13h.8v.8h-.8zM260.52 376.76h.8v.8h-.8zM245.66 372.12h.8v.8h-.8zM248.05 374.55h.8v.8h-.8zM249.39 376.97h.8v.8h-.8zM241.29 396.24h.8v.8h-.8zM250.26 374.46h.8v.8h-.8zM238.52 381.17h.8v.8h-.8zM240.53 381.17h.8v.8h-.8zM239.84 382.36h.8v.8h-.8zM237.08 380.15h.8v.8h-.8zM245.31 371.55h.8v.8h-.8zM260.96 377.53h.8v.8h-.8zM238.95 384.93h.8v.8h-.8zM261.34 381.51h.8v.8h-.8zM256.94 372.22h.8v.8h-.8zM250.13 394.9h.8v.8h-.8zM246.68 396.38h.8v.8h-.8zM253.78 366.49h.8v.8h-.8zM243.17 378.44h.8v.8h-.8zM243.24 387.2h.8v.8h-.8zM251.71 375.07h.8v.8h-.8zM242.34 369.83h.8v.8h-.8zM233.58 388.57h.8v.8h-.8zM235.88 389.2h.8v.8h-.8zM270.04 383.9h.8v.8h-.8zM251.9 373.06h.8v.8h-.8zM256.24 376.9h.8v.8h-.8zM237.69 380.77h.8v.8h-.8zM241.94 387.7h.8v.8h-.8zM247.57 376.55h.8v.8h-.8zM255.87 376.49h.8v.8h-.8zM241.54 389.41h.8v.8h-.8zM240.26 384.81h.8v.8h-.8zM242.84 386.55h.8v.8h-.8zM246.1 380.77h.8v.8h-.8zM247.57 379.34h.8v.8h-.8zM269.53 382.31h.8v.8h-.8zM251.1 371.75h.8v.8h-.8zM266.61 389.97h.8v.8h-.8zM242.51 379.48h.8v.8h-.8zM236.21 387.09h.8v.8h-.8zM253.06 376.92h.8v.8h-.8zM248.94 374.27h.8v.8h-.8zM255.55 396.51h.8v.8h-.8zM245.92 378.12h.8v.8h-.8zM234.78 385.85h.8v.8h-.8zM237.3 383.09h.8v.8h-.8zM249.53 374.73h.8v.8h-.8zM271.22 379.47h.8v.8h-.8zM238.75 373.48h.8v.8h-.8zM228.36 385.46h.8v.8h-.8zM243.26 394.66h.8v.8h-.8zM249.52 378.49h.8v.8h-.8zM263.03 387.59h.8v.8h-.8zM248.36 373.8h.8v.8h-.8zM243.54 369.71h.8v.8h-.8zM242.92 388.8h.8v.8h-.8zM240.17 378.27h.8v.8h-.8zM246.35 378.75h.8v.8h-.8zM241.32 388.22h.8v.8h-.8zM253.27 398.76h.8v.8h-.8zM261.65 388.6h.8v.8h-.8zM246.99 371.81h.8v.8h-.8zM262.96 382.07h.8v.8h-.8zM237.4 383.99h.8v.8h-.8zM235.75 382.9h.8v.8h-.8zM238.54 390.55h.8v.8h-.8zM244.73 361.97h.8v.8h-.8zM243.02 384.29h.8v.8h-.8zM256.22 375.67h.8v.8h-.8zM245.4 379.17h.8v.8h-.8zM240.53 395.61h.8v.8h-.8zM240.22 377.59h.8v.8h-.8zM234.55 372.8h.8v.8h-.8zM250.51 375.58h.8v.8h-.8zM250.51 376.63h.8v.8h-.8zM242.79 379.49h.8v.8h-.8zM242.86 398.05h.8v.8h-.8zM238.33 388.76h.8v.8h-.8zM245.71 393.44h.8v.8h-.8zM254.65 394.5h.8v.8h-.8zM237.95 389.31h.8v.8h-.8zM261.44 390.68h.8v.8h-.8zM243.89 384.1h.8v.8h-.8zM262.72 394.61h.8v.8h-.8zM247.29 378.88h.8v.8h-.8zM259.77 393.77h.8v.8h-.8zM263.04 385.24h.8v.8h-.8zM239.14 380.28h.8v.8h-.8zM270.28 375.75h.8v.8h-.8zM235.52 391.45h.8v.8h-.8zM239.61 386.27h.8v.8h-.8zM258.23 376.35h.8v.8h-.8zM259.11 379.54h.8v.8h-.8zM246.85 379.83h.8v.8h-.8zM243.03 385.22h.8v.8h-.8zM254.88 376.82h.8v.8h-.8zM243.29 376.06h.8v.8h-.8zM260.36 367.37h.8v.8h-.8zM242.78 395.75h.8v.8h-.8zM245.63 377.39h.8v.8h-.8zM241.89 392.15h.8v.8h-.8zM243.45 380.92h.8v.8h-.8zM240.64 388.86h.8v.8h-.8zM253.56 372.7h.8v.8h-.8zM260.06 399.48h.8v.8h-.8zM266.88 385.42h.8v.8h-.8zM255.17 397.78h.8v.8h-.8zM245.63 376.75h.8v.8h-.8zM245.04 381.07h.8v.8h-.8zM248.84 376.91h.8v.8h-.8zM262 390.65h.8v.8h-.8zM246.99 371.44h.8v.8h-.8zM257.42 377.1h.8v.8h-.8zM246.71 380.17h.8v.8h-.8zM258.94 368h.8v.8h-.8zM261.7 381h.8v.8h-.8zM243.96 371.15h.8v.8h-.8zM247.35 393.06h.8v.8h-.8zM239.33 383.61h.8v.8h-.8zM251.19 376.97h.8v.8h-.8zM234.26 386.11h.8v.8h-.8zM242 393.52h.8v.8h-.8zM250.73 376.38h.8v.8h-.8zM244.73 390.28h.8v.8h-.8zM259.91 377.23h.8v.8h-.8zM249.51 372.07h.8v.8h-.8zM249.91 378.05h.8v.8h-.8zM242.68 375.99h.8v.8h-.8zM240.13 396.47h.8v.8h-.8zM257.49 375.3h.8v.8h-.8zM240.61 390.91h.8v.8h-.8zM247.31 379.34h.8v.8h-.8zM259.79 374.69h.8v.8h-.8zM253.41 395.49h.8v.8h-.8zM242.52 392.42h.8v.8h-.8zM238.88 386.72h.8v.8h-.8zM242.72 381.45h.8v.8h-.8zM243.15 392.65h.8v.8h-.8zM252.23 371.27h.8v.8h-.8zM257.42 375.45h.8v.8h-.8zM257.77 397.49h.8v.8h-.8zM243.47 390.28h.8v.8h-.8zM235.27 378.23h.8v.8h-.8zM240.81 385.11h.8v.8h-.8zM255.04 395.24h.8v.8h-.8zM240.52 388.14h.8v.8h-.8zM246.56 376.29h.8v.8h-.8zM254.59 394.29h.8v.8h-.8zM243.41 392.47h.8v.8h-.8zM253.23 375.86h.8v.8h-.8zM243.5 391.67h.8v.8h-.8zM250.16 378.3h.8v.8h-.8zM246.69 378.71h.8v.8h-.8zM246.29 379.16h.8v.8h-.8zM241.51 380.23h.8v.8h-.8zM238.52 391.03h.8v.8h-.8zM246.04 374.47h.8v.8h-.8zM270.45 380.43h.8v.8h-.8zM246.39 376.54h.8v.8h-.8zM249.45 395.85h.8v.8h-.8zM243.08 383.42h.8v.8h-.8zM257.27 397.53h.8v.8h-.8zM261.35 381.65h.8v.8h-.8zM234.89 387.76h.8v.8h-.8zM271.01 379.7h.8v.8h-.8zM256.96 368.46h.8v.8h-.8zM244.72 378.75h.8v.8h-.8zM245.11 399.05h.8v.8h-.8zM256.84 375.58h.8v.8h-.8zM258.38 378.89h.8v.8h-.8zM243.17 377.68h.8v.8h-.8zM246.3 372.91h.8v.8h-.8zM253.64 393.96h.8v.8h-.8zM248.98 374.4h.8v.8h-.8zM242.07 381.7h.8v.8h-.8zM259.69 391.33h.8v.8h-.8zM256.05 401.07h.8v.8h-.8zM245.34 380.78h.8v.8h-.8zM239.83 382.36h.8v.8h-.8zM257.22 394.53h.8v.8h-.8zM241.33 376.66h.8v.8h-.8zM249.05 369.01h.8v.8h-.8zM245.66 376.92h.8v.8h-.8zM240.12 392.7h.8v.8h-.8zM239.46 385.71h.8v.8h-.8zM251.06 372.82h.8v.8h-.8zM241.98 378.01h.8v.8h-.8zM242.28 385.45h.8v.8h-.8zM238.42 383.91h.8v.8h-.8zM238.83 385.08h.8v.8h-.8zM238.73 391.86h.8v.8h-.8zM262.44 396.96h.8v.8h-.8zM254.3 393.91h.8v.8h-.8zM247.75 393.62h.8v.8h-.8zM263.09 386.96h.8v.8h-.8zM241.98 387.04h.8v.8h-.8zM242.78 390.22h.8v.8h-.8zM253.38 374.75h.8v.8h-.8zM266.34 382.81h.8v.8h-.8zM244.61 381.5h.8v.8h-.8zM244.14 392.69h.8v.8h-.8zM254.84 377.87h.8v.8h-.8zM246.83 377.5h.8v.8h-.8zM240.89 391.16h.8v.8h-.8zM262.28 390.45h.8v.8h-.8zM261 380.47h.8v.8h-.8zM243.84 378.73h.8v.8h-.8zM241.29 371.9h.8v.8h-.8zM248.47 377.33h.8v.8h-.8zM262.96 380.23h.8v.8h-.8zM263.59 377.61h.8v.8h-.8zM249.14 374.25h.8v.8h-.8zM258.37 375.3h.8v.8h-.8zM249.73 394.35h.8v.8h-.8zM247.42 396.87h.8v.8h-.8zM241.85 392.54h.8v.8h-.8zM249.28 394.03h.8v.8h-.8zM239.04 395.45h.8v.8h-.8zM260.63 392.38h.8v.8h-.8zM241.55 390.16h.8v.8h-.8zM258.98 373.05h.8v.8h-.8zM251.15 371.44h.8v.8h-.8zM247.46 376.07h.8v.8h-.8zM244.31 382.49h.8v.8h-.8zM246.23 379.67h.8v.8h-.8zM242.13 382.29h.8v.8h-.8zM247.59 371.07h.8v.8h-.8zM240.92 369.69h.8v.8h-.8zM234.96 389.71h.8v.8h-.8zM239.02 382.34h.8v.8h-.8zM238.84 389.27h.8v.8h-.8zM253.91 373.97h.8v.8h-.8zM239.57 383.64h.8v.8h-.8zM244.11 379.27h.8v.8h-.8zM257.36 396.65h.8v.8h-.8zM252.23 394.88h.8v.8h-.8zM242.84 386.73h.8v.8h-.8zM242.65 372.92h.8v.8h-.8zM240.42 381.58h.8v.8h-.8zM252.7 398.94h.8v.8h-.8zM253.22 364.02h.8v.8h-.8zM265.39 375.05h.8v.8h-.8zM254.89 369.61h.8v.8h-.8zM258.48 377.65h.8v.8h-.8zM266.57 381.99h.8v.8h-.8zM235.86 371.83h.8v.8h-.8zM261.55 375.58h.8v.8h-.8zM255.48 377.12h.8v.8h-.8zM252.82 375.58h.8v.8h-.8zM254.63 375.45h.8v.8h-.8zM244.38 377h.8v.8h-.8zM240.73 385.7h.8v.8h-.8zM240.8 393.37h.8v.8h-.8zM253.24 376.01h.8v.8h-.8zM263.69 378.85h.8v.8h-.8zM258.66 396.36h.8v.8h-.8zM262.28 375.78h.8v.8h-.8zM247.53 371.8h.8v.8h-.8zM247.17 379.36h.8v.8h-.8zM238.93 374.89h.8v.8h-.8zM235.13 395.6h.8v.8h-.8zM243.89 383.36h.8v.8h-.8zM250.35 372.84h.8v.8h-.8zM267.16 387.32h.8v.8h-.8zM240.55 385.03h.8v.8h-.8zM262.29 385.97h.8v.8h-.8zM248.55 376.11h.8v.8h-.8zM255.76 377.4h.8v.8h-.8zM249.77 370.61h.8v.8h-.8zM247.21 396.35h.8v.8h-.8zM250.75 396.79h.8v.8h-.8zM242.25 372.07h.8v.8h-.8zM239.95 382.13h.8v.8h-.8zM240.55 373.82h.8v.8h-.8zM258.53 378.72h.8v.8h-.8zM252.33 376.78h.8v.8h-.8zM265.76 394.69h.8v.8h-.8zM243.49 396.22h.8v.8h-.8zM251.36 372.61h.8v.8h-.8zM242.88 387.06h.8v.8h-.8zM256.47 376.62h.8v.8h-.8zM242.59 383.87h.8v.8h-.8zM252.12 375.4h.8v.8h-.8zM256.07 394.44h.8v.8h-.8zM257.75 377.85h.8v.8h-.8zM250.65 377.46h.8v.8h-.8zM250.04 369.86h.8v.8h-.8zM241.99 386.66h.8v.8h-.8zM250.38 377.99h.8v.8h-.8zM239.72 383.32h.8v.8h-.8zM241.86 378.47h.8v.8h-.8zM259.98 378.99h.8v.8h-.8zM252.47 377.53h.8v.8h-.8zM223.99 389.27h.8v.8h-.8zM253.11 397.14h.8v.8h-.8zM266.01 389.39h.8v.8h-.8zM241.26 394.84h.8v.8h-.8zM236.9 379.62h.8v.8h-.8zM256.25 376.27h.8v.8h-.8zM235.5 374.98h.8v.8h-.8zM242.18 381.02h.8v.8h-.8zM243.18 370.87h.8v.8h-.8zM243.57 377.5h.8v.8h-.8zM248.88 377.73h.8v.8h-.8zM261.64 383.13h.8v.8h-.8zM237.14 371.28h.8v.8h-.8zM243.57 371.48h.8v.8h-.8zM263.08 386.24h.8v.8h-.8zM244.68 390.99h.8v.8h-.8zM243.01 377.11h.8v.8h-.8zM254.97 372.53h.8v.8h-.8zM239.46 388.61h.8v.8h-.8zM241.01 386.41h.8v.8h-.8zM237.35 384.71h.8v.8h-.8zM246.7 374.76h.8v.8h-.8zM238.42 385.05h.8v.8h-.8zM234.42 386.73h.8v.8h-.8zM247.89 397.21h.8v.8h-.8zM243.85 391.63h.8v.8h-.8zM248.43 394.6h.8v.8h-.8zM241.87 389.51h.8v.8h-.8zM248.19 365.33h.8v.8h-.8zM259.84 375.63h.8v.8h-.8zM230.01 393.84h.8v.8h-.8zM249.46 378.4h.8v.8h-.8zM247.28 393.75h.8v.8h-.8zM261.35 392.25h.8v.8h-.8zM234.15 390.32h.8v.8h-.8zM234.39 383.85h.8v.8h-.8zM257.13 394.72h.8v.8h-.8zM254.49 375.69h.8v.8h-.8zM244.4 390.83h.8v.8h-.8zM237.12 392.01h.8v.8h-.8zM262.64 384.66h.8v.8h-.8zM271.59 374.24h.8v.8h-.8zM230.3 382.88h.8v.8h-.8zM251.24 377.68h.8v.8h-.8zM266.76 377.46h.8v.8h-.8zM244.82 392.89h.8v.8h-.8zM254.04 374.67h.8v.8h-.8zM242.56 386.25h.8v.8h-.8zM232.16 376.57h.8v.8h-.8zM243.01 379.91h.8v.8h-.8zM240.77 396.51h.8v.8h-.8zM242.11 385.93h.8v.8h-.8zM265.41 388.38h.8v.8h-.8zM248.78 375.05h.8v.8h-.8zM265.4 378.74h.8v.8h-.8zM232.3 392.42h.8v.8h-.8zM272.64 393.2h.8v.8h-.8zM252.41 372.96h.8v.8h-.8zM260.1 380.7h.8v.8h-.8zM258.38 395.32h.8v.8h-.8zM258.96 374.75h.8v.8h-.8zM245 374.92h.8v.8h-.8zM257.5 367.82h.8v.8h-.8zM235.17 389.42h.8v.8h-.8zM245.63 381.06h.8v.8h-.8zM251.52 372.92h.8v.8h-.8zM237.46 386.83h.8v.8h-.8zM256.02 394.15h.8v.8h-.8zM252.27 375.58h.8v.8h-.8zM262.99 382.94h.8v.8h-.8zM235.82 387.57h.8v.8h-.8zM251.67 377.5h.8v.8h-.8zM237.5 382.71h.8v.8h-.8zM240.53 383.18h.8v.8h-.8zM237.8 369.93h.8v.8h-.8zM242.97 387h.8v.8h-.8zM260.89 376.88h.8v.8h-.8zM253.07 375.74h.8v.8h-.8zM244.19 382.82h.8v.8h-.8zM264.76 393.84h.8v.8h-.8zM247.71 374.01h.8v.8h-.8zM247.09 393.4h.8v.8h-.8zM246.92 395.33h.8v.8h-.8zM264.99 376.43h.8v.8h-.8zM240.1 378.8h.8v.8h-.8zM241.81 396.45h.8v.8h-.8zM261.79 387.1h.8v.8h-.8zM249.64 376.41h.8v.8h-.8zM260.69 394.49h.8v.8h-.8zM248.85 370.32h.8v.8h-.8zM241.9 377.83h.8v.8h-.8zM261.24 379.22h.8v.8h-.8zM230.42 397.44h.8v.8h-.8zM254.09 377.87h.8v.8h-.8zM243.73 380.76h.8v.8h-.8zM249.24 377.85h.8v.8h-.8zM249.86 373.79h.8v.8h-.8zM240.62 392.73h.8v.8h-.8zM247.11 378.56h.8v.8h-.8zM248.58 368.92h.8v.8h-.8zM244.79 382.34h.8v.8h-.8zM245.68 374.01h.8v.8h-.8zM238.91 381.33h.8v.8h-.8zM245.88 377.54h.8v.8h-.8zM240.25 383.85h.8v.8h-.8zM241.21 386.01h.8v.8h-.8zM261.34 382.47h.8v.8h-.8zM251.54 377.06h.8v.8h-.8zM246.1 379.42h.8v.8h-.8zM263.9 384.5h.8v.8h-.8zM246.72 379.17h.8v.8h-.8zM240.19 393.76h.8v.8h-.8zM242.66 393.51h.8v.8h-.8zM243.55 380.93h.8v.8h-.8zM240.4 383.74h.8v.8h-.8zM244.09 380.38h.8v.8h-.8zM255.36 393.84h.8v.8h-.8zM242.81 382.38h.8v.8h-.8zM252.34 375.32h.8v.8h-.8zM250.36 375.88h.8v.8h-.8zM240.14 381.92h.8v.8h-.8zM258.06 374.52h.8v.8h-.8zM244.88 378.61h.8v.8h-.8zM241.07 382.04h.8v.8h-.8zM259.14 376.33h.8v.8h-.8zM233.64 382.71h.8v.8h-.8zM256.65 377.29h.8v.8h-.8zM247.29 379.09h.8v.8h-.8zM237.1 385.7h.8v.8h-.8zM241.46 383.89h.8v.8h-.8zM241.9 377.65h.8v.8h-.8zM235.35 375.06h.8v.8h-.8zM264.26 379.56h.8v.8h-.8zM250.26 396.07h.8v.8h-.8zM240.72 386.88h.8v.8h-.8zM257.82 374.27h.8v.8h-.8zM256.85 375.19h.8v.8h-.8zM262.33 384.51h.8v.8h-.8zM240.98 385.2h.8v.8h-.8zM261.07 391.02h.8v.8h-.8zM266.7 378.04h.8v.8h-.8zM261.93 380.66h.8v.8h-.8zM243.39 387.25h.8v.8h-.8zM246.42 376.48h.8v.8h-.8zM263.2 380.48h.8v.8h-.8zM240.87 391.28h.8v.8h-.8zM257.39 372.73h.8v.8h-.8zM241.62 399.41h.8v.8h-.8zM243.49 392.91h.8v.8h-.8zM258.08 377.66h.8v.8h-.8zM239.97 387.29h.8v.8h-.8zM260.78 378.5h.8v.8h-.8zM244.74 377.84h.8v.8h-.8zM241.23 392.22h.8v.8h-.8zM234.01 384.51h.8v.8h-.8zM243.37 399h.8v.8h-.8zM255.66 375.59h.8v.8h-.8zM252.05 377.63h.8v.8h-.8zM244.21 391.25h.8v.8h-.8zM243.62 391.31h.8v.8h-.8zM245.62 377.7h.8v.8h-.8zM248.34 377.53h.8v.8h-.8zM240.08 386.4h.8v.8h-.8zM243.63 390.66h.8v.8h-.8zM233.4 385.3h.8v.8h-.8zM261.56 382.48h.8v.8h-.8zM258.34 365.04h.8v.8h-.8zM243.85 395.65h.8v.8h-.8zM243.36 381.59h.8v.8h-.8zM244.68 378.16h.8v.8h-.8zM239.03 396.03h.8v.8h-.8zM252.24 376.62h.8v.8h-.8zM251.14 374h.8v.8h-.8zM264.94 394.16h.8v.8h-.8zM261.04 375.98h.8v.8h-.8zM243.37 378.58h.8v.8h-.8zM247.53 373.35h.8v.8h-.8zM237.58 386.78h.8v.8h-.8zM242.08 383.17h.8v.8h-.8zM243.68 396.82h.8v.8h-.8zM238.75 380.51h.8v.8h-.8zM249.97 374h.8v.8h-.8zM245.93 377.9h.8v.8h-.8zM242.8 377.95h.8v.8h-.8zM242.05 391.32h.8v.8h-.8zM258 377.15h.8v.8h-.8zM244.95 380.99h.8v.8h-.8zM254.59 401.45h.8v.8h-.8zM263.82 391.63h.8v.8h-.8zM247.71 393.74h.8v.8h-.8zM248.53 377.18h.8v.8h-.8zM234.45 385.8h.8v.8h-.8zM252.36 396.13h.8v.8h-.8zM259.94 376.25h.8v.8h-.8zM235.81 376.49h.8v.8h-.8zM244.55 373.03h.8v.8h-.8zM248.89 397.07h.8v.8h-.8zM265.55 383.68h.8v.8h-.8zM250.93 394.47h.8v.8h-.8zM251.92 376.93h.8v.8h-.8zM262.18 380.43h.8v.8h-.8zM242.47 387.41h.8v.8h-.8zM251.7 377.47h.8v.8h-.8zM240.78 371.39h.8v.8h-.8zM251.1 370.53h.8v.8h-.8zM242.29 379.12h.8v.8h-.8zM249.24 378.37h.8v.8h-.8zM238.31 387.42h.8v.8h-.8zM263.12 383.47h.8v.8h-.8zM265.39 378.04h.8v.8h-.8zM254.16 375.44h.8v.8h-.8zM239.35 379.77h.8v.8h-.8zM246.92 392.46h.8v.8h-.8zM240.63 375.57h.8v.8h-.8zM255.74 399.84h.8v.8h-.8zM257.44 373.75h.8v.8h-.8zM242.51 376.37h.8v.8h-.8zM236.27 389.82h.8v.8h-.8zM245.95 379.52h.8v.8h-.8zM240.34 385.07h.8v.8h-.8zM245.22 393.99h.8v.8h-.8zM238.8 385.59h.8v.8h-.8zM237.49 378.49h.8v.8h-.8zM244.27 372.98h.8v.8h-.8zM236.09 378.93h.8v.8h-.8zM264.51 386.48h.8v.8h-.8zM244.44 396.42h.8v.8h-.8zM257.3 376.3h.8v.8h-.8zM255.93 393.75h.8v.8h-.8zM240.52 388.83h.8v.8h-.8zM267.94 382.28h.8v.8h-.8zM257.28 370.54h.8v.8h-.8zM243.15 372.84h.8v.8h-.8zM269.03 383.58h.8v.8h-.8zM243.11 383.33h.8v.8h-.8zM233.55 370.72h.8v.8h-.8zM241.59 380.17h.8v.8h-.8zM261.7 391.88h.8v.8h-.8zM252.27 373.37h.8v.8h-.8zM249.86 374h.8v.8h-.8zM238.45 392.99h.8v.8h-.8zM262.69 381.82h.8v.8h-.8zM253.54 396.59h.8v.8h-.8zM244.08 391.2h.8v.8h-.8zM251.1 377.61h.8v.8h-.8zM250.49 376.89h.8v.8h-.8zM236.39 374.1h.8v.8h-.8zM228.77 385.35h.8v.8h-.8zM243.72 375.96h.8v.8h-.8zM244.61 382.55h.8v.8h-.8zM259.35 371.08h.8v.8h-.8zM263.19 379.49h.8v.8h-.8zM238.94 384.7h.8v.8h-.8zM241.09 392.52h.8v.8h-.8zM244.68 382.65h.8v.8h-.8zM248.31 372.67h.8v.8h-.8zM251.09 394.54h.8v.8h-.8zM264.95 380.51h.8v.8h-.8zM248.84 370.28h.8v.8h-.8zM261.47 376.27h.8v.8h-.8zM258.48 377.16h.8v.8h-.8zM251.86 374.61h.8v.8h-.8zM242.49 392.65h.8v.8h-.8zM246.81 380.07h.8v.8h-.8zM249.36 376.14h.8v.8h-.8zM242.21 384.78h.8v.8h-.8zM243 387.33h.8v.8h-.8zM246.04 392.09h.8v.8h-.8zM243.89 381.99h.8v.8h-.8zM241.03 383.98h.8v.8h-.8zM243.02 382.29h.8v.8h-.8zM248.05 374.09h.8v.8h-.8zM244.85 391.9h.8v.8h-.8zM235.51 380.85h.8v.8h-.8z" fill="#333" fill-opacity="0.5"/>
<path d="M239.73 387.18h.8v.8h-.8zM244.7 375.99h.8v.8h-.8zM263.77 385.02h.8v.8h-.8zM266.48 385.52h.8v.8h-.8zM267.68 378.34h.8v.8h-.8zM260.59 379.69h.8v.8h-.8zM244.12 375.24h.8v.8h-.8zM264.09 382.64h.8v.8h-.8zM232.15 389.76h.8v.8h-.8zM261.14 394.42h.8v.8h-.8zM246.91 369.15h.8v.8h-.8zM249.73 377.34h.8v.8h-.8zM253.59 374.24h.8v.8h-.8zM240.09 386.87h.8v.8h-.8zM250.21 399.37h.8v.8h-.8zM247.74 379.39h.8v.8h-.8zM243.53 375.28h.8v.8h-.8zM239.76 382.11h.8v.8h-.8zM249.17 376.57h.8v.8h-.8zM250.72 374.62h.8v.8h-.8zM247.49 375.27h.8v.8h-.8zM259.58 374.51h.8v.8h-.8zM236.84 383.62h.8v.8h-.8zM239.64 383.18h.8v.8h-.8zM246.53 377.7h.8v.8h-.8zM246.96 393.28h.8v.8h-.8zM247.7 393.56h.8v.8h-.8zM256.2 397.02h.8v.8h-.8zM243.25 376h.8v.8h-.8zM246.05 378.56h.8v.8h-.8zM243.1 384.89h.8v.8h-.8zM251.04 377.96h.8v.8h-.8zM240.37 394.3h.8v.8h-.8zM250.35 376.53h.8v.8h-.8zM257.89 372.78h.8v.8h-.8zM256.52 395.56h.8v.8h-.8zM255.21 375.26h.8v.8h-.8zM241.9 383.47h.8v.8h-.8zM251.3 375.52h.8v.8h-.8zM244.2 379.64h.8v.8h-.8zM247.71 378.57h.8v.8h-.8zM255.41 374.1h.8v.8h-.8zM261.42 378.24h.8v.8h-.8zM255.55 397.55h.8v.8h-.8zM248.99 376.53h.8v.8h-.8zM262.45 379.81h.8v.8h-.8zM248.08 398.49h.8v.8h-.8zM253.75 372.5h.8v.8h-.8zM261.43 365.42h.8v.8h-.8zM242.4 379.13h.8v.8h-.8zM243.7 390.91h.8v.8h-.8zM261.11 377.76h.8v.8h-.8zM240.05 382.83h.8v.8h-.8zM241.87 385.03h.8v.8h-.8zM243.98 389.61h.8v.8h-.8zM261.01 380.42h.8v.8h-.8zM249.8 396.18h.8v.8h-.8zM241.79 377.81h.8v.8h-.8zM243.57 386.17h.8v.8h-.8zM243.12 376.9h.8v.8h-.8zM237.47 397.35h.8v.8h-.8zM252.87 376.76h.8v.8h-.8zM257.64 378.35h.8v.8h-.8zM259.51 375.26h.8v.8h-.8zM244.05 378.98h.8v.8h-.8zM240.45 384.25h.8v.8h-.8zM240.75 382.78h.8v.8h-.8zM230.98 373.11h.8v.8h-.8zM251.69 372.38h.8v.8h-.8zM241.03 373.07h.8v.8h-.8zM260.2 366.85h.8v.8h-.8zM245.95 379.61h.8v.8h-.8zM247.67 371.3h.8v.8h-.8zM248.91 376.44h.8v.8h-.8zM244.19 380.23h.8v.8h-.8zM227.88 384.4h.8v.8h-.8zM245.9 398.58h.8v.8h-.8zM262.93 380.56h.8v.8h-.8zM244.25 378.1h.8v.8h-.8zM257.51 378.46h.8v.8h-.8zM249.87 372.99h.8v.8h-.8zM244.12 376.53h.8v.8h-.8zM244.99 377.01h.8v.8h-.8zM259.28 397.99h.8v.8h-.8zM247.48 376.22h.8v.8h-.8zM266.64 388.32h.8v.8h-.8zM253.05 396.19h.8v.8h-.8zM245.06 378.22h.8v.8h-.8zM235.8 392.16h.8v.8h-.8zM231.96 394.92h.8v.8h-.8zM270.51 366.43h.8v.8h-.8zM242.28 371.76h.8v.8h-.8zM255.58 397.83h.8v.8h-.8zM240.18 388.98h.8v.8h-.8zM263.7 392.15h.8v.8h-.8zM252.76 372.63h.8v.8h-.8zM261.07 380.05h.8v.8h-.8zM250.83 375.15h.8v.8h-.8zM259.82 379.42h.8v.8h-.8zM248.83 377.36h.8v.8h-.8zM241.81 369.15h.8v.8h-.8zM260.91 380.02h.8v.8h-.8zM262.84 369.87h.8v.8h-.8zM243.78 378.51h.8v.8h-.8zM242.48 382.99h.8v.8h-.8zM261.07 376.79h.8v.8h-.8zM238.95 385.99h.8v.8h-.8zM267.32 381.81h.8v.8h-.8zM250.45 378.27h.8v.8h-.8zM240.75 388.2h.8v.8h-.8zM254.96 376.13h.8v.8h-.8zM258.11 395.26h.8v.8h-.8zM238.4 389.85h.8v.8h-.8zM268.07 385.61h.8v.8h-.8zM245.36 380.23h.8v.8h-.8zM242.08 385.64h.8v.8h-.8zM249.07 374.15h.8v.8h-.8zM242.4 381.8h.8v.8h-.8zM239.29 384.81h.8v.8h-.8zM269.14 380.46h.8v.8h-.8zM242.41 380.43h.8v.8h-.8zM254.44 374.84h.8v.8h-.8zM244.67 390.75h.8v.8h-.8zM238.91 394.69h.8v.8h-.8zM248.96 373.46h.8v.8h-.8zM261.25 390.67h.8v.8h-.8zM241.72 365.75h.8v.8h-.8zM254.28 394.39h.8v.8h-.8zM232.04 378.98h.8v.8h-.8zM243.54 376.07h.8v.8h-.8zM258.09 375.17h.8v.8h-.8zM254.6 375.08h.8v.8h-.8zM249.13 396.76h.8v.8h-.8zM261.51 392.21h.8v.8h-.8zM238.12 380.71h.8v.8h-.8zM247.85 374.73h.8v.8h-.8zM247.87 395.66h.8v.8h-.8zM247.21 377.15h.8v.8h-.8zM242.21 379.68h.8v.8h-.8zM244.05 378.82h.8v.8h-.8zM263.43 395.67h.8v.8h-.8zM247.78 378.56h.8v.8h-.8zM234.5 383.04h.8v.8h-.8zM241.64 389.65h.8v.8h-.8zM256.7 374.09h.8v.8h-.8zM237.47 380.78h.8v.8h-.8zM248.27 369.17h.8v.8h-.8zM266.1 382.84h.8v.8h-.8zM252.91 369.19h.8v.8h-.8zM242.34 389.02h.8v.8h-.8zM243.6 384.48h.8v.8h-.8zM245.74 392.47h.8v.8h-.8zM234.5 390.65h.8v.8h-.8zM237.33 398.86h.8v.8h-.8zM238.78 376.98h.8v.8h-.8zM265.64 379.02h.8v.8h-.8zM244.32 396.77h.8v.8h-.8zM246.25 394.48h.8v.8h-.8zM239.74 380.8h.8v.8h-.8zM239.17 376.9h.8v.8h-.8zM235.96 386.51h.8v.8h-.8zM246.11 376.19h.8v.8h-.8zM243.32 394.73h.8v.8h-.8zM265.75 385.78h.8v.8h-.8zM237.1 390.13h.8v.8h-.8zM250.52 378.22h.8v.8h-.8zM259.04 379.92h.8v.8h-.8zM242.85 375.89h.8v.8h-.8zM244.77 372.92h.8v.8h-.8zM256.06 400.58h.8v.8h-.8zM264.11 373.98h.8v.8h-.8zM239.1 387.03h.8v.8h-.8zM261.49 380.83h.8v.8h-.8zM242.12 378.97h.8v.8h-.8zM236.11 385.18h.8v.8h-.8zM251.67 377.3h.8v.8h-.8zM259.4 378.66h.8v.8h-.8zM252.13 377.88h.8v.8h-.8zM240.68 390.9h.8v.8h-.8zM255.46 373.27h.8v.8h-.8zM239.31 385.1h.8v.8h-.8zM241.96 384.54h.8v.8h-.8zM253.93 395.3h.8v.8h-.8zM243.14 385.15h.8v.8h-.8zM241.44 376.88h.8v.8h-.8zM251.93 394.02h.8v.8h-.8zM242.26 392.68h.8v.8h-.8zM242.58 386.79h.8v.8h-.8zM259.69 395.66h.8v.8h-.8zM250.07 376.57h.8v.8h-.8zM262.53 380.17h.8v.8h-.8zM239.27 389.68h.8v.8h-.8zM244.18 394.65h.8v.8h-.8zM246.07 376.4h.8v.8h-.8zM246.6 394.24h.8v.8h-.8zM237.78 384.31h.8v.8h-.8zM264.53 383.01h.8v.8h-.8zM241.04 395.28h.8v.8h-.8zM258.09 377.88h.8v.8h-.8zM251.9 394.83h.8v.8h-.8zM261 380.64h.8v.8h-.8zM260.21 374.68h.8v.8h-.8zM244.37 374.29h.8v.8h-.8zM268.24 369.77h.8v.8h-.8zM252.9 371.32h.8v.8h-.8zM245.39 370.94h.8v.8h-.8zM251.57 372.02h.8v.8h-.8zM242.26 382.72h.8v.8h-.8zM244.5 392.38h.8v.8h-.8zM257.64 371.51h.8v.8h-.8zM265.84 373.28h.8v.8h-.8zM243.02 392.67h.8v.8h-.8zM242.64 394.89h.8v.8h-.8zM260.93 377.5h.8v.8h-.8zM244.77 390.78h.8v.8h-.8zM237.69 383.25h.8v.8h-.8zM237.44 384.06h.8v.8h-.8zM241.52 376.55h.8v.8h-.8zM239.22 376.68h.8v.8h-.8zM252.72 375.07h.8v.8h-.8zM252.38 376.92h.8v.8h-.8zM243.24 393.21h.8v.8h-.8zM243.73 389.95h.8v.8h-.8zM241.11 394.72h.8v.8h-.8zM245.26 396.01h.8v.8h-.8zM261.95 388.56h.8v.8h-.8zM235.8 386.12h.8v.8h-.8zM263.67 387.65h.8v.8h-.8zM236.97 383.85h.8v.8h-.8zM255.88 378.11h.8v.8h-.8zM241.18 384.43h.8v.8h-.8zM247.75 379.53h.8v.8h-.8zM266.11 386.99h.8v.8h-.8zM254.24 375.04h.8v.8h-.8zM259.79 375.19h.8v.8h-.8zM244.15 372.73h.8v.8h-.8zM240 379.71h.8v.8h-.8zM242.22 372.72h.8v.8h-.8zM265.87 371.75h.8v.8h-.8zM257.05 375.77h.8v.8h-.8zM260.43 368.16h.8v.8h-.8zM231.6 370.76h.8v.8h-.8zM237.82 395.14h.8v.8h-.8zM248.3 379.21h.8v.8h-.8zM261.43 381.24h.8v.8h-.8zM251.26 377.89h.8v.8h-.8zM260.36 375.98h.8v.8h-.8zM245.31 380.39h.8v.8h-.8zM260.57 393.71h.8v.8h-.8zM238.16 387.75h.8v.8h-.8zM235.66 386.22h.8v.8h-.8zM255.96 376.49h.8v.8h-.8zM239.27 379.51h.8v.8h-.8zM249.21 371.04h.8v.8h-.8zM250.3 373.5h.8v.8h-.8zM245.78 394.5h.8v.8h-.8zM246.45 379.57h.8v.8h-.8zM241.37 392.25h.8v.8h-.8zM234.99 386.28h.8v.8h-.8zM250.89 377.14h.8v.8h-.8zM246.74 376.05h.8v.8h-.8zM257.15 370h.8v.8h-.8zM236.97 375.87h.8v.8h-.8zM246.45 373.52h.8v.8h-.8zM256.23 370.87h.8v.8h-.8zM233.52 381.81h.8v.8h-.8zM244.19 378.24h.8v.8h-.8zM239.05 375.1h.8v.8h-.8zM235.35 391.48h.8v.8h-.8zM269.37 391.42h.8v.8h-.8zM243.61 375.27h.8v.8h-.8zM257.26 395.16h.8v.8h-.8zM254.83 375.34h.8v.8h-.8zM249.25 377.98h.8v.8h-.8zM250.63 371h.8v.8h-.8zM252.86 397.71h.8v.8h-.8zM262.22 380.72h.8v.8h-.8zM261.78 388.32h.8v.8h-.8zM239.39 389.14h.8v.8h-.8zM245.46 381.2h.8v.8h-.8zM243.65 386.92h.8v.8h-.8zM246.57 396.28h.8v.8h-.8zM252.07 372.35h.8v.8h-.8zM241.71 377.17h.8v.8h-.8zM246.46 395.38h.8v.8h-.8zM244.59 391.3h.8v.8h-.8zM245.32 381.2h.8v.8h-.8zM264.15 373.39h.8v.8h-.8zM244.67 396.73h.8v.8h-.8zM250.69 376.82h.8v.8h-.8zM259.53 391.59h.8v.8h-.8zM245.64 378.84h.8v.8h-.8zM260.16 376.79h.8v.8h-.8zM240.04 368.15h.8v.8h-.8zM251.35 398.77h.8v.8h-.8zM245.24 397.7h.8v.8h-.8zM252.78 394.02h.8v.8h-.8zM242.43 373.3h.8v.8h-.8zM258.95 397.75h.8v.8h-.8zM242.53 372.47h.8v.8h-.8zM266.13 378.27h.8v.8h-.8zM259.32 378.86h.8v.8h-.8zM262 382.75h.8v.8h-.8zM247.12 375.35h.8v.8h-.8zM254.85 377.12h.8v.8h-.8zM261.15 372.79h.8v.8h-.8zM242.51 390.81h.8v.8h-.8zM247.14 378.81h.8v.8h-.8zM250.31 378.37h.8v.8h-.8zM254.22 367.32h.8v.8h-.8zM244.73 371.6h.8v.8h-.8zM243.05 387.19h.8v.8h-.8zM251.58 372.89h.8v.8h-.8zM243.56 402.01h.8v.8h-.8zM243.46 375.55h.8v.8h-.8zM252.56 372.82h.8v.8h-.8zM251.8 376.26h.8v.8h-.8zM241.2 384.38h.8v.8h-.8zM235.69 375.38h.8v.8h-.8zM252.01 394.15h.8v.8h-.8zM244.7 380.74h.8v.8h-.8zM244.27 379.13h.8v.8h-.8zM246.77 378.9h.8v.8h-.8zM239.49 377.11h.8v.8h-.8zM258.49 378.98h.8v.8h-.8zM242.83 390.51h.8v.8h-.8zM240.6 377.68h.8v.8h-.8zM244.34 391.03h.8v.8h-.8zM248.48 374.47h.8v.8h-.8zM249.11 372.5h.8v.8h-.8zM252.98 396.17h.8v.8h-.8zM230.14 391.44h.8v.8h-.8zM240.55 380.17h.8v.8h-.8zM252.3 394.81h.8v.8h-.8zM240.22 387.92h.8v.8h-.8zM246.74 374.06h.8v.8h-.8zM248.99 374.18h.8v.8h-.8zM243.6 378.78h.8v.8h-.8zM242.57 373.8h.8v.8h-.8zM255.52 378.08h.8v.8h-.8zM241.45 389.69h.8v.8h-.8zM260.96 381.01h.8v.8h-.8zM236.14 376.08h.8v.8h-.8zM257.99 397.22h.8v.8h-.8zM262.97 384.62h.8v.8h-.8zM266.56 380.81h.8v.8h-.8zM241.72 392.38h.8v.8h-.8zM253.88 375.32h.8v.8h-.8zM253.99 396.48h.8v.8h-.8zM248.22 379.08h.8v.8h-.8zM256.55 377.92h.8v.8h-.8zM255.74 373.61h.8v.8h-.8zM252.3 378h.8v.8h-.8zM243.59 381.13h.8v.8h-.8zM250.93 399.15h.8v.8h-.8zM263.19 382.48h.8v.8h-.8zM248.43 365.2h.8v.8h-.8zM252.19 376.78h.8v.8h-.8zM242.28 378.76h.8v.8h-.8zM255.64 372.26h.8v.8h-.8zM244.36 389.53h.8v.8h-.8zM254.41 394.69h.8v.8h-.8zM255.73 374.81h.8v.8h-.8zM238.58 387.76h.8v.8h-.8zM239.32 396.95h.8v.8h-.8zM256.09 378.27h.8v.8h-.8zM245.32 380.48h.8v.8h-.8zM244.41 375.13h.8v.8h-.8zM261.2 381.07h.8v.8h-.8zM266.77 391.7h.8v.8h-.8zM231.94 384.8h.8v.8h-.8zM240.13 389.35h.8v.8h-.8zM233.38 395.51h.8v.8h-.8zM247.03 378.24h.8v.8h-.8zM260.37 375.72h.8v.8h-.8zM235.52 392.66h.8v.8h-.8zM251.72 368.47h.8v.8h-.8zM250.91 377.99h.8v.8h-.8zM228.69 382.64h.8v.8h-.8zM231.66 379.27h.8v.8h-.8zM257.46 374.11h.8v.8h-.8zM245.9 377.06h.8v.8h-.8zM240.27 386.99h.8v.8h-.8zM257.69 378.67h.8v.8h-.8zM242.01 374.2h.8v.8h-.8zM261.19 394.88h.8v.8h-.8zM243.9 381.44h.8v.8h-.8zM239.88 380.04h.8v.8h-.8zM244.3 373.65h.8v.8h-.8zM246.48 379.75h.8v.8h-.8zM248.75 395h.8v.8h-.8zM253.7 376.34h.8v.8h-.8zM250.87 376.27h.8v.8h-.8zM240.29 372.75h.8v.8h-.8zM263.62 394.05h.8v.8h-.8zM247.73 377.23h.8v.8h-.8zM236.21 382.67h.8v.8h-.8zM241.4 387.55h.8v.8h-.8zM245.45 380.68h.8v.8h-.8zM231.56 373.79h.8v.8h-.8zM237.15 388.94h.8v.8h-.8zM253.3 364.96h.8v.8h-.8zM254.42 376.4h.8v.8h-.8zM249.41 369.04h.8v.8h-.8zM240.84 376.5h.8v.8h-.8zM240.67 386.24h.8v.8h-.8zM235.25 386.06h.8v.8h-.8zM251.4 396.79h.8v.8h-.8zM258.07 376.1h.8v.8h-.8zM248.44 372.74h.8v.8h-.8zM265.35 382.12h.8v.8h-.8zM242.6 390.47h.8v.8h-.8zM248.48 375.22h.8v.8h-.8zM251.31 373.05h.8v.8h-.8zM236.26 387.2h.8v.8h-.8zM240.9 381.27h.8v.8h-.8zM261.81 386.5h.8v.8h-.8zM239.04 379.4h.8v.8h-.8zM244.23 379.07h.8v.8h-.8zM242.68 383.65h.8v.8h-.8zM237.96 395.42h.8v.8h-.8zM261.71 370.34h.8v.8h-.8zM243.62 383.79h.8v.8h-.8zM238.52 381.89h.8v.8h-.8zM249.2 370.85h.8v.8h-.8zM257.96 376.29h.8v.8h-.8zM238.59 384.7h.8v.8h-.8zM242.52 374.3h.8v.8h-.8zM248 379.27h.8v.8h-.8zM241.29 382.01h.8v.8h-.8zM252.08 394.15h.8v.8h-.8zM249.28 378.51h.8v.8h-.8zM241.39 393.23h.8v.8h-.8zM266.62 380.09h.8v.8h-.8zM240.76 397.28h.8v.8h-.8zM242.27 380.89h.8v.8h-.8zM242.36 384.64h.8v.8h-.8zM254 376.95h.8v.8h-.8zM269.66 372.13h.8v.8h-.8zM235 378.24h.8v.8h-.8zM229.82 379.83h.8v.8h-.8zM238.76 390.59h.8v.8h-.8zM246.55 368.19h.8v.8h-.8zM241.53 385.86h.8v.8h-.8zM267.71 378.96h.8v.8h-.8zM259.46 375.69h.8v.8h-.8zM264.47 383.43h.8v.8h-.8zM242.99 385.67h.8v.8h-.8zM243.69 384.46h.8v.8h-.8zM253.31 372.42h.8v.8h-.8zM263.69 378.71h.8v.8h-.8zM237.36 383.7h.8v.8h-.8zM262.52 380.17h.8v.8h-.8zM261.38 391.6h.8v.8h-.8zM242.58 390.42h.8v.8h-.8zM234.68 373.54h.8v.8h-.8zM255.41 394.21h.8v.8h-.8zM266.86 393.55h.8v.8h-.8zM252.08 377.76h.8v.8h-.8zM263.35 382.01h.8v.8h-.8zM246.08 371.16h.8v.8h-.8zM267.19 383.51h.8v.8h-.8zM258.15 374h.8v.8h-.8zM233.77 386.97h.8v.8h-.8zM242.52 383.76h.8v.8h-.8zM243.62 384.42h.8v.8h-.8zM237.23 386.66h.8v.8h-.8zM242.74 369.71h.8v.8h-.8zM254.91 376.36h.8v.8h-.8zM243.83 375.14h.8v.8h-.8zM237.47 380.42h.8v.8h-.8zM248.99 395.92h.8v.8h-.8zM245.39 376.72h.8v.8h-.8zM263.91 374.18h.8v.8h-.8zM241.73 383.06h.8v.8h-.8zM240.31 392.54h.8v.8h-.8zM233.84 382.2h.8v.8h-.8zM253.71 397.42h.8v.8h-.8zM242.72 386.79h.8v.8h-.8zM252.51 371.78h.8v.8h-.8zM238.03 379.46h.8v.8h-.8zM247.53 379.43h.8v.8h-.8zM260.12 371.83h.8v.8h-.8zM236.48 374.4h.8v.8h-.8zM240.9 388.37h.8v.8h-.8zM239.38 372.86h.8v.8h-.8zM248.18 371.55h.8v.8h-.8zM260.32 375.64h.8v.8h-.8zM257.49 375.14h.8v.8h-.8zM260.44 374.57h.8v.8h-.8zM269.26 384.05h.8v.8h-.8zM242.74 378.9h.8v.8h-.8zM252.05 372.9h.8v.8h-.8zM241.62 385.34h.8v.8h-.8zM238.53 385.7h.8v.8h-.8zM260.87 375.21h.8v.8h-.8zM263.45 373.19h.8v.8h-.8zM260.52 396.58h.8v.8h-.8zM266.11 387.43h.8v.8h-.8zM242.34 389.37h.8v.8h-.8zM262.57 393.1h.8v.8h-.8zM234.95 385.2h.8v.8h-.8zM241.96 386.08h.8v.8h-.8zM235.39 383.42h.8v.8h-.8zM252.11 373.13h.8v.8h-.8zM244.36 379.45h.8v.8h-.8zM243.83 375.18h.8v.8h-.8zM243 379.95h.8v.8h-.8zM240.28 377.81h.8v.8h-.8zM239.46 397.68h.8v.8h-.8zM241.52 373.83h.8v.8h-.8zM254.19 375.64h.8v.8h-.8zM253.79 374.75h.8v.8h-.8zM260.42 390.07h.8v.8h-.8zM243.12 389h.8v.8h-.8zM262.46 381.1h.8v.8h-.8zM251.69 367.86h.8v.8h-.8zM267.84 382.77h.8v.8h-.8zM244.16 383.03h.8v.8h-.8zM232.51 392.66h.8v.8h-.8zM245.1 362.79h.8v.8h-.8zM255.17 373.83h.8v.8h-.8zM233.1 392.05h.8v.8h-.8zM242.15 383.47h.8v.8h-.8zM250.75 394.21h.8v.8h-.8zM262.31 388.52h.8v.8h-.8zM263.67 386.93h.8v.8h-.8zM247.52 377.69h.8v.8h-.8zM246.63 371.75h.8v.8h-.8zM233.54 394.67h.8v.8h-.8zM257.89 375.92h.8v.8h-.8zM239.91 377.15h.8v.8h-.8zM243.37 380.46h.8v.8h-.8zM263.98 381.09h.8v.8h-.8zM255.37 375.58h.8v.8h-.8zM250.4 397.28h.8v.8h-.8zM251.31 376.09h.8v.8h-.8zM264.13 391.44h.8v.8h-.8zM235.91 386.05h.8v.8h-.8zM254.55 396.9h.8v.8h-.8zM230.96 385.22h.8v.8h-.8zM263.77 378.29h.8v.8h-.8zM253.92 377.6h.8v.8h-.8zM230.61 385.59h.8v.8h-.8zM245.2 390.96h.8v.8h-.8zM231.94 394.35h.8v.8h-.8zM261.25 374.68h.8v.8h-.8zM244.3 380.52h.8v.8h-.8zM244.05 377.92h.8v.8h-.8zM266.19 381.49h.8v.8h-.8zM243.33 380.93h.8v.8h-.8zM229.11 384.38h.8v.8h-.8zM266.19 395.43h.8v.8h-.8zM242.65 378.37h.8v.8h-.8zM257.93 372.25h.8v.8h-.8zM236.22 380.04h.8v.8h-.8zM249.71 394.47h.8v.8h-.8zM259.48 377.13h.8v.8h-.8zM234.39 391.81h.8v.8h-.8zM254.93 395.57h.8v.8h-.8zM253.26 395.01h.8v.8h-.8zM254.26 395.39h.8v.8h-.8zM248.44 374.77h.8v.8h-.8zM250.87 377.07h.8v.8h-.8zM242.59 378.46h.8v.8h-.8zM259.97 373.66h.8v.8h-.8zM262.1 377.35h.8v.8h-.8zM245.23 372.89h.8v.8h-.8zM238.39 380.01h.8v.8h-.8zM259.15 392.97h.8v.8h-.8zM248.75 398.62h.8v.8h-.8zM260.43 380.51h.8v.8h-.8zM230.99 389.88h.8v.8h-.8zM241.57 386.54h.8v.8h-.8zM255.27 400.38h.8v.8h-.8zM237.83 383.72h.8v.8h-.8zM241.11 377.01h.8v.8h-.8zM249.71 376.33h.8v.8h-.8zM247.98 374.51h.8v.8h-.8zM267.18 369.05h.8v.8h-.8zM246.61 393.44h.8v.8h-.8zM259.73 378.05h.8v.8h-.8zM242.36 376.71h.8v.8h-.8zM242.72 388.13h.8v.8h-.8zM236.93 378.17h.8v.8h-.8zM253.79 376.53h.8v.8h-.8zM250.34 371.93h.8v.8h-.8zM239.37 389.6h.8v.8h-.8zM236.42 390.12h.8v.8h-.8zM236.37 384.69h.8v.8h-.8zM241.97 392.85h.8v.8h-.8zM240.03 386.38h.8v.8h-.8zM241.11 384.44h.8v.8h-.8zM248.46 377.97h.8v.8h-.8zM243.82 382.09h.8v.8h-.8zM243.8 384.04h.8v.8h-.8zM239.93 379.88h.8v.8h-.8zM247.74 367.85h.8v.8h-.8zM235.6 386.17h.8v.8h-.8zM240.74 387h.8v.8h-.8zM243.52 384.4h.8v.8h-.8zM241.88 374.35h.8v.8h-.8zM241.65 387.33h.8v.8h-.8zM264.26 376.11h.8v.8h-.8zM237.81 381.32h.8v.8h-.8zM247.74 378.94h.8v.8h-.8zM242.01 381.59h.8v.8h-.8zM253.8 370.99h.8v.8h-.8zM250.21 396.88h.8v.8h-.8zM243.44 384.2h.8v.8h-.8zM251.19 377.71h.8v.8h-.8zM242.23 388.74h.8v.8h-.8zM238.38 367.45h.8v.8h-.8zM237.97 385.56h.8v.8h-.8zM242.27 385.37h.8v.8h-.8zM257.03 393.62h.8v.8h-.8zM243.83 381.92h.8v.8h-.8zM262.71 382.97h.8v.8h-.8zM261.87 382.49h.8v.8h-.8zM245.39 364.8h.8v.8h-.8zM248.21 377.56h.8v.8h-.8zM242.25 389.8h.8v.8h-.8zM240.81 391.16h.8v.8h-.8zM237.45 384.67h.8v.8h-.8zM237.59 377.62h.8v.8h-.8zM247.73 372.51h.8v.8h-.8zM250.49 377.45h.8v.8h-.8zM241.45 385.13h.8v.8h-.8zM263.4 388.5h.8v.8h-.8zM245.57 374.58h.8v.8h-.8zM250.08 376.49h.8v.8h-.8zM241.82 383.58h.8v.8h-.8zM244.93 394.13h.8v.8h-.8zM244.14 382.97h.8v.8h-.8zM262.66 388.33h.8v.8h-.8zM238.46 371.55h.8v.8h-.8zM251.07 376.09h.8v.8h-.8zM262.09 385.59h.8v.8h-.8zM252.19 373.99h.8v.8h-.8zM249.87 373.29h.8v.8h-.8zM246.61 392.64h.8v.8h-.8zM240.96 387.29h.8v.8h-.8zM239.93 396.26h.8v.8h-.8zM261.5 378.53h.8v.8h-.8zM241.6 374.91h.8v.8h-.8zM241.34 382.33h.8v.8h-.8zM235.59 390.19h.8v.8h-.8zM244.44 369.15h.8v.8h-.8zM255.14 366.17h.8v.8h-.8zM251.23 367.44h.8v.8h-.8zM244.8 390.53h.8v.8h-.8zM240.64 387.88h.8v.8h-.8zM260.6 376.3h.8v.8h-.8zM249.58 366.06h.8v.8h-.8zM233.34 381.91h.8v.8h-.8zM236.74 372.75h.8v.8h-.8zM249.05 375.89h.8v.8h-.8zM245.27 375.45h.8v.8h-.8zM243.37 390.08h.8v.8h-.8zM236.78 379.23h.8v.8h-.8zM239.35 380.93h.8v.8h-.8zM257.77 377.65h.8v.8h-.8zM246.68 392.55h.8v.8h-.8zM248.62 376.08h.8v.8h-.8zM253.2 394.77h.8v.8h-.8zM238.68 381.91h.8v.8h-.8zM239.19 391.59h.8v.8h-.8zM250.39 376.13h.8v.8h-.8zM248.1 394.97h.8v.8h-.8zM264.62 382.15h.8v.8h-.8zM241.98 392.56h.8v.8h-.8zM241.42 394.13h.8v.8h-.8zM246.29 372.64h.8v.8h-.8zM256.33 396.02h.8v.8h-.8zM259.77 376.76h.8v.8h-.8zM235.41 394.55h.8v.8h-.8zM246.22 373.99h.8v.8h-.8zM244.53 391.65h.8v.8h-.8zM245.35 394.45h.8v.8h-.8zM237.84 381.05h.8v.8h-.8zM252.61 374.63h.8v.8h-.8zM238.39 382.52h.8v.8h-.8zM245.04 380.63h.8v.8h-.8zM264.25 387.15h.8v.8h-.8zM245.16 375.69h.8v.8h-.8zM259.46 376.18h.8v.8h-.8zM246.14 398h.8v.8h-.8zM239.64 385.83h.8v.8h-.8zM233.48 393.17h.8v.8h-.8zM253.18 373.58h.8v.8h-.8zM269.01 381.76h.8v.8h-.8zM250.78 375.46h.8v.8h-.8zM242.85 389.38h.8v.8h-.8zM240.75 390.76h.8v.8h-.8zM256.76 369.38h.8v.8h-.8zM247.42 377.97h.8v.8h-.8zM239.16 380.76h.8v.8h-.8zM242.04 385.82h.8v.8h-.8zM247.99 374.8h.8v.8h-.8zM239.41 394.89h.8v.8h-.8zM251.04 374.88h.8v.8h-.8zM262.31 394.1h.8v.8h-.8zM254.39 369.67h.8v.8h-.8zM237.03 379.48h.8v.8h-.8zM246.75 371.94h.8v.8h-.8zM241.66 382.59h.8v.8h-.8zM260.38 390.07h.8v.8h-.8zM248.92 377.87h.8v.8h-.8zM245.24 374.68h.8v.8h-.8zM246.59 392.4h.8v.8h-.8zM246.47 374.89h.8v.8h-.8zM257.91 377.85h.8v.8h-.8zM252.26 376.78h.8v.8h-.8zM242.58 384.48h.8v.8h-.8zM257.78 375.38h.8v.8h-.8zM254.49 376.49h.8v.8h-.8zM269.74 388.85h.8v.8h-.8zM266.8 379.73h.8v.8h-.8zM262.64 379.24h.8v.8h-.8zM264.43 386.54h.8v.8h-.8zM259.14 374.6h.8v.8h-.8zM238.92 384.93h.8v.8h-.8zM243.32 376.87h.8v.8h-.8zM261.49 378.24h.8v.8h-.8zM245.27 370.6h.8v.8h-.8zM261.01 382.29h.8v.8h-.8zM238.34 381.46h.8v.8h-.8zM259.64 376.49h.8v.8h-.8zM240.72 381.23h.8v.8h-.8zM274.19 388.22h.8v.8h-.8zM231.02 376.43h.8v.8h-.8zM247.49 379.51h.8v.8h-.8zM243.46 378.52h.8v.8h-.8zM252.4 377.55h.8v.8h-.8zM259.2 372.71h.8v.8h-.8zM250.35 371.93h.8v.8h-.8zM242.27 400h.8v.8h-.8zM244.27 391.32h.8v.8h-.8zM236.9 387.4h.8v.8h-.8zM241.24 383.33h.8v.8h-.8zM244.77 374.9h.8v.8h-.8zM239.55 377.58h.8v.8h-.8zM243.46 382.51h.8v.8h-.8zM241.99 376.19h.8v.8h-.8zM248.03 366.67h.8v.8h-.8zM247.89 370.22h.8v.8h-.8zM242.39 382.17h.8v.8h-.8zM229.94 390.31h.8v.8h-.8zM258.26 372.79h.8v.8h-.8zM272.86 380.03h.8v.8h-.8zM242 380.24h.8v.8h-.8zM254.32 376.55h.8v.8h-.8zM235.92 374.3h.8v.8h-.8zM238.36 385.55h.8v.8h-.8zM248.73 395.18h.8v.8h-.8zM243.56 384.7h.8v.8h-.8zM234.57 378.87h.8v.8h-.8zM258.73 378.32h.8v.8h-.8zM238.53 371.41h.8v.8h-.8zM249.19 378.19h.8v.8h-.8zM233.04 381.26h.8v.8h-.8zM240.07 377.07h.8v.8h-.8zM256.02 376.26h.8v.8h-.8zM237.41 387.18h.8v.8h-.8zM252.07 376.81h.8v.8h-.8zM242.23 374.64h.8v.8h-.8zM255.54 368.87h.8v.8h-.8zM240.29 376.53h.8v.8h-.8zM240.04 386.15h.8v.8h-.8zM236.56 377.12h.8v.8h-.8zM245.35 393.67h.8v.8h-.8zM239.98 373.2h.8v.8h-.8zM251.99 374.27h.8v.8h-.8zM237.91 376.71h.8v.8h-.8zM241.79 376.29h.8v.8h-.8zM256.89 364.7h.8v.8h-.8zM262.65 388.07h.8v.8h-.8zM260.52 371.46h.8v.8h-.8zM239.25 393.07h.8v.8h-.8zM243.98 389.52h.8v.8h-.8zM254.87 374.74h.8v.8h-.8zM245.19 394.44h.8v.8h-.8zM243.79 388.68h.8v.8h-.8zM248.58 393.51h.8v.8h-.8zM263.96 380.86h.8v.8h-.8zM245.97 375.67h.8v.8h-.8zM254.08 374.57h.8v.8h-.8zM252.42 394.78h.8v.8h-.8zM236.05 377.46h.8v.8h-.8zM261.49 374.51h.8v.8h-.8zM254.47 373.8h.8v.8h-.8zM265.15 367.6h.8v.8h-.8zM254.61 393.92h.8v.8h-.8zM238.74 384.87h.8v.8h-.8zM245.69 379.67h.8v.8h-.8zM261.78 393.18h.8v.8h-.8zM263.68 383.89h.8v.8h-.8zM247.44 377.4h.8v.8h-.8zM244.24 380.96h.8v.8h-.8zM254.3 377.81h.8v.8h-.8zM261.82 379.19h.8v.8h-.8zM238.77 376.78h.8v.8h-.8zM242.46 390.78h.8v.8h-.8zM251.01 375.38h.8v.8h-.8zM235.58 393.29h.8v.8h-.8zM232.08 391.28h.8v.8h-.8zM244.35 381.3h.8v.8h-.8zM240.89 379.71h.8v.8h-.8zM268.44 380.4h.8v.8h-.8zM248.49 376.86h.8v.8h-.8zM248.17 373.13h.8v.8h-.8zM242.77 380.5h.8v.8h-.8zM243.44 385.41h.8v.8h-.8zM264.87 373.74h.8v.8h-.8zM247.51 379.11h.8v.8h-.8zM240.86 385.96h.8v.8h-.8zM274.11 393.48h.8v.8h-.8zM238.13 389.78h.8v.8h-.8zM252.57 394.45h.8v.8h-.8zM261.37 392.94h.8v.8h-.8zM253.88 373.54h.8v.8h-.8zM260.4 371.31h.8v.8h-.8zM245.78 378.05h.8v.8h-.8zM245.57 397.67h.8v.8h-.8zM239.6 385.68h.8v.8h-.8zM242.52 373.7h.8v.8h-.8zM263.39 388.53h.8v.8h-.8zM245.28 380.12h.8v.8h-.8zM234.89 384.49h.8v.8h-.8zM264.2 385.91h.8v.8h-.8zM248.53 373.42h.8v.8h-.8zM230.5 395.48h.8v.8h-.8zM252.8 377.4h.8v.8h-.8zM232.35 382.19h.8v.8h-.8zM238.37 393.28h.8v.8h-.8zM238.64 384.69h.8v.8h-.8zM246.94 394.47h.8v.8h-.8zM252.29 377.58h.8v.8h-.8zM242.59 382.69h.8v.8h-.8zM237.96 389.1h.8v.8h-.8zM261.98 380.52h.8v.8h-.8zM238.63 377.45h.8v.8h-.8zM240.75 374.6h.8v.8h-.8zM242.23 381.83h.8v.8h-.8zM247.83 375.55h.8v.8h-.8zM248.34 368.55h.8v.8h-.8zM246.05 376.01h.8v.8h-.8zM244.83 376.96h.8v.8h-.8zM237.8 392.22h.8v.8h-.8zM235.95 386.45h.8v.8h-.8zM242.23 380h.8v.8h-.8zM242.61 391.63h.8v.8h-.8zM244.63 380.44h.8v.8h-.8zM255.85 372.57h.8v.8h-.8zM253.77 371.88h.8v.8h-.8zM246.97 379.73h.8v.8h-.8zM260.41 390.11h.8v.8h-.8zM249.05 373.76h.8v.8h-.8zM262 382.66h.8v.8h-.8zM239.19 371.16h.8v.8h-.8zM268.5 384.46h.8v.8h-.8zM272.93 376.28h.8v.8h-.8zM235.86 386.13h.8v.8h-.8zM245.66 395.01h.8v.8h-.8zM249.47 374.68h.8v.8h-.8zM260.61 372.44h.8v.8h-.8zM250.37 369.87h.8v.8h-.8zM243.78 379.59h.8v.8h-.8zM246.59 373.65h.8v.8h-.8zM240.18 384.89h.8v.8h-.8zM250.34 394.08h.8v.8h-.8zM240.35 380.36h.8v.8h-.8zM247.66 377.74h.8v.8h-.8zM245.72 373.99h.8v.8h-.8zM237.17 375.68h.8v.8h-.8zM238.5 380.42h.8v.8h-.8zM238.74 390.29h.8v.8h-.8zM239.23 378.95h.8v.8h-.8zM243.12 386h.8v.8h-.8zM250.1 374.47h.8v.8h-.8zM241.74 381.59h.8v.8h-.8zM261.17 378.6h.8v.8h-.8zM263.08 381.44h.8v.8h-.8zM249.04 376.48h.8v.8h-.8zM241.23 386.04h.8v.8h-.8zM254.65 371.56h.8v.8h-.8zM261.74 392.73h.8v.8h-.8zM260.21 379.97h.8v.8h-.8zM266.38 383.33h.8v.8h-.8zM267.45 380.37h.8v.8h-.8zM258.91 379.16h.8v.8h-.8zM243.97 368.26h.8v.8h-.8zM240.47 388.98h.8v.8h-.8zM244.5 375.1h.8v.8h-.8zM256.56 393.8h.8v.8h-.8zM245.07 373.52h.8v.8h-.8zM248.41 397.92h.8v.8h-.8zM238.55 371.67h.8v.8h-.8zM268 374.01h.8v.8h-.8zM249.44 372.13h.8v.8h-.8zM243.6 391.79h.8v.8h-.8zM242.41 384.4h.8v.8h-.8zM253.45 377.25h.8v.8h-.8zM230.68 387.86h.8v.8h-.8zM249.19 375.33h.8v.8h-.8zM238.74 393.1h.8v.8h-.8zM242.2 382.5h.8v.8h-.8zM260.6 378.46h.8v.8h-.8zM239.82 376.51h.8v.8h-.8zM236.37 370.66h.8v.8h-.8zM246.64 375.14h.8v.8h-.8zM243.56 382.37h.8v.8h-.8zM257.66 378.48h.8v.8h-.8zM234.7 387.36h.8v.8h-.8zM242.34 386.59h.8v.8h-.8zM249.1 369.92h.8v.8h-.8zM247.9 393.15h.8v.8h-.8zM254.19 376.1h.8v.8h-.8zM268.31 386.25h.8v.8h-.8zM257.09 373.69h.8v.8h-.8zM244.87 374.46h.8v.8h-.8zM261.59 382.58h.8v.8h-.8zM243.93 380.48h.8v.8h-.8zM252.92 370.97h.8v.8h-.8zM257.49 378.26h.8v.8h-.8zM244.74 375.42h.8v.8h-.8zM243.88 381.87h.8v.8h-.8zM239.59 382.5h.8v.8h-.8zM253.98 368.95h.8v.8h-.8zM244.34 382.95h.8v.8h-.8zM262.01 395.52h.8v.8h-.8zM249.84 374.79h.8v.8h-.8zM243.05 394.51h.8v.8h-.8zM251.21 396.7h.8v.8h-.8zM232.56 384.21h.8v.8h-.8zM249.12 376.41h.8v.8h-.8zM259.67 373.94h.8v.8h-.8zM253.13 394.43h.8v.8h-.8zM252.2 374.82h.8v.8h-.8zM245.67 379.79h.8v.8h-.8zM258.91 374.23h.8v.8h-.8zM256.84 372.06h.8v.8h-.8zM260.45 379.09h.8v.8h-.8zM240.4 385.16h.8v.8h-.8zM253.44 373.4h.8v.8h-.8zM254.92 377.88h.8v.8h-.8zM255.01 373.44h.8v.8h-.8zM257.92 369.17h.8v.8h-.8zM246.82 376.95h.8v.8h-.8zM251.62 394.63h.8v.8h-.8zM230.45 389.94h.8v.8h-.8zM264.52 370.52h.8v.8h-.8zM250.83 399.83h.8v.8h-.8zM255.11 377.56h.8v.8h-.8zM259 371.13h.8v.8h-.8zM237.28 383.57h.8v.8h-.8zM241.85 379.14h.8v.8h-.8zM246.94 379.86h.8v.8h-.8zM247.19 377.43h.8v.8h-.8zM253.5 397.24h.8v.8h-.8zM264.41 382.87h.8v.8h-.8zM261.89 377.29h.8v.8h-.8zM250.15 376.63h.8v.8h-.8zM252.34 394.53h.8v.8h-.8zM252.1 374.13h.8v.8h-.8zM251.83 376.76h.8v.8h-.8zM266.4 383.5h.8v.8h-.8zM251.04 368.83h.8v.8h-.8zM240.25 377.23h.8v.8h-.8zM260.79 393.07h.8v.8h-.8zM247.45 374.47h.8v.8h-.8zM257.08 378.21h.8v.8h-.8zM242.95 382.25h.8v.8h-.8zM250.11 374.66h.8v.8h-.8zM251.18 368.57h.8v.8h-.8zM241.5 382.64h.8v.8h-.8zM256.08 377.42h.8v.8h-.8zM241.87 379.5h.8v.8h-.8zM253.66 372.52h.8v.8h-.8zM258.59 372.37h.8v.8h-.8zM264.59 372.06h.8v.8h-.8zM239.49 380.2h.8v.8h-.8zM263.32 384.7h.8v.8h-.8zM242.75 375.28h.8v.8h-.8zM235.48 376.56h.8v.8h-.8zM242.52 389.05h.8v.8h-.8zM258.06 395.3h.8v.8h-.8zM267.28 378.92h.8v.8h-.8zM266.53 377.7h.8v.8h-.8zM247.1 379.61h.8v.8h-.8zM245.05 377.36h.8v.8h-.8zM260.94 365.26h.8v.8h-.8zM242.3 381.19h.8v.8h-.8zM236.94 382.52h.8v.8h-.8zM235.62 401.2h.8v.8h-.8zM255.68 377.63h.8v.8h-.8zM251.84 367.39h.8v.8h-.8zM248.58 370.86h.8v.8h-.8zM240.59 389.51h.8v.8h-.8zM242.54 380.35h.8v.8h-.8zM243.44 392.14h.8v.8h-.8zM258.41 393.75h.8v.8h-.8zM251 375.27h.8v.8h-.8zM268.23 379.88h.8v.8h-.8zM249.99 375.2h.8v.8h-.8zM266.53 384.82h.8v.8h-.8zM246.86 393.47h.8v.8h-.8zM241.94 379.46h.8v.8h-.8zM261.95 383.64h.8v.8h-.8zM245.7 401.07h.8v.8h-.8zM241.24 379.01h.8v.8h-.8zM234.71 392.28h.8v.8h-.8zM247.3 396.37h.8v.8h-.8zM248.88 371.1h.8v.8h-.8zM251.87 378.02h.8v.8h-.8zM246.2 378.73h.8v.8h-.8zM259.82 379.22h.8v.8h-.8zM242.29 390.82h.8v.8h-.8zM261.78 380.92h.8v.8h-.8zM251.74 378.04h.8v.8h-.8zM263.94 391.23h.8v.8h-.8zM244.05 397.84h.8v.8h-.8zM244.64 380.16h.8v.8h-.8zM237.43 385.24h.8v.8h-.8zM246.98 380.02h.8v.8h-.8zM241.88 379.22h.8v.8h-.8zM242.28 375.32h.8v.8h-.8zM240.1 382.76h.8v.8h-.8zM240.56 386.76h.8v.8h-.8zM258.07 378.23h.8v.8h-.8zM242.9 378.21h.8v.8h-.8zM238.35 386.77h.8v.8h-.8zM245.4 373.24h.8v.8h-.8zM237.16 379.26h.8v.8h-.8zM235.39 384.65h.8v.8h-.8zM253.81 376.08h.8v.8h-.8zM255.77 395.39h.8v.8h-.8zM240.91 375.38h.8v.8h-.8zM255.42 371.83h.8v.8h-.8zM263.82 370.78h.8v.8h-.8zM240.85 394.67h.8v.8h-.8zM241.11 389.57h.8v.8h-.8zM254.99 377.22h.8v.8h-.8zM259.31 380.2h.8v.8h-.8zM258.65 376.83h.8v.8h-.8zM246.13 371.28h.8v.8h-.8zM247.34 372.68h.8v.8h-.8zM256.46 397.38h.8v.8h-.8zM263.03 386.14h.8v.8h-.8zM245.55 376.01h.8v.8h-.8zM231.43 374.38h.8v.8h-.8zM242.65 386.41h.8v.8h-.8zM251.79 357.33h.8v.8h-.8zM237.13 388.28h.8v.8h-.8zM251.21 398.45h.8v.8h-.8zM255.1 375.49h.8v.8h-.8zM257.92 373.95h.8v.8h-.8zM243.96 381.63h.8v.8h-.8zM256.86 372.42h.8v.8h-.8zM243.82 379.46h.8v.8h-.8zM245.54 378.95h.8v.8h-.8zM262.67 380.64h.8v.8h-.8zM233.13 375.86h.8v.8h-.8zM239.1 383.26h.8v.8h-.8zM251.39 377.6h.8v.8h-.8zM249.6 372.77h.8v.8h-.8zM242.22 391.86h.8v.8h-.8zM240.23 386.73h.8v.8h-.8zM261.67 383.67h.8v.8h-.8zM251.75 376.34h.8v.8h-.8zM242.3 378.65h.8v.8h-.8zM241.74 385.28h.8v.8h-.8zM250.05 368.55h.8v.8h-.8zM241.43 377.56h.8v.8h-.8zM263.07 378.9h.8v.8h-.8zM253.09 394.65h.8v.8h-.8zM259.3 395.14h.8v.8h-.8z" fill="#333" fill-opacity="0.3"/>
<ellipse cx="251.53" cy="384.83" rx="11.76" ry="10.3" transform="rotate(-12 251.53 384.83)" fill="#555" fill-opacity="0.5" filter="url(#bl2)"/>
<ellipse cx="252.7" cy="386" rx="10.5" ry="9.2" transform="rotate(-12 252.7 386)" fill="#3a3a3a" filter="url(#bl1)"/>
<polygon points="263.3,332.4 305.5,332.4 305.5,401.8 249.2,401.8 258.5,377.7 261.9,350" fill="none" stroke="#8a8a8a" stroke-width="0.8"/>
<line x1="249.7" y1="401.5" x2="305.5" y2="401.5" stroke="#b5b5b5" stroke-width="1.6"/>
<text x="302.3" y="341.6" font-size="7.6" text-anchor="end" stroke="#111" stroke-width="0.12">25.2%</text>
<rect x="192.3" y="297.4" width="119.1" height="106.1" fill="none" stroke="#111" stroke-width="1.3"/>
<line x1="190.4" y1="298.4" x2="192.3" y2="298.4" stroke="#111" stroke-width="0.9"/>
<line x1="189.5" y1="302.47" x2="192.3" y2="302.47" stroke="#111" stroke-width="0.9"/>
<line x1="190.4" y1="306.54" x2="192.3" y2="306.54" stroke="#111" stroke-width="0.9"/>
<line x1="190.4" y1="310.61" x2="192.3" y2="310.61" stroke="#111" stroke-width="0.9"/>
<line x1="190.4" y1="314.68" x2="192.3" y2="314.68" stroke="#111" stroke-width="0.9"/>
<line x1="190.4" y1="318.75" x2="192.3" y2="318.75" stroke="#111" stroke-width="0.9"/>
<line x1="189.5" y1="322.82" x2="192.3" y2="322.82" stroke="#111" stroke-width="0.9"/>
<line x1="190.4" y1="326.89" x2="192.3" y2="326.89" stroke="#111" stroke-width="0.9"/>
<line x1="190.4" y1="330.96" x2="192.3" y2="330.96" stroke="#111" stroke-width="0.9"/>
<line x1="190.4" y1="335.03" x2="192.3" y2="335.03" stroke="#111" stroke-width="0.9"/>
<line x1="190.4" y1="339.1" x2="192.3" y2="339.1" stroke="#111" stroke-width="0.9"/>
<line x1="189.5" y1="343.17" x2="192.3" y2="343.17" stroke="#111" stroke-width="0.9"/>
<line x1="190.4" y1="347.24" x2="192.3" y2="347.24" stroke="#111" stroke-width="0.9"/>
<line x1="190.4" y1="351.31" x2="192.3" y2="351.31" stroke="#111" stroke-width="0.9"/>
<line x1="190.4" y1="355.38" x2="192.3" y2="355.38" stroke="#111" stroke-width="0.9"/>
<line x1="190.4" y1="359.45" x2="192.3" y2="359.45" stroke="#111" stroke-width="0.9"/>
<line x1="189.5" y1="363.52" x2="192.3" y2="363.52" stroke="#111" stroke-width="0.9"/>
<line x1="190.4" y1="367.59" x2="192.3" y2="367.59" stroke="#111" stroke-width="0.9"/>
<line x1="190.4" y1="371.66" x2="192.3" y2="371.66" stroke="#111" stroke-width="0.9"/>
<line x1="190.4" y1="375.73" x2="192.3" y2="375.73" stroke="#111" stroke-width="0.9"/>
<line x1="190.4" y1="379.8" x2="192.3" y2="379.8" stroke="#111" stroke-width="0.9"/>
<line x1="189.5" y1="383.87" x2="192.3" y2="383.87" stroke="#111" stroke-width="0.9"/>
<line x1="190.4" y1="387.94" x2="192.3" y2="387.94" stroke="#111" stroke-width="0.9"/>
<line x1="190.4" y1="392.01" x2="192.3" y2="392.01" stroke="#111" stroke-width="0.9"/>
<line x1="190.4" y1="396.08" x2="192.3" y2="396.08" stroke="#111" stroke-width="0.9"/>
<line x1="190.4" y1="400.15" x2="192.3" y2="400.15" stroke="#111" stroke-width="0.9"/>
<line x1="194.3" y1="403.5" x2="194.3" y2="405.4" stroke="#111" stroke-width="0.85"/>
<line x1="196.4" y1="403.5" x2="196.4" y2="405.4" stroke="#111" stroke-width="0.85"/>
<line x1="198.5" y1="403.5" x2="198.5" y2="405.4" stroke="#111" stroke-width="0.85"/>
<line x1="200.6" y1="403.5" x2="200.6" y2="405.4" stroke="#111" stroke-width="0.85"/>
<line x1="202.7" y1="403.5" x2="202.7" y2="405.4" stroke="#111" stroke-width="0.85"/>
<line x1="204.8" y1="403.5" x2="204.8" y2="405.4" stroke="#111" stroke-width="0.85"/>
<line x1="206.9" y1="403.5" x2="206.9" y2="405.4" stroke="#111" stroke-width="0.85"/>
<line x1="209" y1="403.5" x2="209" y2="405.4" stroke="#111" stroke-width="0.85"/>
<line x1="215.3" y1="403.5" x2="215.3" y2="405.4" stroke="#111" stroke-width="0.85"/>
<line x1="222.37" y1="403.5" x2="222.37" y2="405.4" stroke="#111" stroke-width="0.85"/>
<line x1="226.51" y1="403.5" x2="226.51" y2="405.4" stroke="#111" stroke-width="0.85"/>
<line x1="229.45" y1="403.5" x2="229.45" y2="405.4" stroke="#111" stroke-width="0.85"/>
<line x1="231.73" y1="403.5" x2="231.73" y2="405.4" stroke="#111" stroke-width="0.85"/>
<line x1="233.59" y1="403.5" x2="233.59" y2="405.4" stroke="#111" stroke-width="0.85"/>
<line x1="235.16" y1="403.5" x2="235.16" y2="405.4" stroke="#111" stroke-width="0.85"/>
<line x1="236.52" y1="403.5" x2="236.52" y2="405.4" stroke="#111" stroke-width="0.85"/>
<line x1="237.72" y1="403.5" x2="237.72" y2="405.4" stroke="#111" stroke-width="0.85"/>
<line x1="238.8" y1="403.5" x2="238.8" y2="405.4" stroke="#111" stroke-width="0.85"/>
<line x1="245.87" y1="403.5" x2="245.87" y2="405.4" stroke="#111" stroke-width="0.85"/>
<line x1="250.01" y1="403.5" x2="250.01" y2="405.4" stroke="#111" stroke-width="0.85"/>
<line x1="252.95" y1="403.5" x2="252.95" y2="405.4" stroke="#111" stroke-width="0.85"/>
<line x1="255.23" y1="403.5" x2="255.23" y2="405.4" stroke="#111" stroke-width="0.85"/>
<line x1="257.09" y1="403.5" x2="257.09" y2="405.4" stroke="#111" stroke-width="0.85"/>
<line x1="258.66" y1="403.5" x2="258.66" y2="405.4" stroke="#111" stroke-width="0.85"/>
<line x1="260.02" y1="403.5" x2="260.02" y2="405.4" stroke="#111" stroke-width="0.85"/>
<line x1="261.22" y1="403.5" x2="261.22" y2="405.4" stroke="#111" stroke-width="0.85"/>
<line x1="262.3" y1="403.5" x2="262.3" y2="405.4" stroke="#111" stroke-width="0.85"/>
<line x1="269.37" y1="403.5" x2="269.37" y2="405.4" stroke="#111" stroke-width="0.85"/>
<line x1="273.51" y1="403.5" x2="273.51" y2="405.4" stroke="#111" stroke-width="0.85"/>
<line x1="276.45" y1="403.5" x2="276.45" y2="405.4" stroke="#111" stroke-width="0.85"/>
<line x1="278.73" y1="403.5" x2="278.73" y2="405.4" stroke="#111" stroke-width="0.85"/>
<line x1="280.59" y1="403.5" x2="280.59" y2="405.4" stroke="#111" stroke-width="0.85"/>
<line x1="282.16" y1="403.5" x2="282.16" y2="405.4" stroke="#111" stroke-width="0.85"/>
<line x1="283.52" y1="403.5" x2="283.52" y2="405.4" stroke="#111" stroke-width="0.85"/>
<line x1="284.72" y1="403.5" x2="284.72" y2="405.4" stroke="#111" stroke-width="0.85"/>
<line x1="285.8" y1="403.5" x2="285.8" y2="405.4" stroke="#111" stroke-width="0.85"/>
<line x1="292.87" y1="403.5" x2="292.87" y2="405.4" stroke="#111" stroke-width="0.85"/>
<line x1="297.01" y1="403.5" x2="297.01" y2="405.4" stroke="#111" stroke-width="0.85"/>
<line x1="299.95" y1="403.5" x2="299.95" y2="405.4" stroke="#111" stroke-width="0.85"/>
<line x1="302.23" y1="403.5" x2="302.23" y2="405.4" stroke="#111" stroke-width="0.85"/>
<line x1="304.09" y1="403.5" x2="304.09" y2="405.4" stroke="#111" stroke-width="0.85"/>
<line x1="305.66" y1="403.5" x2="305.66" y2="405.4" stroke="#111" stroke-width="0.85"/>
<line x1="307.02" y1="403.5" x2="307.02" y2="405.4" stroke="#111" stroke-width="0.85"/>
<line x1="308.22" y1="403.5" x2="308.22" y2="405.4" stroke="#111" stroke-width="0.85"/>
<text x="49" y="382.4" font-size="8.5" text-anchor="middle" textLength="16.3" lengthAdjust="spacingAndGlyphs" transform="rotate(-90 49 382.4)" stroke="#111" stroke-width="0.12">SSC</text>
<line x1="46.2" y1="370.8" x2="46.2" y2="310" stroke="#333" stroke-width="1"/>
<path d="M46.2 306.6L48 311.4L44.4 311.4Z" fill="#111"/>
<text x="88.2" y="417.5" font-size="7.7" textLength="29.4" lengthAdjust="spacingAndGlyphs" stroke="#111" stroke-width="0.12">Aldefluor</text>
<line x1="121.3" y1="414.6" x2="266.5" y2="414.6" stroke="#333" stroke-width="1.2"/>
<path d="M270.2 414.5L265.6 412.7L265.6 416.3Z" fill="#111"/>
<text x="361.9" y="294.7" font-size="11" font-weight="bold" fill="#000" stroke="#000" stroke-width="0.12">D</text>
<text x="455.2" y="294.2" font-size="9" text-anchor="middle" textLength="72.3" lengthAdjust="spacingAndGlyphs" stroke="#111" stroke-width="0.12">Patients at day +3</text>
<line x1="396.7" y1="305.4" x2="396.7" y2="404.6" stroke="#111" stroke-width="1.3"/>
<line x1="394.1" y1="403.7" x2="396.7" y2="403.7" stroke="#111" stroke-width="1"/>
<text x="391.2" y="406.3" font-size="7.6" text-anchor="end" stroke="#111" stroke-width="0.12">0</text>
<line x1="394.1" y1="384.96" x2="396.7" y2="384.96" stroke="#111" stroke-width="1"/>
<text x="391.2" y="387.56" font-size="7.6" text-anchor="end" stroke="#111" stroke-width="0.12">5</text>
<line x1="394.1" y1="366.22" x2="396.7" y2="366.22" stroke="#111" stroke-width="1"/>
<text x="391.2" y="368.82" font-size="7.6" text-anchor="end" stroke="#111" stroke-width="0.12">10</text>
<line x1="394.1" y1="347.48" x2="396.7" y2="347.48" stroke="#111" stroke-width="1"/>
<text x="391.2" y="350.08" font-size="7.6" text-anchor="end" stroke="#111" stroke-width="0.12">15</text>
<line x1="394.1" y1="328.74" x2="396.7" y2="328.74" stroke="#111" stroke-width="1"/>
<text x="391.2" y="331.34" font-size="7.6" text-anchor="end" stroke="#111" stroke-width="0.12">20</text>
<line x1="394.1" y1="310" x2="396.7" y2="310" stroke="#111" stroke-width="1"/>
<text x="391.2" y="312.6" font-size="7.6" text-anchor="end" stroke="#111" stroke-width="0.12">25</text>
<text x="376.9" y="354.6" font-size="9" text-anchor="middle" textLength="56.2" lengthAdjust="spacingAndGlyphs" transform="rotate(-90 376.9 354.6)" stroke="#111" stroke-width="0.25">% Aldefluor-positive</text>
<circle cx="419.9" cy="328.74" r="1.95" fill="#3d9cf5"/>
<circle cx="419.9" cy="357.04" r="1.95" fill="#3d9cf5"/>
<circle cx="419.9" cy="363.6" r="1.95" fill="#3d9cf5"/>
<circle cx="415.9" cy="368.84" r="1.95" fill="#3d9cf5"/>
<circle cx="423.9" cy="367.72" r="1.95" fill="#3d9cf5"/>
<line x1="419.9" y1="339.98" x2="419.9" y2="373.72" stroke="#505050" stroke-width="1.2"/>
<line x1="414.1" y1="339.98" x2="425.7" y2="339.98" stroke="#505050" stroke-width="1.2"/>
<line x1="414.1" y1="373.72" x2="425.7" y2="373.72" stroke="#505050" stroke-width="1.2"/>
<line x1="408.3" y1="356.85" x2="431.5" y2="356.85" stroke="#404040" stroke-width="1.3"/>
<rect x="452.95" y="369.89" width="3.9" height="3.9" fill="#f2689a"/>
<rect x="445.15" y="382.64" width="3.9" height="3.9" fill="#f2689a"/>
<rect x="460.65" y="382.64" width="3.9" height="3.9" fill="#f2689a"/>
<rect x="452.95" y="386.76" width="3.9" height="3.9" fill="#f2689a"/>
<rect x="452.95" y="389.76" width="3.9" height="3.9" fill="#f2689a"/>
<line x1="454.9" y1="376.71" x2="454.9" y2="391.71" stroke="#505050" stroke-width="1.2"/>
<line x1="449.1" y1="376.71" x2="460.7" y2="376.71" stroke="#505050" stroke-width="1.2"/>
<line x1="449.1" y1="391.71" x2="460.7" y2="391.71" stroke="#505050" stroke-width="1.2"/>
<line x1="443.3" y1="384.02" x2="466.5" y2="384.02" stroke="#404040" stroke-width="1.3"/>
<path d="M489.6 380L491.94 384.29L487.26 384.29Z" fill="#7412a2"/>
<path d="M489.6 385.24L491.94 389.53L487.26 389.53Z" fill="#7412a2"/>
<path d="M485.8 388.99L488.14 393.28L483.46 393.28Z" fill="#7412a2"/>
<path d="M494 391.24L496.34 395.53L491.66 395.53Z" fill="#7412a2"/>
<path d="M485.8 393.49L488.14 397.78L483.46 397.78Z" fill="#7412a2"/>
<line x1="489.6" y1="384.02" x2="489.6" y2="395.08" stroke="#505050" stroke-width="1.2"/>
<line x1="483.8" y1="384.02" x2="495.4" y2="384.02" stroke="#505050" stroke-width="1.2"/>
<line x1="483.8" y1="395.08" x2="495.4" y2="395.08" stroke="#505050" stroke-width="1.2"/>
<line x1="478" y1="389.64" x2="501.2" y2="389.64" stroke="#404040" stroke-width="1.3"/>
<line x1="396.7" y1="404" x2="512.8" y2="404" stroke="#111" stroke-width="1.3"/>
<line x1="419.9" y1="404" x2="419.9" y2="406.6" stroke="#111" stroke-width="0.9"/>
<text x="422.3" y="413.9" font-size="7.67" text-anchor="end" transform="rotate(-45 422.3 413.9)" stroke="#111" stroke-width="0.12">CD25<tspan font-size="5.4" dy="-2.8">+</tspan></text>
<line x1="454.9" y1="404" x2="454.9" y2="406.6" stroke="#111" stroke-width="0.9"/>
<text x="457.3" y="413.9" font-size="7.67" text-anchor="end" transform="rotate(-45 457.3 413.9)" stroke="#111" stroke-width="0.12">CD25<tspan font-size="5.4" dy="-2.8">−</tspan><tspan dy="2.8">CD45RA</tspan><tspan font-size="5.4" dy="-2.8">+</tspan></text>
<line x1="489.6" y1="404" x2="489.6" y2="406.6" stroke="#111" stroke-width="0.9"/>
<text x="492" y="413.9" font-size="7.67" text-anchor="end" transform="rotate(-45 492 413.9)" stroke="#111" stroke-width="0.12">CD25<tspan font-size="5.4" dy="-2.8">−</tspan><tspan dy="2.8">CD45RA</tspan><tspan font-size="5.4" dy="-2.8">−</tspan></text>
<text x="5.9" y="474.3" font-size="11" font-weight="bold" fill="#000" stroke="#000" stroke-width="0.12">E</text>
<text x="114.8" y="474.2" font-size="8.7" text-anchor="middle" stroke="#111" stroke-width="0.12">Day 3</text>
<line x1="56.9" y1="480.6" x2="56.9" y2="564.9" stroke="#111" stroke-width="1.3"/>
<line x1="54.3" y1="563.9" x2="56.9" y2="563.9" stroke="#111" stroke-width="1"/>
<text x="51.4" y="566.5" font-size="7.6" text-anchor="end" stroke="#111" stroke-width="0.12">0</text>
<line x1="54.3" y1="537.36" x2="56.9" y2="537.36" stroke="#111" stroke-width="1"/>
<text x="51.4" y="539.96" font-size="7.6" text-anchor="end" stroke="#111" stroke-width="0.12">2</text>
<line x1="54.3" y1="510.82" x2="56.9" y2="510.82" stroke="#111" stroke-width="1"/>
<text x="51.4" y="513.42" font-size="7.6" text-anchor="end" stroke="#111" stroke-width="0.12">4</text>
<line x1="54.3" y1="484.28" x2="56.9" y2="484.28" stroke="#111" stroke-width="1"/>
<text x="51.4" y="486.88" font-size="7.6" text-anchor="end" stroke="#111" stroke-width="0.12">6</text>
<text x="40.7" y="521.95" font-size="9.4" text-anchor="middle" textLength="81.9" lengthAdjust="spacingAndGlyphs" transform="rotate(-90 40.7 521.95)" stroke="#111" stroke-width="0.25">Relative <tspan font-weight="bold">ALDH1A1</tspan> expression</text>
<circle cx="62.6" cy="550.63" r="1.6" fill="#c8102e"/>
<circle cx="64.2" cy="550.63" r="1.6" fill="#c8102e"/>
<circle cx="65.8" cy="550.63" r="1.6" fill="#c8102e"/>
<circle cx="67.4" cy="550.63" r="1.6" fill="#c8102e"/>
<rect x="76.17" y="495.95" width="3.2" height="3.2" fill="#1b4f8c"/>
<rect x="76.17" y="536.03" width="3.2" height="3.2" fill="#1b4f8c"/>
<rect x="76.17" y="546.38" width="3.2" height="3.2" fill="#1b4f8c"/>
<rect x="76.17" y="560.71" width="3.2" height="3.2" fill="#1b4f8c"/>
<line x1="77.77" y1="508.83" x2="77.77" y2="563.9" stroke="#222" stroke-width="1.1"/>
<line x1="75.57" y1="508.83" x2="79.97" y2="508.83" stroke="#222" stroke-width="1.1"/>
<line x1="73.57" y1="536.03" x2="81.97" y2="536.03" stroke="#111" stroke-width="1.3"/>
<path d="M90.54 532.79L92.46 536.31L88.62 536.31Z" fill="#33c045"/>
<path d="M90.54 550.7L92.46 554.22L88.62 554.22Z" fill="#33c045"/>
<path d="M90.54 560.92L92.46 564.44L88.62 564.44Z" fill="#33c045"/>
<line x1="90.54" y1="537.63" x2="90.54" y2="561.64" stroke="#222" stroke-width="1.1"/>
<line x1="88.34" y1="537.63" x2="92.74" y2="537.63" stroke="#222" stroke-width="1.1"/>
<line x1="88.34" y1="561.64" x2="92.74" y2="561.64" stroke="#222" stroke-width="1.1"/>
<line x1="86.34" y1="549.97" x2="94.74" y2="549.97" stroke="#111" stroke-width="1.3"/>
<path d="M103.31 541.93L105.23 538.41L101.39 538.41Z" fill="#4f1477"/>
<path d="M103.31 558.52L105.23 555L101.39 555Z" fill="#4f1477"/>
<path d="M103.31 563.17L105.23 559.65L101.39 559.65Z" fill="#4f1477"/>
<line x1="103.31" y1="545.06" x2="103.31" y2="563.9" stroke="#222" stroke-width="1.1"/>
<line x1="101.11" y1="545.06" x2="105.51" y2="545.06" stroke="#222" stroke-width="1.1"/>
<line x1="99.11" y1="555.94" x2="107.51" y2="555.94" stroke="#111" stroke-width="1.3"/>
<circle cx="116.08" cy="537.36" r="1.6" fill="#ff8c1a"/>
<circle cx="113.28" cy="542.67" r="1.6" fill="#ff8c1a"/>
<circle cx="118.68" cy="543.73" r="1.6" fill="#ff8c1a"/>
<circle cx="116.08" cy="556.6" r="1.6" fill="#ff8c1a"/>
<line x1="116.08" y1="537.36" x2="116.08" y2="553.02" stroke="#222" stroke-width="1.1"/>
<line x1="113.88" y1="537.36" x2="118.28" y2="537.36" stroke="#222" stroke-width="1.1"/>
<line x1="113.88" y1="553.02" x2="118.28" y2="553.02" stroke="#222" stroke-width="1.1"/>
<line x1="111.88" y1="545.06" x2="120.28" y2="545.06" stroke="#111" stroke-width="1.3"/>
<circle cx="126.45" cy="563.9" r="1.6" fill="#036b47"/>
<circle cx="128.05" cy="563.9" r="1.6" fill="#036b47"/>
<circle cx="129.65" cy="563.9" r="1.6" fill="#036b47"/>
<circle cx="131.25" cy="563.9" r="1.6" fill="#036b47"/>
<circle cx="139.22" cy="563.63" r="1.6" fill="#9281d2"/>
<circle cx="140.82" cy="563.63" r="1.6" fill="#9281d2"/>
<circle cx="142.42" cy="563.63" r="1.6" fill="#9281d2"/>
<circle cx="144.02" cy="563.63" r="1.6" fill="#9281d2"/>
<rect x="150.39" y="561.24" width="3.2" height="3.2" fill="#3f5272"/>
<rect x="151.99" y="560.71" width="3.2" height="3.2" fill="#3f5272"/>
<rect x="153.59" y="560.31" width="3.2" height="3.2" fill="#3f5272"/>
<rect x="155.19" y="560.97" width="3.2" height="3.2" fill="#3f5272"/>
<path d="M164.76 561.98L166.68 565.5L162.84 565.5Z" fill="#33a9ee"/>
<path d="M166.36 561.98L168.28 565.5L164.44 565.5Z" fill="#33a9ee"/>
<path d="M167.96 561.98L169.88 565.5L166.04 565.5Z" fill="#33a9ee"/>
<path d="M169.56 561.98L171.48 565.5L167.64 565.5Z" fill="#33a9ee"/>
<line x1="56.9" y1="564.3" x2="176.5" y2="564.3" stroke="#111" stroke-width="1.3"/>
<line x1="65" y1="564.3" x2="65" y2="566.9" stroke="#111" stroke-width="0.9"/>
<text x="67.2" y="573.9" font-size="7.46" text-anchor="end" transform="rotate(-45 67.2 573.9)" stroke="#111" stroke-width="0.12">Vehicle</text>
<line x1="77.77" y1="564.3" x2="77.77" y2="566.9" stroke="#111" stroke-width="0.9"/>
<text x="79.97" y="573.9" font-size="7.46" text-anchor="end" transform="rotate(-45 79.97 573.9)" stroke="#111" stroke-width="0.12">IL-2 10 IU/ml</text>
<line x1="90.54" y1="564.3" x2="90.54" y2="566.9" stroke="#111" stroke-width="0.9"/>
<text x="92.74" y="573.9" font-size="7.46" text-anchor="end" transform="rotate(-45 92.74 573.9)" stroke="#111" stroke-width="0.12">IL-7 10 ng/ml</text>
<line x1="103.31" y1="564.3" x2="103.31" y2="566.9" stroke="#111" stroke-width="0.9"/>
<text x="105.51" y="573.9" font-size="7.46" text-anchor="end" transform="rotate(-45 105.51 573.9)" stroke="#111" stroke-width="0.12">IL-15 10 ng/ml</text>
<line x1="116.08" y1="564.3" x2="116.08" y2="566.9" stroke="#111" stroke-width="0.9"/>
<text x="118.28" y="573.9" font-size="7.46" text-anchor="end" transform="rotate(-45 118.28 573.9)" stroke="#111" stroke-width="0.12">MLC</text>
<line x1="128.85" y1="564.3" x2="128.85" y2="566.9" stroke="#111" stroke-width="0.9"/>
<text x="131.05" y="573.9" font-size="7.46" text-anchor="end" transform="rotate(-45 131.05 573.9)" stroke="#111" stroke-width="0.12">Beads</text>
<line x1="141.62" y1="564.3" x2="141.62" y2="566.9" stroke="#111" stroke-width="0.9"/>
<text x="143.82" y="573.9" font-size="7.46" text-anchor="end" transform="rotate(-45 143.82 573.9)" stroke="#111" stroke-width="0.12">Beads + IL-2</text>
<line x1="154.39" y1="564.3" x2="154.39" y2="566.9" stroke="#111" stroke-width="0.9"/>
<text x="156.59" y="573.9" font-size="7.46" text-anchor="end" transform="rotate(-45 156.59 573.9)" stroke="#111" stroke-width="0.12">Beads + IL-7</text>
<line x1="167.16" y1="564.3" x2="167.16" y2="566.9" stroke="#111" stroke-width="0.9"/>
<text x="169.36" y="573.9" font-size="7.46" text-anchor="end" transform="rotate(-45 169.36 573.9)" stroke="#111" stroke-width="0.12">Beads + IL-15</text>
<text x="188.9" y="474.3" font-size="11" font-weight="bold" fill="#000" stroke="#000" stroke-width="0.12">F</text>
<text x="285.9" y="474.2" font-size="8.7" text-anchor="middle" stroke="#111" stroke-width="0.12">Day 3</text>
<line x1="227.4" y1="480.6" x2="227.4" y2="564.9" stroke="#111" stroke-width="1.3"/>
<line x1="224.8" y1="563.9" x2="227.4" y2="563.9" stroke="#111" stroke-width="1"/>
<text x="221.9" y="566.5" font-size="7.6" text-anchor="end" stroke="#111" stroke-width="0.12">0.0</text>
<line x1="224.8" y1="544.05" x2="227.4" y2="544.05" stroke="#111" stroke-width="1"/>
<text x="221.9" y="546.65" font-size="7.6" text-anchor="end" stroke="#111" stroke-width="0.12">0.5</text>
<line x1="224.8" y1="524.2" x2="227.4" y2="524.2" stroke="#111" stroke-width="1"/>
<text x="221.9" y="526.8" font-size="7.6" text-anchor="end" stroke="#111" stroke-width="0.12">1.0</text>
<line x1="224.8" y1="504.35" x2="227.4" y2="504.35" stroke="#111" stroke-width="1"/>
<text x="221.9" y="506.95" font-size="7.6" text-anchor="end" stroke="#111" stroke-width="0.12">1.5</text>
<line x1="224.8" y1="484.5" x2="227.4" y2="484.5" stroke="#111" stroke-width="1"/>
<text x="221.9" y="487.1" font-size="7.6" text-anchor="end" stroke="#111" stroke-width="0.12">2.0</text>
<text x="205.9" y="522.05" font-size="9.4" text-anchor="middle" textLength="82.1" lengthAdjust="spacingAndGlyphs" transform="rotate(-90 205.9 522.05)" stroke="#111" stroke-width="0.25">Relative ALDH1A1 expression</text>
<circle cx="235.8" cy="498" r="1.7" fill="#cc0f31"/>
<circle cx="244.4" cy="494.82" r="1.7" fill="#cc0f31"/>
<circle cx="240.3" cy="511.5" r="1.7" fill="#cc0f31"/>
<circle cx="240.3" cy="519.04" r="1.7" fill="#cc0f31"/>
<line x1="240.3" y1="494.03" x2="240.3" y2="517.45" stroke="#333" stroke-width="1.1"/>
<line x1="237.5" y1="494.03" x2="243.1" y2="494.03" stroke="#333" stroke-width="1.1"/>
<line x1="237.5" y1="517.45" x2="243.1" y2="517.45" stroke="#333" stroke-width="1.1"/>
<line x1="234.5" y1="505.54" x2="246.1" y2="505.54" stroke="#111" stroke-width="1.3"/>
<rect x="257" y="492.72" width="3.4" height="3.4" fill="#1b4f8c"/>
<rect x="257" y="503.05" width="3.4" height="3.4" fill="#1b4f8c"/>
<rect x="252.5" y="517.34" width="3.4" height="3.4" fill="#1b4f8c"/>
<rect x="261.5" y="514.16" width="3.4" height="3.4" fill="#1b4f8c"/>
<line x1="258.7" y1="497.2" x2="258.7" y2="519.44" stroke="#333" stroke-width="1.1"/>
<line x1="255.9" y1="497.2" x2="261.5" y2="497.2" stroke="#333" stroke-width="1.1"/>
<line x1="255.9" y1="519.44" x2="261.5" y2="519.44" stroke="#333" stroke-width="1.1"/>
<line x1="252.9" y1="508.32" x2="264.5" y2="508.32" stroke="#111" stroke-width="1.3"/>
<path d="M277.8 514.62L279.84 518.36L275.76 518.36Z" fill="#36c047"/>
<path d="M277.8 520.97L279.84 524.71L275.76 524.71Z" fill="#36c047"/>
<path d="M277.8 536.45L279.84 540.19L275.76 540.19Z" fill="#36c047"/>
<path d="M277.8 540.02L279.84 543.76L275.76 543.76Z" fill="#36c047"/>
<line x1="277.8" y1="516.66" x2="277.8" y2="542.06" stroke="#333" stroke-width="1.1"/>
<line x1="275" y1="516.66" x2="280.6" y2="516.66" stroke="#333" stroke-width="1.1"/>
<line x1="275" y1="542.06" x2="280.6" y2="542.06" stroke="#333" stroke-width="1.1"/>
<line x1="272" y1="529.36" x2="283.6" y2="529.36" stroke="#111" stroke-width="1.3"/>
<path d="M296.7 556.81L298.74 553.07L294.66 553.07Z" fill="#5b1783"/>
<path d="M291.2 563.56L293.24 559.82L289.16 559.82Z" fill="#5b1783"/>
<path d="M302.2 563.16L304.24 559.42L300.16 559.42Z" fill="#5b1783"/>
<path d="M296.7 562.76L298.74 559.02L294.66 559.02Z" fill="#5b1783"/>
<line x1="296.7" y1="556.36" x2="296.7" y2="563.9" stroke="#333" stroke-width="1.1"/>
<line x1="293.9" y1="556.36" x2="299.5" y2="556.36" stroke="#333" stroke-width="1.1"/>
<line x1="290.9" y1="559.93" x2="302.5" y2="559.93" stroke="#111" stroke-width="1.3"/>
<circle cx="310.4" cy="562.71" r="1.7" fill="#ff9416"/>
<circle cx="313.7" cy="561.91" r="1.7" fill="#ff9416"/>
<circle cx="317.1" cy="562.71" r="1.7" fill="#ff9416"/>
<circle cx="320.4" cy="561.91" r="1.7" fill="#ff9416"/>
<line x1="315.4" y1="561.52" x2="315.4" y2="563.9" stroke="#333" stroke-width="1.1"/>
<line x1="312.6" y1="561.52" x2="318.2" y2="561.52" stroke="#333" stroke-width="1.1"/>
<line x1="309.6" y1="562.71" x2="321.2" y2="562.71" stroke="#111" stroke-width="1.3"/>
<circle cx="329.5" cy="563.9" r="1.7" fill="#066f4c"/>
<circle cx="332.5" cy="563.9" r="1.7" fill="#066f4c"/>
<circle cx="335.5" cy="563.9" r="1.7" fill="#066f4c"/>
<circle cx="338.5" cy="563.9" r="1.7" fill="#066f4c"/>
<line x1="227.4" y1="564.3" x2="346.5" y2="564.3" stroke="#111" stroke-width="1.3"/>
<line x1="240.3" y1="564.3" x2="240.3" y2="566.9" stroke="#111" stroke-width="0.9"/>
<text x="242.5" y="573.9" font-size="7.67" text-anchor="end" transform="rotate(-45 242.5 573.9)" stroke="#111" stroke-width="0.12">0.1</text>
<line x1="258.7" y1="564.3" x2="258.7" y2="566.9" stroke="#111" stroke-width="0.9"/>
<text x="260.9" y="573.9" font-size="7.67" text-anchor="end" transform="rotate(-45 260.9 573.9)" stroke="#111" stroke-width="0.12">1</text>
<line x1="277.8" y1="564.3" x2="277.8" y2="566.9" stroke="#111" stroke-width="0.9"/>
<text x="280" y="573.9" font-size="7.67" text-anchor="end" transform="rotate(-45 280 573.9)" stroke="#111" stroke-width="0.12">10</text>
<line x1="296.7" y1="564.3" x2="296.7" y2="566.9" stroke="#111" stroke-width="0.9"/>
<text x="298.9" y="573.9" font-size="7.67" text-anchor="end" transform="rotate(-45 298.9 573.9)" stroke="#111" stroke-width="0.12">100</text>
<line x1="315.4" y1="564.3" x2="315.4" y2="566.9" stroke="#111" stroke-width="0.9"/>
<text x="317.6" y="573.9" font-size="7.67" text-anchor="end" transform="rotate(-45 317.6 573.9)" stroke="#111" stroke-width="0.12">1000</text>
<line x1="334" y1="564.3" x2="334" y2="566.9" stroke="#111" stroke-width="0.9"/>
<text x="336.2" y="573.9" font-size="7.67" text-anchor="end" transform="rotate(-45 336.2 573.9)" stroke="#111" stroke-width="0.12">10 000</text>
<text x="286.2" y="603.3" font-size="9" text-anchor="middle" textLength="30.5" lengthAdjust="spacingAndGlyphs" stroke="#111" stroke-width="0.15">IL-2 IU/ml</text>
<text x="358.6" y="474.3" font-size="11" font-weight="bold" fill="#000" stroke="#000" stroke-width="0.12">G</text>
<text x="452.3" y="474.2" font-size="8.7" text-anchor="middle" stroke="#111" stroke-width="0.12">1 IU/ml IL-2</text>
<line x1="393.1" y1="483.3" x2="393.1" y2="564.9" stroke="#111" stroke-width="1.3"/>
<line x1="390.5" y1="564.1" x2="393.1" y2="564.1" stroke="#111" stroke-width="1"/>
<text x="387.6" y="566.7" font-size="7.6" text-anchor="end" stroke="#111" stroke-width="0.12">0</text>
<line x1="390.5" y1="544.88" x2="393.1" y2="544.88" stroke="#111" stroke-width="1"/>
<text x="387.6" y="547.48" font-size="7.6" text-anchor="end" stroke="#111" stroke-width="0.12">2</text>
<line x1="390.5" y1="525.66" x2="393.1" y2="525.66" stroke="#111" stroke-width="1"/>
<text x="387.6" y="528.26" font-size="7.6" text-anchor="end" stroke="#111" stroke-width="0.12">4</text>
<line x1="390.5" y1="506.44" x2="393.1" y2="506.44" stroke="#111" stroke-width="1"/>
<text x="387.6" y="509.04" font-size="7.6" text-anchor="end" stroke="#111" stroke-width="0.12">6</text>
<line x1="390.5" y1="487.22" x2="393.1" y2="487.22" stroke="#111" stroke-width="1"/>
<text x="387.6" y="489.82" font-size="7.6" text-anchor="end" stroke="#111" stroke-width="0.12">8</text>
<text x="377.7" y="523.85" font-size="9.4" text-anchor="middle" textLength="81.9" lengthAdjust="spacingAndGlyphs" transform="rotate(-90 377.7 523.85)" stroke="#111" stroke-width="0.25">Relative <tspan font-weight="bold">ALDH1A1</tspan> expression</text>
<polyline points="393.5,554.49 403.85,554.97 414.2,554.49" fill="none" stroke="#3ac64a" stroke-width="1.4" stroke-linejoin="round"/>
<polyline points="420,555.45 426.85,557.37 440.55,560.26" fill="none" stroke="#3ac64a" stroke-width="1.4" stroke-linejoin="round"/>
<polyline points="446.7,559.97 454.49,557.57 462.28,554.78 485.64,563.62 509,552.09" fill="none" stroke="#3ac64a" stroke-width="1.4" stroke-linejoin="round"/>
<line x1="393.5" y1="552.09" x2="393.5" y2="556.89" stroke="#3ac64a" stroke-width="0.8"/>
<line x1="392" y1="552.09" x2="395" y2="552.09" stroke="#3ac64a" stroke-width="0.8"/>
<line x1="392" y1="556.89" x2="395" y2="556.89" stroke="#3ac64a" stroke-width="0.8"/>
<path d="M393.5 556.17L395.18 553.09L391.82 553.09Z" fill="#3ac64a"/>
<line x1="403.85" y1="552.09" x2="403.85" y2="557.85" stroke="#3ac64a" stroke-width="0.8"/>
<line x1="402.35" y1="552.09" x2="405.35" y2="552.09" stroke="#3ac64a" stroke-width="0.8"/>
<line x1="402.35" y1="557.85" x2="405.35" y2="557.85" stroke="#3ac64a" stroke-width="0.8"/>
<path d="M403.85 556.65L405.53 553.57L402.17 553.57Z" fill="#3ac64a"/>
<line x1="414.2" y1="552.09" x2="414.2" y2="556.89" stroke="#3ac64a" stroke-width="0.8"/>
<line x1="412.7" y1="552.09" x2="415.7" y2="552.09" stroke="#3ac64a" stroke-width="0.8"/>
<line x1="412.7" y1="556.89" x2="415.7" y2="556.89" stroke="#3ac64a" stroke-width="0.8"/>
<path d="M414.2 556.17L415.88 553.09L412.52 553.09Z" fill="#3ac64a"/>
<line x1="420" y1="553.05" x2="420" y2="557.85" stroke="#3ac64a" stroke-width="0.8"/>
<line x1="418.5" y1="553.05" x2="421.5" y2="553.05" stroke="#3ac64a" stroke-width="0.8"/>
<line x1="418.5" y1="557.85" x2="421.5" y2="557.85" stroke="#3ac64a" stroke-width="0.8"/>
<path d="M420 557.13L421.68 554.05L418.32 554.05Z" fill="#3ac64a"/>
<line x1="426.85" y1="555.45" x2="426.85" y2="559.3" stroke="#3ac64a" stroke-width="0.8"/>
<line x1="425.35" y1="555.45" x2="428.35" y2="555.45" stroke="#3ac64a" stroke-width="0.8"/>
<line x1="425.35" y1="559.3" x2="428.35" y2="559.3" stroke="#3ac64a" stroke-width="0.8"/>
<path d="M426.85 559.05L428.53 555.97L425.17 555.97Z" fill="#3ac64a"/>
<line x1="440.55" y1="558.33" x2="440.55" y2="562.18" stroke="#3ac64a" stroke-width="0.8"/>
<line x1="439.05" y1="558.33" x2="442.05" y2="558.33" stroke="#3ac64a" stroke-width="0.8"/>
<line x1="439.05" y1="562.18" x2="442.05" y2="562.18" stroke="#3ac64a" stroke-width="0.8"/>
<path d="M440.55 561.94L442.23 558.86L438.87 558.86Z" fill="#3ac64a"/>
<line x1="446.7" y1="558.53" x2="446.7" y2="561.41" stroke="#3ac64a" stroke-width="0.8"/>
<line x1="445.2" y1="558.53" x2="448.2" y2="558.53" stroke="#3ac64a" stroke-width="0.8"/>
<line x1="445.2" y1="561.41" x2="448.2" y2="561.41" stroke="#3ac64a" stroke-width="0.8"/>
<path d="M446.7 561.65L448.38 558.57L445.02 558.57Z" fill="#3ac64a"/>
<line x1="454.49" y1="554.68" x2="454.49" y2="560.45" stroke="#3ac64a" stroke-width="0.8"/>
<line x1="452.99" y1="554.68" x2="455.99" y2="554.68" stroke="#3ac64a" stroke-width="0.8"/>
<line x1="452.99" y1="560.45" x2="455.99" y2="560.45" stroke="#3ac64a" stroke-width="0.8"/>
<path d="M454.49 559.25L456.17 556.17L452.81 556.17Z" fill="#3ac64a"/>
<line x1="462.28" y1="551.9" x2="462.28" y2="557.66" stroke="#3ac64a" stroke-width="0.8"/>
<line x1="460.78" y1="551.9" x2="463.78" y2="551.9" stroke="#3ac64a" stroke-width="0.8"/>
<line x1="460.78" y1="557.66" x2="463.78" y2="557.66" stroke="#3ac64a" stroke-width="0.8"/>
<path d="M462.28 556.46L463.96 553.38L460.6 553.38Z" fill="#3ac64a"/>
<line x1="485.64" y1="560.74" x2="485.64" y2="564.1" stroke="#3ac64a" stroke-width="0.8"/>
<line x1="484.14" y1="560.74" x2="487.14" y2="560.74" stroke="#3ac64a" stroke-width="0.8"/>
<line x1="484.14" y1="564.1" x2="487.14" y2="564.1" stroke="#3ac64a" stroke-width="0.8"/>
<path d="M485.64 565.3L487.32 562.22L483.96 562.22Z" fill="#3ac64a"/>
<line x1="509" y1="549.2" x2="509" y2="554.97" stroke="#3ac64a" stroke-width="0.8"/>
<line x1="507.5" y1="549.2" x2="510.5" y2="549.2" stroke="#3ac64a" stroke-width="0.8"/>
<line x1="507.5" y1="554.97" x2="510.5" y2="554.97" stroke="#3ac64a" stroke-width="0.8"/>
<path d="M509 553.77L510.68 550.69L507.32 550.69Z" fill="#3ac64a"/>
<polyline points="393.5,554.97 403.85,557.08 414.2,557.08" fill="none" stroke="#5d1f85" stroke-width="1.4" stroke-linejoin="round"/>
<polyline points="420,556.12 426.85,558.81 440.55,561.41" fill="none" stroke="#5d1f85" stroke-width="1.4" stroke-linejoin="round"/>
<polyline points="446.7,562.18 454.49,562.66 462.28,561.51 485.64,546.8 509,549.2" fill="none" stroke="#5d1f85" stroke-width="1.4" stroke-linejoin="round"/>
<line x1="393.5" y1="552.57" x2="393.5" y2="557.37" stroke="#5d1f85" stroke-width="0.8"/>
<line x1="392" y1="552.57" x2="395" y2="552.57" stroke="#5d1f85" stroke-width="0.8"/>
<line x1="392" y1="557.37" x2="395" y2="557.37" stroke="#5d1f85" stroke-width="0.8"/>
<circle cx="393.5" cy="554.97" r="1.4" fill="#5d1f85"/>
<line x1="403.85" y1="554.2" x2="403.85" y2="559.97" stroke="#5d1f85" stroke-width="0.8"/>
<line x1="402.35" y1="554.2" x2="405.35" y2="554.2" stroke="#5d1f85" stroke-width="0.8"/>
<line x1="402.35" y1="559.97" x2="405.35" y2="559.97" stroke="#5d1f85" stroke-width="0.8"/>
<circle cx="403.85" cy="557.08" r="1.4" fill="#5d1f85"/>
<line x1="414.2" y1="554.68" x2="414.2" y2="559.49" stroke="#5d1f85" stroke-width="0.8"/>
<line x1="412.7" y1="554.68" x2="415.7" y2="554.68" stroke="#5d1f85" stroke-width="0.8"/>
<line x1="412.7" y1="559.49" x2="415.7" y2="559.49" stroke="#5d1f85" stroke-width="0.8"/>
<circle cx="414.2" cy="557.08" r="1.4" fill="#5d1f85"/>
<line x1="420" y1="553.72" x2="420" y2="558.53" stroke="#5d1f85" stroke-width="0.8"/>
<line x1="418.5" y1="553.72" x2="421.5" y2="553.72" stroke="#5d1f85" stroke-width="0.8"/>
<line x1="418.5" y1="558.53" x2="421.5" y2="558.53" stroke="#5d1f85" stroke-width="0.8"/>
<circle cx="420" cy="556.12" r="1.4" fill="#5d1f85"/>
<line x1="426.85" y1="556.89" x2="426.85" y2="560.74" stroke="#5d1f85" stroke-width="0.8"/>
<line x1="425.35" y1="556.89" x2="428.35" y2="556.89" stroke="#5d1f85" stroke-width="0.8"/>
<line x1="425.35" y1="560.74" x2="428.35" y2="560.74" stroke="#5d1f85" stroke-width="0.8"/>
<circle cx="426.85" cy="558.81" r="1.4" fill="#5d1f85"/>
<line x1="440.55" y1="559.49" x2="440.55" y2="563.33" stroke="#5d1f85" stroke-width="0.8"/>
<line x1="439.05" y1="559.49" x2="442.05" y2="559.49" stroke="#5d1f85" stroke-width="0.8"/>
<line x1="439.05" y1="563.33" x2="442.05" y2="563.33" stroke="#5d1f85" stroke-width="0.8"/>
<circle cx="440.55" cy="561.41" r="1.4" fill="#5d1f85"/>
<line x1="446.7" y1="560.74" x2="446.7" y2="563.62" stroke="#5d1f85" stroke-width="0.8"/>
<line x1="445.2" y1="560.74" x2="448.2" y2="560.74" stroke="#5d1f85" stroke-width="0.8"/>
<line x1="445.2" y1="563.62" x2="448.2" y2="563.62" stroke="#5d1f85" stroke-width="0.8"/>
<circle cx="446.7" cy="562.18" r="1.4" fill="#5d1f85"/>
<line x1="454.49" y1="559.78" x2="454.49" y2="564.1" stroke="#5d1f85" stroke-width="0.8"/>
<line x1="452.99" y1="559.78" x2="455.99" y2="559.78" stroke="#5d1f85" stroke-width="0.8"/>
<line x1="452.99" y1="564.1" x2="455.99" y2="564.1" stroke="#5d1f85" stroke-width="0.8"/>
<circle cx="454.49" cy="562.66" r="1.4" fill="#5d1f85"/>
<line x1="462.28" y1="558.62" x2="462.28" y2="564.1" stroke="#5d1f85" stroke-width="0.8"/>
<line x1="460.78" y1="558.62" x2="463.78" y2="558.62" stroke="#5d1f85" stroke-width="0.8"/>
<line x1="460.78" y1="564.1" x2="463.78" y2="564.1" stroke="#5d1f85" stroke-width="0.8"/>
<circle cx="462.28" cy="561.51" r="1.4" fill="#5d1f85"/>
<line x1="485.64" y1="543.92" x2="485.64" y2="549.69" stroke="#5d1f85" stroke-width="0.8"/>
<line x1="484.14" y1="543.92" x2="487.14" y2="543.92" stroke="#5d1f85" stroke-width="0.8"/>
<line x1="484.14" y1="549.69" x2="487.14" y2="549.69" stroke="#5d1f85" stroke-width="0.8"/>
<circle cx="485.64" cy="546.8" r="1.4" fill="#5d1f85"/>
<line x1="509" y1="546.32" x2="509" y2="552.09" stroke="#5d1f85" stroke-width="0.8"/>
<line x1="507.5" y1="546.32" x2="510.5" y2="546.32" stroke="#5d1f85" stroke-width="0.8"/>
<line x1="507.5" y1="552.09" x2="510.5" y2="552.09" stroke="#5d1f85" stroke-width="0.8"/>
<circle cx="509" cy="549.2" r="1.4" fill="#5d1f85"/>
<polyline points="393.5,554.49 403.85,554.97 414.2,552.09" fill="none" stroke="#17508e" stroke-width="1.4" stroke-linejoin="round"/>
<polyline points="420,554.49 426.85,555.93 440.55,558.81" fill="none" stroke="#17508e" stroke-width="1.4" stroke-linejoin="round"/>
<polyline points="446.7,553.72 454.49,549.97 462.28,544.59 485.64,489.62 509,522.78" fill="none" stroke="#17508e" stroke-width="1.4" stroke-linejoin="round"/>
<line x1="393.5" y1="552.09" x2="393.5" y2="556.89" stroke="#17508e" stroke-width="0.8"/>
<line x1="392" y1="552.09" x2="395" y2="552.09" stroke="#17508e" stroke-width="0.8"/>
<line x1="392" y1="556.89" x2="395" y2="556.89" stroke="#17508e" stroke-width="0.8"/>
<path d="M393.5 556.17L395.18 553.09L391.82 553.09Z" fill="#17508e"/>
<line x1="403.85" y1="552.09" x2="403.85" y2="557.85" stroke="#17508e" stroke-width="0.8"/>
<line x1="402.35" y1="552.09" x2="405.35" y2="552.09" stroke="#17508e" stroke-width="0.8"/>
<line x1="402.35" y1="557.85" x2="405.35" y2="557.85" stroke="#17508e" stroke-width="0.8"/>
<path d="M403.85 556.65L405.53 553.57L402.17 553.57Z" fill="#17508e"/>
<line x1="414.2" y1="549.69" x2="414.2" y2="554.49" stroke="#17508e" stroke-width="0.8"/>
<line x1="412.7" y1="549.69" x2="415.7" y2="549.69" stroke="#17508e" stroke-width="0.8"/>
<line x1="412.7" y1="554.49" x2="415.7" y2="554.49" stroke="#17508e" stroke-width="0.8"/>
<path d="M414.2 553.77L415.88 550.69L412.52 550.69Z" fill="#17508e"/>
<line x1="420" y1="552.09" x2="420" y2="556.89" stroke="#17508e" stroke-width="0.8"/>
<line x1="418.5" y1="552.09" x2="421.5" y2="552.09" stroke="#17508e" stroke-width="0.8"/>
<line x1="418.5" y1="556.89" x2="421.5" y2="556.89" stroke="#17508e" stroke-width="0.8"/>
<path d="M420 556.17L421.68 553.09L418.32 553.09Z" fill="#17508e"/>
<line x1="426.85" y1="554.01" x2="426.85" y2="557.85" stroke="#17508e" stroke-width="0.8"/>
<line x1="425.35" y1="554.01" x2="428.35" y2="554.01" stroke="#17508e" stroke-width="0.8"/>
<line x1="425.35" y1="557.85" x2="428.35" y2="557.85" stroke="#17508e" stroke-width="0.8"/>
<path d="M426.85 557.61L428.53 554.53L425.17 554.53Z" fill="#17508e"/>
<line x1="440.55" y1="556.89" x2="440.55" y2="560.74" stroke="#17508e" stroke-width="0.8"/>
<line x1="439.05" y1="556.89" x2="442.05" y2="556.89" stroke="#17508e" stroke-width="0.8"/>
<line x1="439.05" y1="560.74" x2="442.05" y2="560.74" stroke="#17508e" stroke-width="0.8"/>
<path d="M440.55 560.49L442.23 557.41L438.87 557.41Z" fill="#17508e"/>
<line x1="446.7" y1="552.28" x2="446.7" y2="555.16" stroke="#17508e" stroke-width="0.8"/>
<line x1="445.2" y1="552.28" x2="448.2" y2="552.28" stroke="#17508e" stroke-width="0.8"/>
<line x1="445.2" y1="555.16" x2="448.2" y2="555.16" stroke="#17508e" stroke-width="0.8"/>
<path d="M446.7 555.4L448.38 552.32L445.02 552.32Z" fill="#17508e"/>
<line x1="454.49" y1="547.09" x2="454.49" y2="552.86" stroke="#17508e" stroke-width="0.8"/>
<line x1="452.99" y1="547.09" x2="455.99" y2="547.09" stroke="#17508e" stroke-width="0.8"/>
<line x1="452.99" y1="552.86" x2="455.99" y2="552.86" stroke="#17508e" stroke-width="0.8"/>
<path d="M454.49 551.65L456.17 548.57L452.81 548.57Z" fill="#17508e"/>
<line x1="462.28" y1="541.71" x2="462.28" y2="547.47" stroke="#17508e" stroke-width="0.8"/>
<line x1="460.78" y1="541.71" x2="463.78" y2="541.71" stroke="#17508e" stroke-width="0.8"/>
<line x1="460.78" y1="547.47" x2="463.78" y2="547.47" stroke="#17508e" stroke-width="0.8"/>
<path d="M462.28 546.27L463.96 543.19L460.6 543.19Z" fill="#17508e"/>
<line x1="485.64" y1="486.16" x2="485.64" y2="493.08" stroke="#17508e" stroke-width="0.8"/>
<line x1="484.14" y1="486.16" x2="487.14" y2="486.16" stroke="#17508e" stroke-width="0.8"/>
<line x1="484.14" y1="493.08" x2="487.14" y2="493.08" stroke="#17508e" stroke-width="0.8"/>
<path d="M485.64 491.3L487.32 488.22L483.96 488.22Z" fill="#17508e"/>
<line x1="509" y1="519.89" x2="509" y2="525.66" stroke="#17508e" stroke-width="0.8"/>
<line x1="507.5" y1="519.89" x2="510.5" y2="519.89" stroke="#17508e" stroke-width="0.8"/>
<line x1="507.5" y1="525.66" x2="510.5" y2="525.66" stroke="#17508e" stroke-width="0.8"/>
<path d="M509 524.46L510.68 521.38L507.32 521.38Z" fill="#17508e"/>
<polyline points="393.5,554.49 403.85,552.57 414.2,553.53" fill="none" stroke="#d4113d" stroke-width="1.4" stroke-linejoin="round"/>
<polyline points="420,553.05 426.85,553.53 440.55,555.45" fill="none" stroke="#d4113d" stroke-width="1.4" stroke-linejoin="round"/>
<polyline points="446.7,556.41 454.49,556.12 462.28,549.97 485.64,491.06 509,516.05" fill="none" stroke="#d4113d" stroke-width="1.4" stroke-linejoin="round"/>
<line x1="393.5" y1="552.09" x2="393.5" y2="556.89" stroke="#d4113d" stroke-width="0.8"/>
<line x1="392" y1="552.09" x2="395" y2="552.09" stroke="#d4113d" stroke-width="0.8"/>
<line x1="392" y1="556.89" x2="395" y2="556.89" stroke="#d4113d" stroke-width="0.8"/>
<circle cx="393.5" cy="554.49" r="1.4" fill="#d4113d"/>
<line x1="403.85" y1="549.69" x2="403.85" y2="555.45" stroke="#d4113d" stroke-width="0.8"/>
<line x1="402.35" y1="549.69" x2="405.35" y2="549.69" stroke="#d4113d" stroke-width="0.8"/>
<line x1="402.35" y1="555.45" x2="405.35" y2="555.45" stroke="#d4113d" stroke-width="0.8"/>
<circle cx="403.85" cy="552.57" r="1.4" fill="#d4113d"/>
<line x1="414.2" y1="551.13" x2="414.2" y2="555.93" stroke="#d4113d" stroke-width="0.8"/>
<line x1="412.7" y1="551.13" x2="415.7" y2="551.13" stroke="#d4113d" stroke-width="0.8"/>
<line x1="412.7" y1="555.93" x2="415.7" y2="555.93" stroke="#d4113d" stroke-width="0.8"/>
<circle cx="414.2" cy="553.53" r="1.4" fill="#d4113d"/>
<line x1="420" y1="550.65" x2="420" y2="555.45" stroke="#d4113d" stroke-width="0.8"/>
<line x1="418.5" y1="550.65" x2="421.5" y2="550.65" stroke="#d4113d" stroke-width="0.8"/>
<line x1="418.5" y1="555.45" x2="421.5" y2="555.45" stroke="#d4113d" stroke-width="0.8"/>
<circle cx="420" cy="553.05" r="1.4" fill="#d4113d"/>
<line x1="426.85" y1="551.61" x2="426.85" y2="555.45" stroke="#d4113d" stroke-width="0.8"/>
<line x1="425.35" y1="551.61" x2="428.35" y2="551.61" stroke="#d4113d" stroke-width="0.8"/>
<line x1="425.35" y1="555.45" x2="428.35" y2="555.45" stroke="#d4113d" stroke-width="0.8"/>
<circle cx="426.85" cy="553.53" r="1.4" fill="#d4113d"/>
<line x1="440.55" y1="553.53" x2="440.55" y2="557.37" stroke="#d4113d" stroke-width="0.8"/>
<line x1="439.05" y1="553.53" x2="442.05" y2="553.53" stroke="#d4113d" stroke-width="0.8"/>
<line x1="439.05" y1="557.37" x2="442.05" y2="557.37" stroke="#d4113d" stroke-width="0.8"/>
<circle cx="440.55" cy="555.45" r="1.4" fill="#d4113d"/>
<line x1="446.7" y1="554.97" x2="446.7" y2="557.85" stroke="#d4113d" stroke-width="0.8"/>
<line x1="445.2" y1="554.97" x2="448.2" y2="554.97" stroke="#d4113d" stroke-width="0.8"/>
<line x1="445.2" y1="557.85" x2="448.2" y2="557.85" stroke="#d4113d" stroke-width="0.8"/>
<circle cx="446.7" cy="556.41" r="1.4" fill="#d4113d"/>
<line x1="454.49" y1="553.24" x2="454.49" y2="559.01" stroke="#d4113d" stroke-width="0.8"/>
<line x1="452.99" y1="553.24" x2="455.99" y2="553.24" stroke="#d4113d" stroke-width="0.8"/>
<line x1="452.99" y1="559.01" x2="455.99" y2="559.01" stroke="#d4113d" stroke-width="0.8"/>
<circle cx="454.49" cy="556.12" r="1.4" fill="#d4113d"/>
<line x1="462.28" y1="547.09" x2="462.28" y2="552.86" stroke="#d4113d" stroke-width="0.8"/>
<line x1="460.78" y1="547.09" x2="463.78" y2="547.09" stroke="#d4113d" stroke-width="0.8"/>
<line x1="460.78" y1="552.86" x2="463.78" y2="552.86" stroke="#d4113d" stroke-width="0.8"/>
<circle cx="462.28" cy="549.97" r="1.4" fill="#d4113d"/>
<line x1="485.64" y1="487.6" x2="485.64" y2="494.52" stroke="#d4113d" stroke-width="0.8"/>
<line x1="484.14" y1="487.6" x2="487.14" y2="487.6" stroke="#d4113d" stroke-width="0.8"/>
<line x1="484.14" y1="494.52" x2="487.14" y2="494.52" stroke="#d4113d" stroke-width="0.8"/>
<circle cx="485.64" cy="491.06" r="1.4" fill="#d4113d"/>
<line x1="509" y1="512.59" x2="509" y2="519.51" stroke="#d4113d" stroke-width="0.8"/>
<line x1="507.5" y1="512.59" x2="510.5" y2="512.59" stroke="#d4113d" stroke-width="0.8"/>
<line x1="507.5" y1="519.51" x2="510.5" y2="519.51" stroke="#d4113d" stroke-width="0.8"/>
<circle cx="509" cy="516.05" r="1.4" fill="#d4113d"/>
<line x1="393.1" y1="564.3" x2="414.9" y2="564.3" stroke="#111" stroke-width="1.3"/>
<line x1="419.8" y1="564.3" x2="442.1" y2="564.3" stroke="#111" stroke-width="1.3"/>
<line x1="445.6" y1="564.3" x2="512.2" y2="564.3" stroke="#111" stroke-width="1.3"/>
<line x1="414.9" y1="561.6" x2="414.9" y2="565" stroke="#111" stroke-width="0.9"/>
<line x1="419.8" y1="561.6" x2="419.8" y2="565" stroke="#111" stroke-width="0.9"/>
<line x1="442.1" y1="561.6" x2="442.1" y2="565" stroke="#111" stroke-width="0.9"/>
<line x1="445.6" y1="561.6" x2="445.6" y2="565" stroke="#111" stroke-width="0.9"/>
<line x1="454.49" y1="564.3" x2="454.49" y2="566.9" stroke="#111" stroke-width="0.9"/>
<line x1="470.06" y1="564.3" x2="470.06" y2="566.9" stroke="#111" stroke-width="0.9"/>
<line x1="485.64" y1="564.3" x2="485.64" y2="566.9" stroke="#111" stroke-width="0.9"/>
<line x1="501.22" y1="564.3" x2="501.22" y2="566.9" stroke="#111" stroke-width="0.9"/>
<line x1="393.5" y1="564.3" x2="393.5" y2="566.9" stroke="#111" stroke-width="0.9"/>
<text x="395.7" y="573.9" font-size="7.67" text-anchor="end" transform="rotate(-45 395.7 573.9)" stroke="#111" stroke-width="0.12">0</text>
<line x1="403.85" y1="564.3" x2="403.85" y2="566.9" stroke="#111" stroke-width="0.9"/>
<text x="406.05" y="573.9" font-size="7.67" text-anchor="end" transform="rotate(-45 406.05 573.9)" stroke="#111" stroke-width="0.12">0.25</text>
<line x1="414.2" y1="564.3" x2="414.2" y2="566.9" stroke="#111" stroke-width="0.9"/>
<text x="416.4" y="573.9" font-size="7.67" text-anchor="end" transform="rotate(-45 416.4 573.9)" stroke="#111" stroke-width="0.12">0.5</text>
<line x1="420" y1="564.3" x2="420" y2="566.9" stroke="#111" stroke-width="0.9"/>
<text x="422.2" y="573.9" font-size="7.67" text-anchor="end" transform="rotate(-45 422.2 573.9)" stroke="#111" stroke-width="0.12">1</text>
<line x1="426.85" y1="564.3" x2="426.85" y2="566.9" stroke="#111" stroke-width="0.9"/>
<text x="429.05" y="573.9" font-size="7.67" text-anchor="end" transform="rotate(-45 429.05 573.9)" stroke="#111" stroke-width="0.12">2</text>
<line x1="433.7" y1="564.3" x2="433.7" y2="566.9" stroke="#111" stroke-width="0.9"/>
<text x="435.9" y="573.9" font-size="7.67" text-anchor="end" transform="rotate(-45 435.9 573.9)" stroke="#111" stroke-width="0.12">3</text>
<line x1="440.55" y1="564.3" x2="440.55" y2="566.9" stroke="#111" stroke-width="0.9"/>
<text x="442.75" y="573.9" font-size="7.67" text-anchor="end" transform="rotate(-45 442.75 573.9)" stroke="#111" stroke-width="0.12">4</text>
<line x1="446.7" y1="564.3" x2="446.7" y2="566.9" stroke="#111" stroke-width="0.9"/>
<text x="448.9" y="573.9" font-size="7.67" text-anchor="end" transform="rotate(-45 448.9 573.9)" stroke="#111" stroke-width="0.12">8</text>
<line x1="462.28" y1="564.3" x2="462.28" y2="566.9" stroke="#111" stroke-width="0.9"/>
<text x="464.48" y="573.9" font-size="7.67" text-anchor="end" transform="rotate(-45 464.48 573.9)" stroke="#111" stroke-width="0.12">24</text>
<line x1="477.85" y1="564.3" x2="477.85" y2="566.9" stroke="#111" stroke-width="0.9"/>
<text x="480.05" y="573.9" font-size="7.67" text-anchor="end" transform="rotate(-45 480.05 573.9)" stroke="#111" stroke-width="0.12">40</text>
<line x1="493.43" y1="564.3" x2="493.43" y2="566.9" stroke="#111" stroke-width="0.9"/>
<text x="495.63" y="573.9" font-size="7.67" text-anchor="end" transform="rotate(-45 495.63 573.9)" stroke="#111" stroke-width="0.12">56</text>
<line x1="509" y1="564.3" x2="509" y2="566.9" stroke="#111" stroke-width="0.9"/>
<text x="511.2" y="573.9" font-size="7.67" text-anchor="end" transform="rotate(-45 511.2 573.9)" stroke="#111" stroke-width="0.12">72</text>
<text x="453.1" y="595.9" font-size="9" text-anchor="middle" textLength="35.6" lengthAdjust="spacingAndGlyphs" stroke="#111" stroke-width="0.15">Time (hours)</text>
<rect x="0.5" y="0.5" width="519" height="614" fill="none" stroke="#000" stroke-width="1.2"/>
</svg>
</body></html>
